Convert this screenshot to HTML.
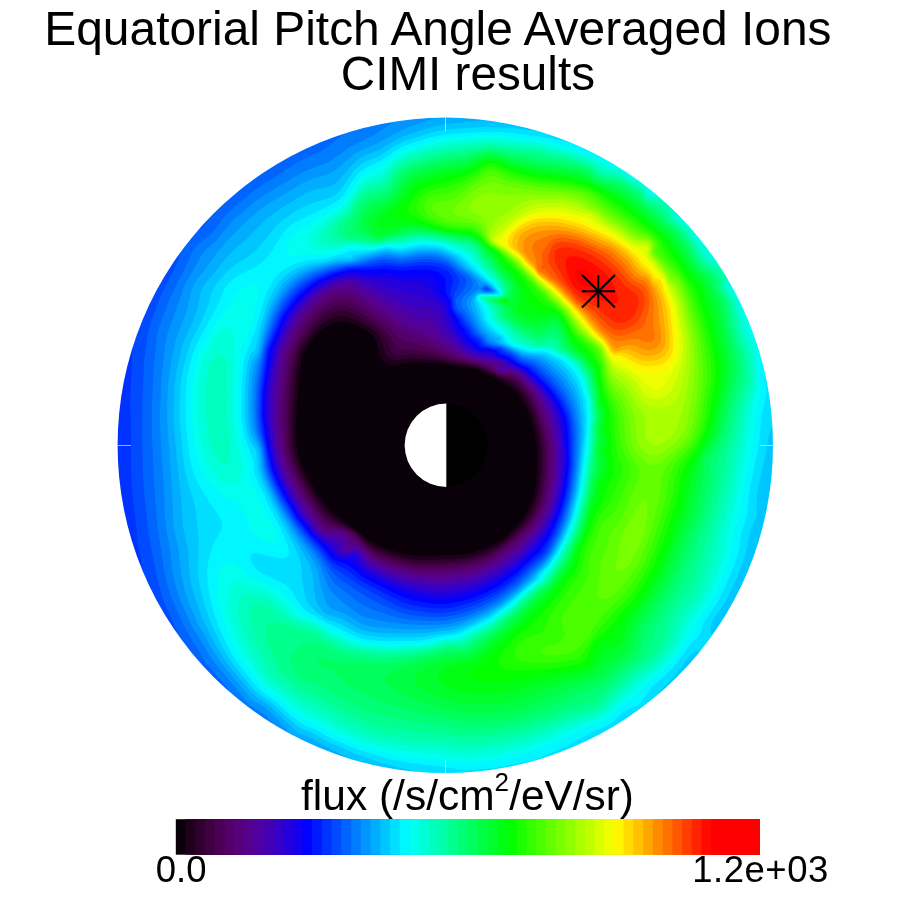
<!DOCTYPE html>
<html lang="en">
<head>
<meta charset="utf-8">
<title>Equatorial Pitch Angle Averaged Ions - CIMI results</title>
<style>
html,body{margin:0;padding:0;background:#fff;}
body{width:900px;height:900px;overflow:hidden;}
svg{display:block;}
text{font-family:"Liberation Sans",Arial,Helvetica,sans-serif;fill:#000;}
</style>
</head>
<body>
<svg width="900" height="900" viewBox="0 0 900 900">
<rect width="900" height="900" fill="#fff"/>
<circle cx="445.3" cy="445.3" r="230" fill="#0a0009"/>
<g fill-rule="evenodd">
<path fill="#1e001c" d="M463.0 775.3l-35 0 -1-1 -13 0 -1-1 -8 0 -1-1 -6 0 -1-1 -6 0 -1-1 -4-0.1 -1-0.9 -4-0.1 -1-1 -4 0 -1-1 -4 0 -1-1 -3 0 -1-1 -3 0 -1-1 -3 0 -1-1 -2 0 -1-1 -3 0 -1-1 -2 0 -1-1 -2 0 -1-1 -2 0 -1-1 -2 0 -1-1 -2 0 -1-1 -2 0 -1-1 -2 0 -3-2 -2 0 -1-1 -2 0 -1-1 -1 0 -1-1 -1 0 -1-1 -2 0 -1-1 -1 0 -3-2 -2 0 -1-1 -1 0 -1-1 -1 0 -1-1 -1 0 -1-1 -1 0 -1-1 -1 0 -3-2 -1 0 -1-1 -1 0 -1-1 -1 0 -1-1 -1 0 -1-1 -1 0 -2-2 -1 0 -1-1 -1 0 -1-1 -1 0 -2-2 -1 0 -1-1 -1 0 -2-2 -1 0 -1-1 -1 0 -2-2 -1 0 -2-2 -1 0 -2-2 -1 0 -2-2 -1 0 -2-2 -1 0 -2-2 -1 0 -3-3 -1 0 -3-3 -1 0 -4-4 -1 0 -4-4 -1 0 -6-6 -1 0 -29.2-29.2 0-1 -6-6 0-1 -5-5 0-1 -3-3 0-1 -3-3 0-1 -3-3 0-1 -2-2 0-1 -3-3 0-1 -2-2 0-1 -2-2 0-1 -2-2 0-1 -1-1 0-1 -2-2 0-1 -1-1 0-1 -2-2 0-1 -1-1 0-1 -2-2 0-1 -1-1 0-1 -1-1 0-1 -1-1 0-1 -2-3 0-1 -2-2 0-1 -1-1 0-1 -1-1 0-2 -2-3 0-1 -1-1 0-1 -1-1 0-1 -1-1 0-1 -1-1 0-2 -2-3 0-1 -1-1 0-2 -1-1 0-1 -1-1 0-2 -1-1 0-2 -2-3 0-2 -1-1 0-2 -1-1 0-2 -1-1 0-2 -1-1 0-2 -1-1 0-2 -1-1 0-3 -1-1 0-2 -1-1 0-3 -1-1 0-3 -1-1 0-3 -1-1 0-3 -1-1 0-4 -1-1 0-4 -1-1 0-5 -1-1 0-5 -1-1 0-6 -1-1 0-7 -1-1 0-10 -1-1 0-48 1-1 0-10 1-1 0-7 1-1 0-6 1-1 0-5 1-1 0-4 1-1 0-4 1-1 0-4 1-1 0-3 1-1 0-3 1-1 0-3 1-1 0-3 1-1 0-3 1-1 0-2 1-1 0-2 1-1 0-2 1-1 0-2 1-1 0-2 1-1 0-2 1-1 0-2 1-1 0-2 2-3 0-2 1-1 0-2 1-1 0-1 1-1 0-1 1-1 0-2 2-3 0-1 1-1 0-2 1-1 0-1 1-1 0-1 1-1 0-1 1-1 0-1 1-1 0-1 1-1 0-1 1-1 0-1 1-1 0-1 1-1 0-1 1-1 0-1 2-2 0-1 1-1 0-1 1-1 0-1 2-2 0-1 1-1 0-1 2-2 0-1 1-1 0-1 2-2 0-1 2-2 0-1 1-1 0-1 2-2 0-1 3-3 0-1 2-2 0-1 3-3 0-1 3-3 0-1 3-3 0-1 4-4 0-1 5-5 0-1 8-8 0-1 18.2-18.2 1 0 8-8 1 0 5-5 1 0 4-4 1 0 3-3 1 0 3-3 1 0 3-3 1 0 2-2 1 0 3-3 1 0 2-2 1 0 1-1 1 0 2-2 1 0 2-2 1 0 1-1 1 0 2-2 1 0 1-1 1 0 2-2 1 0 1-1 1 0 1-1 1 0 2-2 1 0 1-1 1 0 1-1 1 0 1-1 1 0 1-1 1 0 1-1 1 0 1-1 1 0 1-1 1 0 1-1 1 0 1-1 1 0 1-1 2 0 3-2 1 0 1-1 2 0 3-2 1 0 1-1 2 0 1-1 2 0 3-2 2 0 1-1 2 0 1-1 2 0 1-1 2 0 1-1 2 0 1-1 2 0 1-1 2 0 1-1 2 0 1-1 3 0 1-1 3 0 1-1 3 0 1-1 3 0 1-1 3 0 1-1 4 0 1-1 4 0 1-1 4 0 1-1 5 0 1-1 6 0 1-1 7 0 1-1 10 0 1-1 48 0 1 1 10 0 1 1 7 0 1 1 6 0 1 1 5 0 1 1 5 0 1 1 4 0 1 1 4 0 1 0.9 3 0 1 1 3 0 1 1 3 0 1 1 3 0 1 1 2 0 1 1 3 0 1 1 2 0 1 1 2 0 1 1 2 0 1 1 2 0 1 1 2 0 1 1 2 0 3 2 2 0 1 1 2 0 3 2 2 0 1 1 1 0 1 1 1 0 1 1 2 0 1 1 1 0 1 1 1 0 1 1 1 0 1 1 1 0 3 2 2 0 1 1 1 0 1 1 1 0 2 2 1 0 1 1 1 0 3 2 1 0 1 1 1 0 1 1 1 0 2 2 1 0 1 1 1 0 2 2 1 0 1 1 1 0 2 2 1 0 1 1 1 0 2 2 1 0 2 2 1 0 2 2 1 0 3 3 1 0 2 2 1 0 3 3 1 0 3 3 1 0 3 3 1 0 5 5 1 0 6 6 1 0 29.3 29.3 0 1 6 6 0 1 4 4 0 1 4 4 0 1 3 3 0 1 3 3 0 1 2 2 0 1 2 2 0 1 2 2 0 1 2 2 0 1 2 2 0 1 2 2 0 1 1 1 0 1 2 2 0 1 1 1 0 1 2 2 0 1 2 3 0 1 2 2 0 1 1 1 0 1 2 3 0 1 1 1 0 1 1 1 0 1 1 1 0 1 1 1 0 1 1 1 0 1 1 1 0 1 1 1 0 1 1 1 0 2 1 1 0 1 1 1 0 1 1 1 0 2 2 3 0 1 1 1 0 2 1 1 0 2 2 3 0 2 1 1 0 2 1 1 0 2 1 1 0 2 1 1 0 2 1 1 0 2 1 1 0 2 1 1 0 3 1 1 0 2 1 1 0 3 1 1 0 3 1 1 0 3 1 1 0 4 1 1 0 4 1 1 0 4 1 1 0 4 1 1 0 6 1 1 0 6 1 1 0 8 1 1 0 13 1 1 -0.1 35 -0.9 1 -0.1 12 -1 1 0 8 -1 1 0 7 -1 1 0 5 -1 1 0 5 -1 1 0 4 -1 1 0 4 -1 1 0 3 -1 1 0 3 -1 1 0 3 -1 1 0 3 -1 1 0 3 -1 1 0 2 -1 1 0 3 -1 1 0 2 -1 1 0 2 -1 1 0 2 -1 1 0 2 -1 1 0 2 -2 3 0 2 -1 1 0 2 -2 3 0 2 -1 1 0 1 -1 1 0 1 -1 1 0 2 -1 1 0 1 -1 1 0 1 -2 3 0 2 -1 1 0 1 -1 1 0 1 -1 1 0 1 -2 3 0 1 -1 1 0 1 -1 1 0 1 -2 2 0 1 -2 3 0 1 -1 1 0 1 -2 2 0 1 -1 1 0 1 -2 2 0 1 -1 1 0 1 -2 2 0 1 -2 2 0 1 -1 1 0 1 -2 2 0 1 -2.9 3 0 1 -2 2 0 1 -3 3 0 1 -2 2 0 1 -4 4 0 1 -4 4 0 1 -4 4 0 1 -7.1 7 0 1 -23.2 23.3 -1 0 -7 7 -1 0 -4 4 -1 0 -4 4 -1 0 -4 4 -1 0 -2 2 -1 0 -3 3 -1 0 -2 2 -1 0 -3 3 -1 0 -2 2 -1 0 -1 1 -1 0 -2 2 -1 0 -2 2 -1 0 -1 1 -1 0 -2 2 -1 0 -1 1 -1 0 -2 2 -1 0 -3 2 -1 0 -1 1 -1 0 -2 2 -1 0 -3 2 -1 0 -1 1 -1 0 -3 2 -1 0 -1 1 -1 0 -1 1 -2 0 -1 1 -1 0 -1 1 -1 0 -3 2 -2 0 -1 1 -1 0 -3 2 -2 0 -3 2 -2 0 -1 1 -2 0 -3 2 -2 0 -1 1 -2 0 -1 1 -2 0 -1 1 -2 0 -1 1 -2 0 -1 1 -3 0 -1 1 -2 0 -1 1 -3 0 -1 1 -3 0 -1 1 -3 0 -1 1 -3 0 -1 1 -3 0 -1 1 -4 0 -1 1 -4 0 -1 1 -5 0 -1 1 -5 0 -1 1 -7 0 -1 1 -8 0 -1 1 -12 0 -1 1zM438.1 556.0l20.9-1.2 10-1.4 11-3.1 12.1-5.3 8.9-4.7 4.3-3.3 12.7-12.5 8-10.5 5-10 3.5-11 2-12 0.9-15 -0.4-16.3 -2-14.9 -3.4-13.8 -4.6-12 -6.7-12 -3.3-4.2 -4-3.8 -11-6.6 -4.5-3.4 -6.5-3.3 -7-2.5 -5-3.3 -11-3 -11-0.7 -19-3 -25-0.8 -6 0.5 -12 2 -4 0 -3-0.5 -3.1-1.4 -3.1-3 -1.9-4 -2.3-11 -1.9-5 -3.6-5 -5.1-4.3 -10-5.3 -10-3 -5-0.5 -4 0.2 -4 0.8 -4 1.5 -5 2.9 -4.7 3.7 -4.3 4.3 -5 6.1 -3.9 5.6 -2.8 5 -1.7 5 -1.4 6 -1.7 13 -2.5 29.3 -1 17.2 -0.2 14.5 0.7 9 1.5 7.6 2.6 8.4 3.4 7.9 6 11.5 6 10 7 10.2 6 7.5 5.2 4.9 14.6 11 9.2 5.7 8 7.8 3 2.3 6.1 3.2 9.9 4.2 10 3.4 9.8 2.4 15.2 2.3 18.1-0.3z"/>
<path fill="#30002f" d="M463.0 775.2l-35 0 -1-1 -13 0 -1-1 -8 0 -1-1 -6 0 -1-1 -6 0 -1-1 -4 0 -1-1 -4 0 -1-1 -4 0 -1-1 -4 0 -1-1 -3 0 -1-1 -3 0 -1-1 -3 0 -1-1 -2 0 -1-1 -3 0 -1-1 -2 0 -1-1 -2 0 -1-1 -2 0 -1-1 -2 0 -1-1 -2 0 -1-1 -2 0 -1-1 -2 0 -3-2 -2 0 -1-1 -2 0 -1-1 -1 0 -1-1 -1 0 -1-1 -2 0 -1-1 -1 0 -3-2 -2 0 -1-1 -1 0 -1-1 -1 0 -1-1 -1 0 -1-1 -1 0 -1-1 -1 0 -3-2 -1 0 -1-1 -1 0 -1-1 -1 0 -1-1 -1 0 -1-1 -1 0 -2-2 -1 0 -1-1 -1 0 -1-1 -1 0 -2-2 -1 0 -1-1 -1 0 -2-2 -1 0 -1-1 -1 0 -2-2 -1 0 -2-2 -1 0 -2-2 -1 0 -2-2 -1 0 -2-2 -1 0 -2-2 -1 0 -3-3 -1 0 -3-3 -1 0 -4-4 -1 0 -4-4 -1 0 -6-6 -1 0 -29.2-29.2 0-1 -6-6 0-1 -5-5 0-1 -3-3 0-1 -3-3 0-1 -3-3 0-1 -2-2 0-1 -3-3 0-1 -2-2 0-1 -2-2 0-1 -2-2 0-1 -1-1 0-1 -2-2 0-1 -1-1 0-1 -2-2 0-1 -1-1 0-1 -2-2 0-1 -1-1 0-1 -1-1 0-1 -1-1 0-1 -2-3 0-1 -2-2 0-1 -1-1 0-1 -1-1 0-2 -2-3 0-1 -1-1 0-1 -1-1 0-1 -1-1 0-1 -1-1 0-2 -2-3 0-1 -1-1 0-2 -1-1 0-1 -1-1 0-2 -1-1 0-2 -2-3 0-2 -1-1 0-2 -1-1 0-2 -1-1 0-2 -1-1 0-2 -1-1 0-2 -1-1 0-3 -1-1 0-2 -1-1 0-3 -1-1 0-3 -1-1 0-3 -1-1 0-3 -1-1 0-4 -1-1 0-4 -1-1 0-5 -1-1 0-5 -1-1 0-6 -1-1 0-7 -1-1 0-10 -1-1 0-48 1-1 0-10 1-1 0-7 1-1 0-6 1-1 0-5 1-1 0-4 1-1 0-4 1-1 0-4 1-1 0-3 1-1 0-3 1-1 0-3 1-1 0-3 1-1 0-3 1-1 0-2 1-1 0-2 1-1 0-2 1-1 0-2 1-1 0-2 1-1 0-2 1-1 0-2 1-1 0-2 2-3 0-2 1-1 0-2 1-1 0-1 1-1 0-1 1-1 0-2 2-3 0-1 1-1 0-2 1-1 0-1 1-1 0-1 1-1 0-1 1-1 0-1 1-1 0-1 1-1 0-1 1-1 0-1 1-1 0-1 1-1 0-1 1-1 0-1 2-2 0-1 1-1 0-1 1-1 0-1 2-2 0-1 1-1 0-1 2-2 0-1 1-1 0-1 2-2 0-1 2-2 0-1 1-1 0-1 2-2 0-1 3-3 0-1 2-2 0-1 3-3 0-1 3-3 0-1 3-3 0-1 4-4 0-1 5-5 0-1 8-8 0-1 18.2-18.2 1 0 8-8 1 0 5-5 1 0 4-4 1 0 3-3 1 0 3-3 1 0 3-3 1 0 2-2 1 0 3-3 1 0 2-2 1 0 1-1 1 0 2-2 1 0 2-2 1 0 1-1 1 0 2-2 1 0 1-1 1 0 2-2 1 0 1-1 1 0 1-1 1 0 2-2 1 0 1-1 1 0 1-1 1 0 1-1 1 0 1-1 1 0 1-1 1 0 1-1 1 0 1-1 1 0 1-1 1 0 1-1 1 0 1-1 2 0 3-2 1 0 1-1 2 0 3-2 1 0 1-1 2 0 1-1 2 0 3-2 2 0 1-1 2 0 1-1 2 0 1-1 2 0 1-1 2 0 1-1 2 0 1-1 2 0 1-1 2 0 1-1 3 0 1-1 3 0 1-1 3 0 1-1 3 0 1-1 3 0 1-1 4 0 1-1 4 0 1-1 4 0 1-1 5 0 1-1 6 0 1-1 7 0 1-1 10 0 1-1 48 0 1 1 10 0 1 1 7 0 1 1 6 0 1 1 5 0 1 1 5 0 1 1 4 0 1 1 4 0 1 1 3 0 1 1 3 0 1 1 3 0 1 1 3 0 1 1 2 0 1 1 3 0 1 1 2 0 1 1 2 0 1 1 2 0 1 1 2 0 1 1 2 0 1 1 2 0 3 2 2 0 1 1 2 0 3 2 2 0 1 0.9 1 0 1 1 1 0 1 1 2 0 1 1 1 0 1 1 1 0 1 1 1 0 1 1 1 0 3 2 2 0 1 1 1 0 1 1 1 0 2 2 1 0 1 1 1 0 3 2 1 0 1 1 1 0 1 1 1 0 2 2 1 0 1 1 1 0 2 2 1 0 1 1 1 0 2 2 1 0 1 1 1 0 2 2 1 0 2 2 1 0 2 2 1 0 3 3 1 0 2 2 1 0 3 3 1 0 3 3 1 0 3 3 1 0 5 5 1 0 6 6 1 0 29.3 29.3 0 1 6 6 0 1 4 4 0 1 4 4 0 1 3 3 0 1 3 3 0 1 2 2 0 1 2 2 0 1 2 2 0 1 2 2 0 1 2 2 0 1 2 2 0 1 1 1 0 1 2 2 0 1 1 1 0 1 2 2 0 1 2 3 0 1 2 2 0 1 1 1 0 1 2 3 0 1 1 1 0 1 1 1 0 1 1 1 0 1 1 1 0 1 1 1 0 1 1 1 0 1 1 1 0 1 1 1 0 2 1 1 0 1 1 1 0 1 1 1 0 2 2 3 0 1 1 1 0 2 1 1 0 2 2 3 0 2 1 1 0 2 1 1 0 2 1 1 0 2 1 1 0 2 1 1 0 2 1 1 0 2 1 1 0 3 1 1 0 2 1 1 0 3 1 1 0 3 1 1 0 3 1 1 0 4 1 1 0 4 0.9 1 0.1 4 0.9 1 0.1 4 0.9 1 0 6 1 1 0 6 1 1 0 8 1 1 0 13 1 1 0 35 -1 1 0 12 -1 1 0 8 -1 1 0 7 -1 1 0 5 -1 1 0 5 -1 1 0 4 -1 1 0 4 -1 1 0 3 -1 1 0 3 -1 1 0 3 -1 1 0 3 -1 1 0 3 -1 1 0 2 -1 1 0 3 -1 1 0 2 -1 1 0 2 -1 1 0 2 -1 1 0 2 -1 1 0 2 -2 3 0 2 -1 1 0 2 -2 3 0 2 -1 1 0 1 -1 1 0 1 -1 1 0 2 -1 1 0 1 -1 1 0 1 -2 3 0 2 -1 1 0 1 -1 1 0 1 -1 1 0 1 -2 3 0 1 -1 1 0 1 -1 1 0 1 -2 2 0 1 -2 3 0 1 -1 1 0 1 -2 2 0 1 -1 1 0 1 -2 2 0 1 -1 1 0 1 -2 2 0 1 -2 2 0 1 -1 1 0 1 -2 2 0 1 -3 3 0 1 -2 2 0 1 -3 3 0 1 -2 2 0 1 -4 4 0 1 -4 4 0 1 -4 4 0 1 -7 7 0 1 -23.2 23.2 -1 0 -7 7 -1 0 -4 4 -1 0 -4 4 -1 0 -4 4 -1 0 -2 2 -1 0 -3 3 -1 0 -2 2 -1 0 -3 3 -1 0 -2 2 -1 0 -1 1 -1 0 -2 2 -1 0 -2 2 -1 0 -1 1 -1 0 -2 2 -1 0 -1 1 -1 0 -2 2 -1 0 -3 2 -1 0 -1 1 -1 0 -2 2 -1 0 -3 2 -1 0 -1 1 -1 0 -3 2 -1 0 -1 1 -1 0 -1 1 -2 0 -1 1 -1 0 -1 1 -1 0 -3 2 -2 0 -1 1 -1 0 -3 2 -2 0 -3 2 -2 0 -1 1 -2 0.1 -3 1.9 -2 0.1 -1 1 -2 0 -1 1 -2 0 -1 1 -2 0 -1 1 -2 0 -1 1 -3 0 -1 1 -2 0 -1 1 -3 0 -1 1 -3 0 -1 1 -3 0 -1 1 -3 0 -1 1 -3 0 -1 1 -4 0 -1 1 -4 0 -1 0.9 -5 0.1 -1 0.9 -5 0.1 -1 0.9 -7 0.1 -1 0.9 -8 0 -1 1 -12 0 -1 1zM448.9 559.0l14.1-1.1 11-2.2 10.7-3.7 12.3-6.1 8.8-5.9 12.7-12 7.8-9 4.9-8 4.8-11.5 3-13.4 1.4-15.1 0.1-17 -1.1-12 -2.6-14 -3.9-13 -4.8-11 -3.1-5.7 -3.6-5.3 -3.4-4 -4-3.5 -11.3-6.5 -17.7-7.9 -5.6-3.1 -9.4-2.4 -18-2.1 -12-2.8 -21-2.1 -8-0.1 -14 1.8 -5-0.6 -3.5-1.7 -2.5-3 -1.3-3 -2.7-10 -3.1-6 -4.4-5 -5.5-4.2 -12-6.4 -6-2.4 -5-1.4 -4-0.5 -4 0.2 -4 1 -5 2 -6 3.9 -5 4.3 -5 5.5 -6 7.8 -4 5.9 -2 3.9 -2 6.4 -1.5 7 -1.7 14 -2 23 -1 21 0.1 17 1 10 1.9 8 3.2 9 4 8.7 6 11.2 7 11.4 6.1 8.7 5.9 7 7.4 6 20.6 12.5 10 9.8 6 4.3 8.9 4.4 10.5 4 8.6 2.4 11 2.4 7 0.9 7 0.3 23.9-1z"/>
<path fill="#3f0042" d="M463.0 775.2l-35 0 -1-1 -13 0 -1-1 -8 0 -1-1 -6 0 -1-1 -6 0 -1-1 -4 0 -1-1 -4 0 -1-1 -4 0 -1-1 -4 0 -1-1 -3 0 -1-1 -3 0 -1-1 -3 0 -1-1 -2 0 -1-1 -3 0 -1-1 -2 0 -1-1 -2 0 -1-1 -2 0 -1-1 -2 0 -1-1 -2 0 -1-1 -2 0 -1-1 -2 0 -3-2 -2 0 -1-1 -2 0 -1-1 -1 0 -1-1 -1 0 -1-1 -2 0 -1-1 -1 0 -3-2 -2 0 -1-1 -1 0 -1-1 -1 0 -1-1 -1 0 -1-1 -1 0 -1-1 -1 0 -3-2 -1 0 -1-1 -1 0 -1-1 -1 0 -1-1 -1 0 -1-1 -1 0 -2-2 -1 0 -1-1 -1 0 -1-1 -1 0 -2-2 -1 0 -1-1 -1 0 -2-2 -1 0 -1-1 -1 0 -2-2 -1 0 -2-2 -1 0 -2-2 -1 0 -2-2 -1 0 -2-2 -1 0 -2-2 -1 0 -3-3 -1 0 -3-3 -1 0 -4-4 -1 0 -4-4 -1 0 -6-6 -1 0 -29.2-29.2 0-1 -6-6 0-1 -5-5 0-1 -3-3 0-1 -3-3 0-1 -3-3 0-1 -2-2 0-1 -3-3 0-1 -2-2 0-1 -2-2 0-1 -2-2 0-1 -1-1 0-1 -2-2 0-1 -1-1 0-1 -2-2 0-1 -1-1 0-1 -2-2 0-1 -1-1 0-1 -1-1 0-1 -1-1 0-1 -2-3 0-1 -2-2 0-1 -1-1 0-1 -1-1 0-2 -2-3 0-1 -1-1 0-1 -1-1 0-1 -1-1 0-1 -1-1 0-2 -2-3 0-1 -1-1 0-2 -1-1 0-1 -1-1 0-2 -1-1 0-2 -2-3 0-2 -1-1 0-2 -1-1 0-2 -1-1 0-2 -1-1 0-2 -1-1 0-2 -1-1 0-3 -1-1 0-2 -1-1 0-3 -1-1 0-3 -1-1 0-3 -1-1 0-3 -1-1 0-4 -1-1 0-4 -1-1 0-5 -1-1 0-5 -1-1 0-6 -1-1 0-7 -1-1 0-10 -1-1 0-48 1-1 0-10 1-1 0-7 1-1 0-6 1-1 0-5 1-1 0-4 1-1 0-4 1-1 0-4 1-1 0-3 1-1 0-3 1-1 0-3 1-1 0-3 1-1 0-3 1-1 0-2 1-1 0-2 1-1 0-2 1-1 0-2 1-1 0-2 1-1 0-2 1-1 0-2 1-1 0-2 2-3 0-2 1-1 0-2 1-1 0-1 1-1 0-1 1-1 0-2 2-3 0-1 1-1 0-2 1-1 0-1 1-1 0-1 1-1 0-1 1-1 0-1 1-1 0-1 1-1 0-1 1-1 0-1 1-1 0-1 1-1 0-1 1-1 0-1 2-2 0-1 1-1 0-1 1-1 0-1 2-2 0-1 1-1 0-1 2-2 0-1 1-1 0-1 2-2 0-1 2-2 0-1 1-1 0-1 2-2 0-1 3-3 0-1 2-2 0-1 3-3 0-1 3-3 0-1 3-3 0-1 4-4 0-1 5-5 0-1 8-8 0-1 18.2-18.2 1 0 8-8 1 0 5-5 1 0 4-4 1 0 3-3 1 0 3-3 1 0 3-3 1 0 2-2 1 0 3-3 1 0 2-2 1 0 1-1 1 0 2-2 1 0 2-2 1 0 1-1 1 0 2-2 1 0 1-1 1 0 2-2 1 0 1-1 1 0 1-1 1 0 2-2 1 0 1-1 1 0 1-1 1 0 1-1 1 0 1-1 1 0 1-1 1 0 1-1 1 0 1-1 1 0 1-1 1 0 1-1 1 0 1-1 2 0 3-2 1 0 1-1 2 0 3-2 1 0 1-1 2 0 1-1 2 0 3-2 2 0 1-1 2 0 1-1 2 0 1-1 2 0 1-1 2 0 1-1 2 0 1-1 2 0 1-1 2 0 1-1 3 0 1-1 3 0 1-1 3 0 1-1 3 0 1-1 3 0 1-1 4 0 1-1 4 0 1-1 4 0 1-1 5 0 1-1 6 0 1-1 7 0 1-1 10 0 1-1 48 0 1 1 10 0 1 1 7 0 1 1 6 0 1 1 5 0 1 1 5 0 1 1 4 0 1 1 4 0 1 1 3 0 1 1 3 0 1 1 3 0 1 1 3 0 1 1 2 0 1 1 3 0 1 1 2 0 1 1 2 0 1 1 2 0 1 1 2 0 1 1 2 0 1 1 2 0 3 2 2 0 1 1 2 0 3 2 2 0 1 1 1 0 1 1 1 0 1 1 2 0 1 1 1 0 1 1 1 0 1 1 1 0 1 1 1 0 3 2 2 0 1 1 1 0 1 1 1 0 2 2 1 0 1 1 1 0 3 2 1 0 1 1 1 0 1 1 1 0 2 2 1 0 1 1 1 0 2 2 1 0 1 1 1 0 2 1.9 1 0 1 1 1 0 2 2 1 0 2 2 1 0 2 2 1 0 3 3 1 0 2 2 1 0 3 3 1 0 3 3 1 0 3 3 1 0.1 5 4.9 1 0 6 6 1 0 29.3 29.3 0 1 6 6 0 1 4 4 0 1 4 4 0 1 3 3 0 1 3 3 0 1 2 2 0 1 2 2 0 1 2 2 0 1 2 2 0 1 2 2 0 1 2 2 0 1 1 1 0 1 2 2 0 1 1 1 0 1 2 2 0 1 2 3 0 1 2 2 0 1 1 1 0 1 2 3 0 1 1 1 0 1 1 1 0 1 1 1 0 1 1 1 0 1 1 1 0 1 1 1 0 1 1 1 0 1 1 1 0 2 1 1 0 1 1 1 0 1 1 1 0 2 1.9 3 0.1 1 0.9 1 0.1 2 0.9 1 0 2 2 3 0 2 1 1 0.1 2 0.9 1 0.1 2 0.9 1 0.1 2 1 1 0 2 1 1 0 2 0.9 1 0.1 2 0.9 1 0 3 1 1 0 2 1 1 0 3 1 1 0 3 1 1 0 3 1 1 0 4 1 1 0 4 1 1 0 4 1 1 0 4 1 1 0 6 1 1 0 6 1 1 0 8 1 1 0 13 1 1 0 35 -1 1 0 12 -1 1 0 8 -1 1 0 7 -1 1 0 5 -1 1 0 5 -1 1 0 4 -1 1 0 4 -1 1 0 3 -1 1 0 3 -1 1 0 3 -1 1 0 3 -1 1 0 3 -1 1 0 2 -1 1 0 3 -1 1 0 2 -1 1 0 2 -1 1 0 2 -1 1 0 2 -1 1 0 2 -2 3 0 2 -1 1 0 2 -2 3 0 2 -1 1 0 1 -1 1 0 1 -1 1 0 2 -1 1 0 1 -1 1 0 1 -2 3 0 2 -1 1 0 1 -1 1 0 1 -1 1 0 1 -2 3 0 1 -1 1 0 1 -1 1 0 1 -2 2 0 1 -2 3 0 1 -1 1 0 1 -2 2 0 1 -1 1 0 1 -2 2 0 1 -1 1 0 1 -2 2 0 1 -2 2 0 1 -1 1 0 1 -2 2 0 1 -3 3 0 1 -2 2 0 1 -3 3 0 1 -2 2 0 1 -4 4 0 1 -4 4 0 1 -4 4 0 1 -7 7 0 1 -23.2 23.2 -1 0 -7 7 -1 0 -4 4 -1 0 -4 4 -1 0 -4 4 -1 0 -2 2 -1 0 -3 3 -1 0 -2 2 -1 0 -3 3 -1 0 -2 2 -1 0 -1 1 -1 0 -2 2 -1 0 -2 2 -1 0 -1 1 -1 0 -2 2 -1 0 -1 1 -1 0 -2 2 -1 0 -3 2 -1 0 -1 1 -1 0 -2 2 -1 0 -3 2 -1 0 -1 1 -1 0 -3 2 -1 0 -1 1 -1 0 -1 1 -2 0 -1 1 -1 0 -1 1 -1 0 -3 2 -2 0 -1 1 -1 0 -3 2 -2 0 -3 2 -2 0 -1 1 -2 0 -3 2 -2 0 -1 1 -2 0 -1 1 -2 0 -1 1 -2 0 -1 1 -2 0 -1 1 -3 0 -1 1 -2 0 -1 1 -3 0 -1 1 -3 0 -1 1 -3 0 -1 1 -3 0 -1 1 -3 0 -1 1 -4 0 -1 1 -4 0 -1 1 -5 0 -1 1 -5 0 -1 1 -7 0 -1 1 -8 0 -1 1 -12 0 -1 1zM450.3 562.0l12.7-1.1 11-2.2 10.7-3.7 10.3-5.2 11.3-7.8 8.7-7.5 12-12.5 3.7-5 2.9-5 4.4-10.3 3.1-12.7 1.7-15 0.4-17 -0.7-12 -2.5-14.4 -4-14.5 -4-10.2 -5-9.3 -5-7.1 -6-6.1 -5.2-3.4 -13.8-4.6 -16.5-8.4 -6.6-2 -21.9-3.3 -12-3.3 -22-3.8 -7-0.3 -12 1.1 -4-0.6 -2.9-1.8 -1.6-2 -4.1-11 -3.6-6 -4.8-5.1 -6.4-4.9 -16.6-9.4 -8-3.4 -4-0.7 -4 0.1 -4 0.9 -4 1.5 -6 3.5 -6 4.9 -5 5.1 -6 7.5 -8.5 13 -2.6 7 -1.9 7.5 -2 13.7 -1.9 21.8 -0.9 22 0 17 0.7 10 1.5 8 2.6 8.8 4 9.5 7 13.6 6 10.2 8 11.8 6 7.2 7.3 5.9 11.7 5.8 10 5.8 12 11.8 7 5 8 3.9 10 3.8 10 2.7 10.8 2.2 13.2 1 24.3-1z"/>
<path fill="#4c0055" d="M463.0 775.2l-35 0 -1-1 -13 0 -1-1 -8 0 -1-1 -6 0 -1-1 -6 0 -1-1 -4 0 -1-1 -4 0 -1-1 -4 0 -1-1 -4 0 -1-1 -3 0 -1-1 -3 0 -1-1 -3 0 -1-1 -2 0 -1-1 -3 0 -1-1 -2 0 -1-1 -2 0 -1-1 -2 0 -1-1 -2 0 -1-1 -2 0 -1-1 -2 0 -1-1 -2 0 -3-2 -2 0 -1-1 -2 0 -1-1 -1 0 -1-1 -1 0 -1-1 -2 0 -1-1 -1 0 -3-2 -2 0 -1-1 -1 0 -1-1 -1 0 -1-1 -1 0 -1-1 -1 0 -1-1 -1 0 -3-2 -1 0 -1-1 -1 0 -1-1 -1 0 -1-1 -1 0 -1-1 -1 0 -2-2 -1 0 -1-1 -1 0 -1-1 -1 0 -2-2 -1 0 -1-1 -1 0 -2-2 -1 0 -1-1 -1 0 -2-2 -1 0 -2-2 -1 0 -2-2 -1 0 -2-2 -1 0 -2-2 -1 0 -2-2 -1 0 -3-3 -1 0 -3-3 -1 0 -4-4 -1 0 -4-4 -1 0 -6-6 -1 0 -29.2-29.2 0-1 -6-6 0-1 -5-5 0-1 -3-3 0-1 -3-3 0-1 -3-3 0-1 -2-2 0-1 -3-3 0-1 -2-2 0-1 -2-2 0-1 -2-2 0-1 -1-1 0-1 -2-2 0-1 -1-1 0-1 -2-2 0-1 -1-1 0-1 -2-2 0-1 -1-1 0-1 -1-1 0-1 -1-1 0-1 -2-3 0-1 -2-2 0-1 -1-1 0-1 -1-1 0-2 -2-3 0-1 -1-1 0-1 -1-1 0-1 -1-1 0-1 -1-1 0-2 -2-3 0-1 -1-1 0-2 -1-1 0-1 -1-1 0-2 -1-1 0-2 -2-3 0-2 -1-1 0-2 -1-1 0-2 -1-1 0-2 -1-1 0-2 -1-1 0-2 -1-1 0-3 -1-1 0-2 -1-1 0-3 -1-1 0-3 -1-1 0-3 -1-1 0-3 -1-1 0-4 -1-1 0-4 -1-1 0-5 -1-1 0-5 -1-1 0-6 -0.9-1 0-7 -1-1 0-10 -1-1 0-48 0.9-1 0-10 1-1 0-7 1-1 0-6 1-1 0-5 1-1 0-4 1-1 0-4 1-1 0-4 1-1 0-3 1-1 0-3 1-1 0-3 1-1 0-3 1-1 0-3 1-1 0-2 1-1 0-2 1-1 0-2 1-1 0-2 1-1 0-2 1-1 0-2 1-1 0-2 1-1 0-2 2-3 0-2 1-1 0-2 1-1 0-1 1-1 0-1 1-1 0-2 2-3 0-1 1-1 0-2 1-1 0-1 1-1 0-1 1-1 0-1 1-1 0-1 1-1 0-1 1-1 0-1 1-1 0-1 1-1 0-1 1-1 0-1 1-1 0-1 2-2 0-1 1-1 0-1 1-1 0-1 2-2 0-1 1-1 0-1 2-2 0-1 1-1 0-1 2-2 0-1 2-2 0-1 1-1 0-1 2-2 0-1 3-3 0-1 2-2 0-1 3-3 0-1 3-3 0-1 3-3 0-1 4-4 0-1 5-5 0-1 8-8 0-1 18.2-18.2 1 0 8-8 1 0 5-5 1 0 4-4 1 0 3-3 1 0 3-3 1 0 3-3 1 0 2-2 1 0 3-3 1 0 2-2 1 0 1-1 1 0 2-2 1 0 2-2 1 0 1-1 1 0 2-2 1 0 1-1 1 0 2-2 1 0 1-1 1 0 1-1 1 0 2-2 1 0 1-1 1 0 1-1 1 0 1-1 1 0 1-1 1 0 1-1 1 0 1-1 1 0 1-1 1 0 1-1 1 0 1-1 1 0 1-1 2 0 3-2 1 0 1-1 2 0 3-2 1 0 1-1 2 0 1-1 2 0 3-2 2 0 1-1 2 0 1-1 2 0 1-1 2 0 1-1 2 0 1-1 2 0 1-1 2 0 1-1 2 0 1-1 3 0 1-1 3 0 1-1 3 0 1-1 3 0 1-1 3 0 1-1 4 0 1-1 4 0 1-1 4 0 1-1 5 0 1-1 6 0 1-1 7 0 1-1 10 0 1-1 48 0 1 1 10 0 1 1 7 0 1 1 6 0 1 1 5 0 1 1 5 0 1 1 4 0 1 1 4 0 1 1 3 0 1 1 3 0 1 1 3 0 1 1 3 0 1 1 2 0 1 1 3 0 1 1 2 0 1 1 2 0 1 1 2 0 1 1 2 0 1 1 2 0 1 1 2 0 3 2 2 0 1 1 2 0 3 2 2 0 1 1 1 0 1 1 1 0 1 1 2 0 1 1 1 0 1 1 1 0 1 1 1 0 1 1 1 0 3 2 2 0 1 1 1 0 1 1 1 0 2 2 1 0 1 1 1 0 3 2 1 0 1 1 1 0 1 1 1 0 2 2 1 0 1 1 1 0 2 2 1 0 1 1 1 0 2 2 1 0 1 1 1 0 2 2 1 0 2 2 1 0 2 2 1 0 3 3 1 0 2 2 1 0 3 3 1 0 3 3 1 0 3 3 1 0 5 5 1 0 6 5.9 1 0 29.2 29.3 0 1 6 6 0 1 4 4 0 1 4 4 0 1 3 3 0 1 3 3 0 1 2 2 0 1 2 2 0 1 2 2 0.1 1 2 2 0 1 2 2 0 1 2 2 0 1 1 1 0 1 2 2 0 1 1 1 0 1 1.9 2 0 1 2 3 0 1 2 2 0 1 1 1 0 1 2 3 0 1 1 1 0 1 1 1 0 1 1 1 0 1 1 1 0 1 1 1 0 1 1 1 0 1 1 1 0 1 1 1 0 2 1 1 0 1 1 1 0 1 1 1 0 2 2 3 0 1 1 1 0 2 1 1 0 2 2 3 0 2 1 1 0 2 1 1 0 2 1 1 0 2 1 1 0 2 1 1 0 2 1 1 0 2 1 1 0 3 1 1 0 2 1 1 0 3 1 1 0 3 1 1 0 3 1 1 0 4 1 1 0 4 1 1 0 4 1 1 0 4 1 1 0 6 1 1 0 6 1 1 0 8 1 1 0 13 1 1 0 35 -1 1 0 12 -1 1 0 8 -1 1 0 7 -1 1 0 5 -1 1 0 5 -1 1 0 4 -1 1 0 4 -1 1 0 3 -1 1 0 3 -1 1 0 3 -1 1 0 3 -1 1 0 3 -1 1 0 2 -1 1 0 3 -1 1 0 2 -1 1 0 2 -1 1 0 2 -1 1 0 2 -1 1 0 2 -2 3 0 2 -1 1 0 2 -2 3 0 2 -1 1 0 1 -1 1 0 1 -1 1 0 2 -1 1 0 1 -1 1 0 1 -2 3 0 2 -1 1 0 1 -1 1 0 1 -1 1 0 1 -2 3 0 1 -1 1 0 1 -1 1 0 1 -2 2 0 1 -2 3 0 1 -1 1 0 1 -2 2 0 1 -1 1 0 1 -2 2 0 1 -1 1 0 1 -2 2 0 1 -2 2 0 1 -1 1 0 1 -2 2 0 1 -3 3 0 1 -2 2 0 1 -3 3 0 1 -2 2 0 1 -4 4 0 1 -4 4 0 1 -4 4 0 1 -7 7 0 1 -23.2 23.2 -1 0 -7 7 -1 0 -4 4 -1 0 -4 4 -1 0 -4 4 -1 0 -2 2 -1 0 -3 3 -1 0 -2 2 -1 0 -3 3 -1 0 -2 2 -1 0 -1 1 -1 0 -2 2 -1 0 -2 2 -1 0 -1 1 -1 0 -2 2 -1 0 -1 1 -1 0 -2 2 -1 0 -3 2 -1 0 -1 1 -1 0 -2 2 -1 0 -3 2 -1 0 -1 1 -1 0 -3 2 -1 0 -1 1 -1 0 -1 1 -2 0 -1 1 -1 0 -1 1 -1 0 -3 2 -2 0 -1 1 -1 0 -3 2 -2 0 -3 2 -2 0 -1 1 -2 0 -3 2 -2 0 -1 1 -2 0 -1 1 -2 0 -1 1 -2 0 -1 1 -2 0 -1 1 -3 0 -1 1 -2 0 -1 1 -3 0 -1 1 -3 0 -1 1 -3 0 -1 1 -3 0 -1 1 -3 0 -1 1 -4 0 -1 1 -4 0 -1 1 -5 0 -1 1 -5 0 -1 1 -7 0 -1 1 -8 0 -1 1 -12 0 -1 1zM445.6 565.0l13.4-0.9 11-1.8 13-4 9-4.2 6-3.9 16-12 13.2-13.2 4-5 3.2-5 4.8-10 2-6 1.8-8 1.9-14 0.7-16 -0.4-12 -2-14 -3.1-13 -4.7-14 -5-10 -6-9 -6.6-7 -5.8-4 -15-3.7 -8-4.8 -12-5 -24.3-4.5 -9.7-3.2 -25-6.5 -6-0.8 -10-0.1 -3-0.7 -3.4-2.7 -5.4-9 -5.7-7 -5.5-5 -7-4.9 -18-11.2 -6-2.8 -3-0.8 -4-0.2 -4 0.6 -4 1.4 -6 3.2 -6 4.5 -6 5.7 -6 7.1 -7.2 10.4 -4.1 7 -3 8 -2 7 -1.9 11 -2.2 21 -0.8 17 -0.1 23 0.9 13 1.2 8 2.9 10 3.2 8 7 14 6.9 12 8 12 7.2 9 3.5 3 3.5 2.3 12 4.5 9.2 5.2 3.8 3.1 11 11.2 5 3.9 8 4.2 10 3.9 10 2.9 9 1.9 7 1.1 7 0.4 21.6-0.6z"/>
<path fill="#530068" d="M463.0 775.2l-35 0 -1-1 -13 0 -1-1 -8 0 -1-1 -6 0 -1-1 -6 0 -1-1 -4 0 -1-1 -4 0 -1-1 -4 0 -1-1 -4 0 -1-1 -3 0 -1-1 -3 0 -1-1 -3 0 -1-1 -2 0 -1-1 -3 0 -1-1 -2 0 -1-1 -2 0 -1-1 -2 0 -1-1 -2 0 -1-1 -2 0 -1-1 -2 0 -1-1 -2 0 -3-2 -2 0 -1-1 -2 0 -1-1 -1 0 -1-1 -1 0 -1-1 -2 0 -1-1 -1 0 -3-2 -2 0 -1-1 -1 0 -1-1 -1 0 -1-1 -1 0 -1-1 -1 0 -1-1 -1 0 -3-2 -1 0 -1-1 -1 0 -1-1 -1 0 -1-1 -1 0 -1-1 -1 0 -2-2 -1 0 -1-1 -1 0 -1-1 -1 0 -2-2 -1 0 -1-1 -1 0 -2-2 -1 0 -1-1 -1 0 -2-2 -1 0 -2-2 -1 0 -2-2 -1 0 -2-2 -1 0 -2-2 -1 0 -2-2 -1 0 -3-3 -1 0 -3-3 -1 0 -4-4 -1 0 -4-4 -1 0 -6-6 -1 0 -29.2-29.2 0-1 -6-6 0-1 -5-5 0-1 -3-3 0-1 -3-3 0-1 -3-3 0-1 -2-2 0-1 -3-3 0-1 -2-2 0-1 -2-2 0-1 -2-2 0-1 -1-1 0-1 -2-2 0-1 -1-1 0-1 -2-2 0-1 -0.9-1 -0.1-1 -1.9-2 0-1 -1-1 0-1 -1-1 0-1 -1-1 0-1 -2-3 0-1 -2-2 0-1 -1-1 0-1 -1-1 0-2 -2-3 0-1 -1-1 0-1 -1-1 0-1 -1-1 0-1 -1-1 0-2 -2-3 0-1 -1-1 0-2 -1-1 0-1 -1-1 0-2 -1-1 0-2 -2-3 0-2 -1-1 0-2 -1-1 0-2 -1-1 0-2 -1-1 0-2 -1-1 0-2 -1-1 0-3 -1-1 0-2 -1-1 0-3 -1-1 0-3 -1-1 0-3 -1-1 0-3 -1-1 0-4 -1-1 0-4 -1-1 0-5 -1-1 0-5 -1-1 0-6 -1-1 0-7 -1-1 0-10 -1-1 0-48 1-1 0-10 1-1 0-7 1-1 0-6 1-1 0-5 1-1 0-4 1-1 0-4 1-1 0-4 1-1 0-3 1-1 0-3 1-1 0-3 1-1 0-3 1-1 0-3 1-1 0-2 1-1 0-2 1-1 0-2 1-1 0-2 1-1 0-2 1-1 0-2 1-1 0-2 1-1 0-2 2-3 0-2 1-1 0-2 1-1 0-1 1-1 0-1 1-1 0-2 2-3 0-1 1-1 0-2 1-1 0-1 1-1 0-1 1-1 0-1 1-1 0-1 1-1 0-1 1-1 0-1 1-1 0-1 1-1 0-1 1-1 0-1 1-1 0-1 2-2 0-1 1-1 0-1 1-1 0-1 2-2 0-1 1-1 0-1 1.9-2 0-1 1-1 0-1 2-2 0-1 2-2 0-1 1-1 0-1 2-2 0-1 3-3 0-1 2-2 0-1 3-3 0-1 3-3 0-1 3-3 0-1 4-4 0-1 5-5 0-1 8-8 0-1 18.2-18.2 1 0 8-8 1 0 5-5 1 0 4-4 1 0 3-3 1 0 3-3 1 0 3-3 1 0 2-2 1 0 3-3 1 0 2-2 1 0 1-1 1 0 2-2 1 0 2-2 1 0 1-1 1 0 2-2 1 0 1-1 1 0 2-2 1 0 1-1 1 0 1-1 1 0 2-2 1 0 1-1 1 0 1-1 1 0 1-1 1 0 1-1 1 0 1-1 1 0 1-1 1 0 1-1 1 0 1-1 1 0 1-1 1 0 1-1 2 0 3-2 1 0 1-1 2 0 3-2 1 0 1-1 2 0 1-1 2 0 3-2 2 0 1-1 2 0 1-1 2 0 1-1 2 0 1-1 2 0 1-1 2 0 1-1 2 0 1-1 2 0 1-1 3 0 1-1 3 0 1-1 3 0 1-1 3 0 1-1 3 0 1-1 4 0 1-1 4 0 1-1 4 0 1-1 5 0 1-1 6 0 1-1 7 0 1-1 10 0 1-1 48 0 1 1 10 0 1 1 7 0 1 1 6 0 1 1 5 0 1 1 5 0 1 1 4 0 1 1 4 0 1 1 3 0 1 1 3 0 1 1 3 0 1 1 3 0 1 1 2 0 1 1 3 0 1 1 2 0 1 1 2 0 1 1 2 0 1 1 2 0 1 1 2 0 1 1 2 0 3 2 2 0 1 1 2 0 3 2 2 0 1 1 1 0 1 1 1 0 1 1 2 0 1 1 1 0 1 1 1 0 1 1 1 0 1 1 1 0 3 2 2 0 1 1 1 0 1 1 1 0 2 2 1 0 1 1 1 0 3 2 1 0 1 1 1 0 1 1 1 0 2 2 1 0 1 1 1 0 2 2 1 0 1 1 1 0 2 2 1 0 1 1 1 0 2 2 1 0 2 2 1 0 2 2 1 0 3 3 1 0 2 2 1 0 3 3 1 0 3 3 1 0 3 3 1 0 5 5 1 0 6 6 1 0 29.2 29.2 0 1 6 6 0 1 4 4 0 1 4 4 0 1 3 3 0 1 3 3 0 1 2 2 0 1 2 2 0 1 2 2 0 1 2 2 0 1 2 2 0 1 2 2 0 1 1 1 0 1 2 2 0 1 1 1 0 1 2 2 0 1 2 3 0 1 2 2 0 1 1 1 0 1 2 3 0 1 1 1 0 1 1 1 0 1 1 1 0 1 1 1 0 1 1 1 0 1 1 1 0 1 1 1 0 1 1 1 0 2 1 1 0 1 1 1 0 1 1 1 0 2 2 3 0 1 1 1 0 2 1 1 0 2 2 3 0 2 1 1 0 2 1 1 0 2 1 1 0 2 1 1 0 2 1 1 0 2 1 1 0 2 1 1 0 3 1 1 0 2 1 1 0 3 1 1 0 3 1 1 0 3 1 1 0 4 1 1 0 4 1 1 0 4 1 1 0 4 1 1 0 6 1 1 0 6 1 1 0 8 1 1 0 13 1 1 0 35 -1 1 0 12 -1 1 0 8 -1 1 0 7 -1 1 0 5 -1 1 0 5 -1 1 0 4 -1 1 0 4 -1 1 0 3 -1 1 0 3 -1 1 0 3 -1 1 0 3 -1 1 0 3 -1 1 0 2 -1 1 0 3 -1 1 0 2 -1 1 0 2 -1 1 0 2 -1 1 0 2 -1 1 0 2 -2 3 0 2 -1 1 0 2 -2 3 0 2 -1 1 0 1 -1 1 0 1 -1 1 0 2 -1 1 0 1 -1 1 0 1 -2 3 0 2 -1 1 0 1 -1 1 0 1 -1 1 0 1 -2 3 0 1 -1 1 0 1 -1 1 0 1 -2 2 0 1 -2 3 0 1 -1 1 0 1 -2 2 0 1 -1 1 0 1 -2 2 0 1 -1 1 0 1 -2 2 0 1 -2 2 0 1 -1 1 0 1 -2 2 0 1 -3 3 0 1 -2 2 0 1 -3 3 0 1 -2 2 0 1 -4 4 0 1 -4 4 0 1 -4 4 0 1 -7 7 0 1 -23.2 23.2 -1 0 -7 7 -1 0 -4 4 -1 0 -4 4 -1 0 -4 4 -1 0 -2 2 -1 0 -3 3 -1 0 -2 2 -1 0 -3 3 -1 0 -2 2 -1 0 -1 1 -1 0 -2 2 -1 0 -2 2 -1 0 -1 1 -1 0 -2 2 -1 0 -1 1 -1 0 -2 2 -1 0 -3 2 -1 0 -1 1 -1 0 -2 2 -1 0 -3 2 -1 0 -1 1 -1 0 -3 2 -1 0 -1 1 -1 0 -1 1 -2 0 -1 1 -1 0 -1 1 -1 0 -3 2 -2 0 -1 1 -1 0 -3 2 -2 0 -3 2 -2 0 -1 1 -2 0 -3 2 -2 0 -1 1 -2 0 -1 1 -2 0 -1 1 -2 0 -1 1 -2 0 -1 1 -3 0 -1 1 -2 0 -1 1 -3 0 -1 1 -3 0 -1 1 -3 0 -1 1 -3 0 -1 1 -3 0 -1 1 -4 0 -1 1 -4 0 -1 1 -5 0 -1 1 -5 0 -1 1 -7 0 -1 1 -8 0 -1 1 -12 0 -1 1zM451.5 568.0l12.5-1.3 10-2.3 11-3.8 9-4.6 22-16.2 15-15.5 3.9-5.3 2.9-5 4.8-11 3.3-13 1.7-14 0.6-18 -0.7-13 -2.4-14 -3.2-12 -4.6-13 -5.3-10 -5.5-8 -6.5-7 -6-4.7 -3-1.1 -7-0.3 -5-1 -3-1.3 -6-4.5 -10-4 -25.2-6.1 -9.8-3.8 -11-3.6 -14-5.7 -15-4.1 -3-1.4 -4-3 -10.7-10.4 -5.3-4.4 -29-19.5 -5-2 -5-0.7 -5 0.5 -6 2 -7 4 -6 4.8 -6 6.1 -6 7.3 -6 9 -5.1 8.9 -4.3 11 -2.1 7 -2.4 15 -1.8 19 -0.6 14 0.2 22 1 14 1.3 9 2.4 9 3.9 10 8.5 16.8 6 10.5 9 13.4 7 8.7 3 2.6 3.3 2 12.7 3.2 7.3 3.8 5.7 4.7 14 14.1 4 2.9 8 4.1 10 3.8 9 2.5 11 2.3 7 1 8 0.4 24.5-0.8z"/>
<path fill="#57007b" d="M463.0 775.2l-35 0 -1-1 -13 0 -1-1 -8 0 -1-1 -6 0 -1-1 -6 0 -1-1 -4 0 -1-1 -4 0 -1-1 -4 0 -1-1 -4 0 -1-1 -3 0 -1-1 -3 0 -1-1 -3 0 -1-1 -2 0 -1-1 -3 0 -1-1 -2 0 -1-1 -2 0 -1-1 -2 0 -1-1 -2 0 -1-1 -2 0 -1-1 -2 0 -1-1 -2 0 -3-2 -2 0 -1-1 -2 0 -1-1 -1 0 -1-1 -1 0 -1-1 -2 0 -1-1 -1 0 -3-2 -2 0 -1-1 -1 0 -1-1 -1 0 -1-1 -1 0 -1-1 -1 0 -1-1 -1 0 -3-2 -1 0 -1-1 -1 0 -1-1 -1 0 -1-1 -1 0 -1-1 -1 0 -2-2 -1 0 -1-1 -1 0 -1-1 -1 0 -2-2 -1 0 -1-1 -1 0 -2-2 -1 0 -1-1 -1 0 -2-2 -1 0 -2-2 -1 0 -2-2 -1 0 -2-2 -1 0 -2-2 -1 0 -2-2 -1 0 -3-3 -1 0 -3-3 -1 0 -4-4 -1 0 -4-4 -1 0 -6-6 -1 0 -29.1-29.2 0-1 -6-6 0-1 -5-5 0-1 -3-3 0-1 -3-3 0-1 -3-3 0-1 -2-2 0-1 -3-3 0-1 -2-2 0-1 -2-2 0-1 -2-2 0-1 -1-1 0-1 -2-2 0-1 -1-1 0-1 -2-2 0-1 -1-1 0-1 -2-2 0-1 -1-1 0-1 -1-1 0-1 -1-1 0-1 -2-3 0-1 -2-2 0-1 -1-1 0-1 -1-1 0-2 -2-3 0-1 -1-1 0-1 -1-1 0-1 -1-1 0-1 -1-1 0-2 -2-3 0-1 -1-1 0-2 -1-1 0-1 -1-1 0-2 -1-1 0-2 -2-3 0-2 -1-1 0-2 -1-1 0-2 -1-1 0-2 -1-1 0-2 -1-1 0-2 -1-1 0-3 -1-1 0-2 -1-1 0-3 -1-1 0-3 -1-1 0-3 -1-1 0-3 -1-1 0-4 -1-1 0-4 -1-1 0-5 -1-1 0-5 -1-1 0-6 -1-1 0-7 -1-1 0-10 -1-1 0-48 1-1 0-10 1-1 0-7 1-1 0-6 1-1 0-5 1-1 0-4 1-1 0-4 1-1 0-4 1-1 0-3 1-1 0-3 1-1 0-3 1-1 0-3 1-1 0-3 1-1 0-2 1-1 0-2 1-1 0-2 1-1 0-2 1-1 0-2 1-1 0-2 1-1 0-2 1-1 0-2 2-3 0-2 1-1 0-2 1-1 0-1 1-1 0-1 1-1 0-2 2-3 0-1 1-1 0-2 1-1 0-1 1-1 0-1 1-1 0-1 1-1 0-1 1-1 0-1 1-1 0-1 1-1 0-1 1-1 0-1 1-1 0-1 1-1 0-1 2-2 0-1 1-1 0-1 1-1 0-1 2-2 0-1 1-1 0-1 2-2 0-1 1-1 0-1 2-2 0-1 2-2 0-1 1-1 0-1 2-2 0-1 3-3 0-1 2-2 0-1 3-3 0-1 3-3 0-1 3-3 0-1 4-4 0-1 5-5 0-1 8-8 0-1 18.1-18.1 1 0 8-8 1 0 5-5 1 0 4-4 1 0 3-3 1 0 3-3 1 0 3-3 1 0 2-2 1 0 3-3 1 0 2-2 1 0 1-1 1 0 2-2 1 0 2-2 1 0 1-1 1 0 2-2 1 0 1-1 1 0 2-2 1 0 1-1 1 0 1-1 1 0 2-2 1 0 1-1 1 0 1-1 1 0 1-1 1 0 1-1 1 0 1-1 1 0 1-1 1 0 1-1 1 0 1-1 1 0 1-1 1 0 1-1 2 0 3-2 1 0 1-1 2 0 3-2 1-0.1 1-1 2 0 1-1 2 0 3-2 2 0 1-1 2 0 1-1 2 0 1-1 2 0 1-1 2 0 1-1 2 0 1-1 2 0 1-1 2 0 1-1 3 0 1-1 3 0 1-1 3 0 1-1 3 0 1-1 3 0 1-1 4 0 1-1 4 0 1-1 4 0 1-1 5 0 1-1 6 0 1-1 7 0 1-1 10 0 1-1 48 0 1 1 10 0 1 1 7 0 1 1 6 0 1 1 5 0 1 1 5 0 1 1 4 0 1 1 4 0 1 1 3 0 1 1 3 0 1 1 3 0 1 1 3 0 1 1 2 0 1 1 3 0 1 1 2 0 1 1 2 0 1 1 2 0 1 1 2 0 1 1 2 0 1 1 2 0 3 2 2 0 1 1 2 0 3 2 2 0 1 1 1 0 1 1 1 0 1 1 2 0 1 1 1 0 1 1 1 0 1 1 1 0 1 1 1 0 3 2 2 0 1 1 1 0 1 1 1 0 2 2 1 0 1 1 1 0 3 2 1 0 1 1 1 0 1 1 1 0 2 2 1 0 1 1 1 0 2 2 1 0 1 1 1 0 2 2 1 0 1 1 1 0 2 2 1 0 2 2 1 0 2 2 1 0 3 3 1 0 2 2 1 0 3 3 1 0 3 3 1 0 3 3 1 0 5 5 1 0 6 6 1 0 29.2 29.2 0 1 6 6 0 1 4 4 0 1 4 4 0 1 3 3 0 1 3 3 0 1 2 2 0 1 2 2 0 1 2 2 0 1 2 2 0 1 2 2 0 1 2 2 0 1 1 1 0 1 2 2 0 1 1 1 0 1 2 2 0 1 2 3 0 1 2 2 0 1 1 1 0 1 2 3 0 1 1 1 0 1 1 1 0 1 1 1 0 1 1 1 0 1 1 1 0 1 1 1 0 1 1 1 0 1 1 1 0 2 1 1 0 1 1 1 0 1 1 1 0 2 2 3 0 1 1 1 0 2 1 1 0 2 2 3 0 2 1 1 0 2 1 1 0 2 1 1 0 2 1 1 0 2 1 1 0 2 1 1 0 2 1 1 0 3 1 1 0 2 1 1 0 3 1 1 0 3 1 1 0 3 1 1 0 4 1 1 0 4 1 1 0 4 1 1 0 4 1 1 0 6 1 1 0 6 1 1 0 8 1 1 0 13 1 1 0 35 -1 1 0 12 -1 1 0 8 -1 1 0 7 -1 1 0 5 -1 1 0 5 -1 1 0 4 -1 1 0 4 -1 1 0 3 -1 1 0 3 -1 1 0 3 -1 1 0 3 -1 1 0 3 -1 1 0 2 -1 1 0 3 -1 1 0 2 -1 1 0 2 -1 1 0 2 -1 1 0 2 -1 1 0 2 -2 3 0 2 -1 1 0 2 -2 3 0 2 -1 1 0 1 -1 1 0 1 -1 1 0 2 -1 1 0 1 -1 1 0 1 -2 3 0 2 -1 1 0 1 -1 1 0 1 -1 1 0 1 -2 3 0 1 -1 1 0 1 -1 1 0 1 -2 2 0 1 -2 3 0 1 -1 1 0 1 -2 2 0 1 -1 1 0 1 -2 2 0 1 -1 1 0 1 -2 2 0 1 -2 2 0 1 -1 1 0 1 -2 2 0 1 -3 3 0 1 -2 2 0 1 -3 3 0 1 -2 2 0 1 -4 4 0 1 -4 4 0 1 -4 4 0 1 -7 7 0 1 -23.2 23.2 -1 0 -7 7 -1 0 -4 4 -1 0 -4 4 -1 0 -4 4 -1 0 -2 2 -1 0 -3 3 -1 0 -2 2 -1 0 -3 3 -1 0 -2 2 -1 0 -1 1 -1 0 -2 2 -1 0 -2 2 -1 0 -1 1 -1 0 -2 2 -1 0 -1 1 -1 0 -2 2 -1 0 -3 2 -1 0 -1 1 -1 0 -2 2 -1 0 -3 2 -1 0 -1 1 -1 0 -3 2 -1 0 -1 1 -1 0 -1 1 -2 0 -1 1 -1 0 -1 1 -1 0 -3 2 -2 0 -1 1 -1 0 -3 2 -2 0 -3 2 -2 0 -1 1 -2 0 -3 2 -2 0 -1 1 -2 0 -1 1 -2 0 -1 1 -2 0 -1 1 -2 0 -1 1 -3 0 -1 1 -2 0 -1 1 -3 0 -1 1 -3 0 -1 1 -3 0 -1 1 -3 0 -1 1 -3 0 -1 1 -4 0 -1 1 -4 0 -1 1 -5 0 -1 1 -5 0 -1 1 -7 0 -1 1 -8 0 -1 1 -12 0 -1 1zM435.2 572.0l17.8-0.7 13-1.7 12-3.2 12-4.9 7-4.2 9-7.3 11-7.3 14-14.7 5.5-7 5.5-10 4-11 2.7-12 1.7-16 0.4-16 -1.1-14 -3-16 -4.7-15.1 -5-10.9 -7-10.8 -7.3-8.2 -7.7-6.5 -4-1.3 -8 0.3 -4-0.7 -3-1.7 -3-3.3 -3-1.9 -11-3.6 -13-3 -6.6-2.3 -23.4-10.5 -14-7.1 -17-6.1 -6-3.8 -13-10.8 -16-10.3 -13-9.7 -4.9-2.7 -4.1-1.3 -4-0.4 -5 0.5 -5 1.3 -7 3.4 -6.5 4.5 -7.5 7 -6 7 -6 8.6 -6.6 11.4 -3.1 7 -4.2 12 -1.8 9 -2.2 17 -1.1 15 -0.3 11 0.4 20 1.3 16 1.8 11 2.8 9.1 5.1 11.9 12.9 24 14 20.3 3 3.5 3 2.6 2 1.2 3 0.9 11 1.1 5 2.3 15 13.2 9 9.4 6 3.7 7 3.2 13 4.6 15 3.4 11 1.4 12.2 0.2z"/>
<path fill="#56008e" d="M463.0 775.2l-35 0 -1-1 -13 0 -1-1 -8 0 -1-1 -6 0 -1-1 -6 0 -1-1 -4 0 -1-1 -4 0 -1-1 -4 0 -1-1 -4 0 -1-1 -3 0 -1-1 -3 0 -1-1 -3 0 -1-1 -2 0 -1-1 -3 0 -1-1 -2 0 -1-1 -2 0 -1-1 -2 0 -1-1 -2 0 -1-1 -2 0 -1-1 -2 0 -1-1 -2 0 -3-2 -2 0 -1-1 -2 0 -1-1 -1 0 -1-1 -1 0 -1-1 -2 0 -1-1 -1 0 -3-2 -2 0 -1-1 -1 0 -1-1 -1 0 -1-1 -1 0 -1-1 -1 0 -1-1 -1 0 -3-2 -1 0 -1-1 -1 0 -1-1 -1 0 -1-1 -1 0 -1-1 -1 0 -2-2 -1 0 -1-1 -1 0 -1-1 -1 0 -2-2 -1 0 -1-1 -1 0 -2-2.1 -1 0 -1-1 -1 0 -2-2 -1 0 -2-2 -1 0 -2-2 -1 0 -2-2 -1 0 -2-2 -1 0 -2-2 -1 0 -3-3 -1 0 -3-3 -1 0 -4-4 -1 0 -4-4 -1 0 -6-6 -1 0 -29.1-29.1 0-1 -6-6 0-1 -5-5 0-1 -3-3 0-1 -3-3 0-1 -3-3 0-1 -2-2 0-1 -3-3 0-1 -2-2 0-1 -2-2 0-1 -2-2 0-1 -1-1 0-1 -2-2 0-1 -1-1 0-1 -2-2 0-1 -1-1 0-1 -2-2 0-1 -1-1 0-1 -1-1 0-1 -1-1 0-1 -2-3 0-1 -2-2 0-1 -1-1 0-1 -1-1 0-2 -2-3 0-1 -1-1 0-1 -1-1 0-1 -1-1 0-1 -1-1 0-2 -2-3 0-1 -1-1 0-2 -1-1 0-1 -1-1 0-2 -1-1 0-2 -2-3 0-2 -1-1 0-2 -1-1 0-2 -1-1 0-2 -1-1 0-2 -1-1 0-2 -1-1 0-3 -1-1 0-2 -1-1 0-3 -1-1 0-3 -1-1 0-3 -1-1 0-3 -1-1 0-4 -1-1 0-4 -1-1 0-5 -1-1 0-5 -1-1 0-6 -1-1 0-7 -1-1 0-10 -1-1 0-48 1-1 0-10 1-1 0-7 1-1 0-6 1-1 0-5 1-1 0-4 1-1 0-4 1-1 0-4 1-1 0-3 1-1 0-3 1-1 0-3 1-1 0-3 1-1 0-3 1-1 0-2 1-1 0-2 1-1 0-2 1-1 0-2 1-1 0-2 1-1 0-2 1-1 0-2 1-1 0-2 2-3 0-2 1-1 0-2 1-1 0-1 1-1 0-1 1-1 0-2 2-3 0-1 1-1 0-2 1-1 0-1 1-1 0-1 1-1 0-1 1-1 0-1 1-1 0-1 1-1 0-1 1-1 0-1 1-1 0-1 1-1 0-1 1-1 0-1 2-2 0-1 1-1 0-1 1-1 0-1 2-2 0-1 1-1 0-1 2-2 0-1 1-1 0-1 2-2 0-1 2-2 0-1 1-1 0-1 2-2 0-1 3-3 0-1 2-2 0-1 3-3 0-1 3-3 0-1 3-3 0-1 4-4 0-1 5-5 0-1 8-8 0-1 18.1-18.1 1 0 8-8 1 0 5-5 1 0 4-4 1 0 3-3 1 0 3-3 1 0 3-3 1 0 2-2 1 0 3-3 1 0 2-2 1 0 1-1 1 0 2-2 1 0 2-2 1 0 1-1 1 0 2-2 1 0 1-1 1 0 2-2 1 0 1-1 1 0 1-1 1 0 2-2 1 0 1-1 1 0 1-1 1 0 1-1 1 0 1-1 1 0 1-1 1 0 1-1 1 0 1-1 1 0 1-1 1 0 1-1 1 0 1-1 2 0 3-2 1 0 1-1 2 0 3-2 1 0 1-1 2 0 1-1 2 0 3-2 2 0 1-1 2 0 1-1 2 0 1-1 2 0 1-1 2 0 1-1 2 0 1-1 2 0 1-1 2 0 1-1 3 0 1-1 3 0 1-1 3 0 1-1 3 0 1-1 3 0 1-1 4 0 1-1 4 0 1-1 4 0 1-1 5-0.1 1-1 6 0 1-1 7 0 1-1 10 0 1-1 48 0 1 1 10 0 1 1 7 0 1 1 6 0 1 1 5 0 1 1 5 0 1 1 4 0 1 1 4 0 1 1 3 0 1 1 3 0 1 1 3 0 1 1 3 0 1 1 2 0 1 1 3 0 1 1 2 0 1 1 2 0 1 1 2 0 1 1 2 0 1 1 2 0 1 1 2 0 3 2 2 0 1 1 2 0 3 2 2 0 1 1 1 0 1 1 1 0 1 1 2 0 1 1 1 0 1 1 1 0 1 1 1 0 1 1 1 0 3 2 2 0 1 1 1 0 1 1 1 0 2 2 1 0 1 1 1 0 3 2 1 0 1 1 1 0 1 1 1 0 2 2 1 0 1 1 1 0 2 2 1 0 1 1 1 0 2 2 1 0 1 1 1 0 2 2 1 0 2 2 1 0 2 2 1 0 3 3 1 0 2 2 1 0 3 3 1 0 3 3 1 0 3 3 1 0 5 5 1 0 6 6 1 0 29.2 29.2 0 1 6 6 0 1 4 4 0 1 4 4 0 1 3 3 0 1 3 3 0 1 2 2 0 1 2 2 0 1 2 2 0 1 2 2 0 1 2 2 0 1 2 2 0 1 1 1 0 1 2 2 0 1 1 1 0 1 2 2 0 1 2 3 0 1 2 2 0 1 1 1 0 1 2 3 0 1 1 1 0 1 1 1 0 1 1 1 0 1 1 1 0 1 1 1 0 1 1 1 0 1 1 1 0 1 1 1 0 2 1 1 0 1 1 1 0 1 1 1 0 2 2 3 0 1 1 1 0 2 1 1 0 2 2 3 0 2 1 1 0 2 1 1 0 2 1 1 0 2 1 1 0 2 1 1 0 2 1 1 0 2 1 1 0 3 1 1 0 2 1 1 0 3 1 1 0 3 1 1 0 3 1 1 0 4 1 1 0 4 1 1 0 4 1 1 0 4 1 1 0 6 1 1 0 6 1 1 0 8 1 1 0 13 1 1 0 35 -1 1 0 12 -1 1 0 8 -1 1 0 7 -1 1 0 5 -1 1 0 5 -1 1 0 4 -1 1 0 4 -1 1 0 3 -1 1 0 3 -1 1 0 3 -1 1 0 3 -1 1 0 3 -1 1 0 2 -1 1 0 3 -1 1 0 2 -1 1 0 2 -1 1 0 2 -1 1 0 2 -1 1 0 2 -2 3 0 2 -1 1 0 2 -2 3 0 2 -1 1 0 1 -1 1 0 1 -1 1 0 2 -1 1 0 1 -1 1 0 1 -2 3 0 2 -1 1 0 1 -1 1 0 1 -1 1 0 1 -2 3 0 1 -1 1 0 1 -1 1 0 1 -2 2 0 1 -2 3 0 1 -1 1 0 1 -2 2 0 1 -1 1 0 1 -2 2 0 1 -1 1 0 1 -2 2 0 1 -2 2 0 1 -1 1 0 1 -2 2 0 1 -3 3 0 1 -2 2 0 1 -3 3 0 1 -2 2 0 1 -4 4 0 1 -4 4 0 1 -4 4 0 1 -7 7 0 1 -23.2 23.2 -1 0 -7 7 -1 0 -4 4 -1 0 -4 4 -1 0 -4 4 -1 0 -2 2 -1 0 -3 3 -1 0 -2 2 -1 0 -3 3 -1 0 -2 2 -1 0 -1 1 -1 0 -2 2 -1 0 -2 2 -1 0 -1 1 -1 0 -2 2 -1 0 -1 1 -1 0 -2 2 -1 0 -3 2 -1 0 -1 1 -1 0 -2 2 -1 0 -3 2 -1 0 -1 1 -1 0 -3 2 -1 0 -1 1 -1 0 -1 1 -2 0 -1 1 -1 0 -1 1 -1 0 -3 2 -2 0 -1 1 -1 0 -3 2 -2 0 -3 2 -2 0 -1 1 -2 0 -3 2 -2 0 -1 1 -2 0 -1 1 -2 0 -1 1 -2 0 -1 1 -2 0 -1 1 -3 0 -1 1 -2 0 -1 1 -3 0 -1 1 -3 0 -1 1 -3 0 -1 1 -3 0 -1 1 -3 0 -1 1 -4 0 -1 1 -4 0 -1 1 -5 0 -1 1 -5 0 -1 1 -7 0 -1 1 -8 0 -1 1 -12 0 -1 1zM448.9 575.0l12.1-1.3 12-2.5 13-4.7 9-4.5 12.2-9 7.8-4.9 4-3.3 16-17.8 5.5-8 5.7-12 3.8-13 2.3-15 1-18 -0.6-15 -2.1-14 -2.3-10 -4.8-14 -5.1-10 -7-10 -8.4-9.1 -7.4-5.9 -4.6-1.5 -8 0.8 -3-0.3 -2-0.9 -1.2-1.1 -1.9-4 -1.9-1.4 -25.1-6.6 -7.3-3 -21.2-12 -13.4-8.2 -5-2.2 -11-3.5 -5-2.4 -14.1-10.7 -16.3-10 -14.6-10.9 -6-3.4 -5-1.5 -5-0.4 -6 0.9 -6 1.9 -7 3.6 -6.7 4.8 -7.4 7 -5.9 7 -6 8.6 -6 10.7 -7 15.7 -1.3 4 -2.1 11 -2.6 20 -1.1 15 0 11 0.7 19 1.9 19 2.3 11 3.9 11 10.3 20.7 7.7 13.3 13.3 19.1 3 3.6 3 2.6 4 1.6 11 0.3 5 1.7 2.3 2.1 2.5 5 1.8 2 1.5 1 4.9 1.6 3 1.9 7 8 4 3.5 7 4 12 4.9 13 3.7 16 3.1 12 0.7 16.9-0.4z"/>
<path fill="#5000a1" d="M463.0 775.2l-35 0 -1-1 -13 0 -1-1 -8 0 -1-1 -6 0 -1-1 -6 0 -1-1 -4 0 -1-1 -4 0 -1-1 -4 0 -1-1 -4 0 -1-1 -3 0 -1-1 -3 0 -1-1 -3 0 -1-1 -2 0 -1-1 -3 0 -1-1 -2 0 -1-1 -2 0 -1-1 -2 0 -1-1 -2 0 -1-1 -2 0 -1-1 -2 0 -1-1 -2 0 -3-2 -2 0 -1-1 -2 0 -1-1 -1 0 -1-1 -1 0 -1-1 -2-0.1 -1-1 -1 0 -3-2 -2 0 -1-1 -1 0 -1-1 -1 0 -1-1 -1 0 -1-1 -1 0 -1-1 -1 0 -3-2 -1 0 -1-1 -1 0 -1-1 -1 0 -1-1 -1 0 -1-1 -1 0 -2-2 -1 0 -1-1 -1 0 -1-1 -1 0 -2-2 -1 0 -1-1 -1 0 -2-2 -1 0 -1-1 -1 0 -2-2 -1 0 -2-2 -1 0 -2-2 -1 0 -2-2 -1 0 -2-2 -1 0 -2-2 -1 0 -3-3 -1 0 -3-3 -1 0 -4-4 -1 0 -4-4 -1 0 -6-6 -1 0 -29.1-29.1 0-1 -6-6 0-1 -5-5 0-1 -3-3 0-1 -3-3 0-1 -3-3 0-1 -2-2 0-1 -3-3 0-1 -2-2 0-1 -2-2 0-1 -2-2 0-1 -1-1 0-1 -2-2 0-1 -1-1 0-1 -2-2 0-1 -1-1 0-1 -2-2 0-1 -1-1 0-1 -1-1 0-1 -1-1 0-1 -2-3 0-1 -2-2 0-1 -1-1 0-1 -1-1 0-2 -2-3 0-1 -1-1 0-1 -1-1 0-1 -1-1 0-1 -1-1 0-2 -2-3 0-1 -1-1 0-2 -1-1 0-1 -1-1 0-2 -1-1 0-2 -2-3 0-2 -1-1 0-2 -1-1 0-2 -1-1 0-2 -1-1 0-2 -1-1 0-2 -1-1 0-3 -1-1 0-2 -1-1 0-3 -1-1 0-3 -1-1 0-3 -1-1 0-3 -1-1 0-4 -1-1 0-4 -1-1 0-5 -1-1 0-5 -1-1 0-6 -1-1 0-7 -1-1 0-10 -1-1 0-48 1-1 0-10 1-1 0-7 1-1 0-6 1-1 0-5 1-1 0-4 1-1 0-4 1-1 0-4 1-1 0-3 1-1 0-3 1-1 0-3 1-1 0-3 1-1 0-3 1-1 0-2 1-1 0-2 1-1 0-2 1-1 0-2 1-1 0-2 1-1 0-2 1-1 0-2 1-1 0-2 2-3 0-2 1-1 0-2 1-1 0-1 1-1 0-1 1-1 0-2 2-3 0-1 1-1 0-2 1-1 0-1 1-1 0-1 1-1 0-1 1-1 0-1 1-1 0-1 1-1 0-1 1-1 0-1 1-1 0-1 1-1 0-1 1-1 0-1 2-2 0-1 1-1 0-1 1-1 0-1 2-2 0-1 1-1 0-1 2-2 0-1 1-1 0-1 2-2 0-1 2-2 0-1 1-1 0-1 2-2 0-1 3-3 0-1 2-2 0-1 3-3 0-1 3-3 0-1 3-3 0-1 4-4 0-1 5-5 0-1 8-8 0-1 18.1-18.1 1 0 8-8 1 0 5-5 1 0 4-4 1 0 3-3 1 0 3-3 1 0 3-3 1 0 2-2 1 0 3-3 1 0 2-2 1 0 1-1 1 0 2-2 1 0 2-2 1 0 1-1 1 0 2-2 1 0 1-1 1 0 2-2 1 0 1-1 1 0 1-1 1 0 2-2 1 0 1-1 1 0 1-1 1 0 1-1 1 0 1-1 1 0 1-1 1 0 1-1 1 0 1-1 1 0 1-1 1 0 1-1 1 0 1-1 2 0 3-2 1 0 1-1 2 0 3-2 1 0 1-1 2 0 1-1 2 0 3-2 2 0 1-1 2 0 1-1 2 0 1-1 2 0 1-1 2 0 1-1 2 0 1-1 2 0 1-1 2 0 1-1 3 0 1-1 3 0 1-1 3 0 1-1 3 0 1-1 3 0 1-1 4 0 1-1 4 0 1-1 4 0 1-1 5 0 1-1 6 0 1-1 7 0 1-1 10 0 1-1 48-0.1 1 1 10 0 1 1 7 0 1 1 6 0 1 1 5 0 1 1 5 0 1 1 4 0 1 1 4 0 1 1 3 0 1 1 3 0 1 1 3 0 1 1 3 0 1 1 2 0 1 1 3 0 1 1 2 0 1 1 2 0 1 1 2 0 1 1 2 0 1 1 2 0 1 1 2 0 3 2 2 0 1 1 2 0 3 2 2 0 1 1 1 0 1 1 1 0 1 1 2 0 1 1 1 0 1 1 1 0 1 1 1 0 1 1 1 0 3 2 2 0 1 1 1 0 1 1 1 0 2 2 1 0 1 1 1 0 3 2 1 0 1 1 1 0 1 1 1 0 2 2 1 0 1 1 1 0 2 2 1 0 1 1 1 0 2 2 1 0 1 1 1 0 2 2 1 0 2 2 1 0 2 2 1 0 3 3 1 0 2 2 1 0 3 3 1 0 3 3 1 0 3 3 1 0 5 5 1 0 6 6 1 0 29.2 29.2 0 1 6 6 0 1 4 4 0 1 4 4 0 1 3 3 0 1 3 3 0 1 2 2 0 1 2 2 0 1 2 2 0 1 2 2 0 1 2 2 0 1 2 2 0 1 1 1 0 1 2 2 0 1 1 1 0 1 2 2 0 1 2 3 0 1 2 2 0 1 1 1 0 1 2 3 0 1 1 1 0 1 1 1 0 1 1 1 0 1 1 1 0 1 1 1 0 1 1 1 0 1 1 1 0 1 1 1 0 2 1 1 0 1 1 1 0 1 1 1 0 2 2 3 0 1 1 1 0 2 1 1 0 2 2 3 0 2 1 1 0 2 1 1 0 2 1 1 0 2 1 1 0 2 1 1 0 2 1 1 0 2 1 1 0 3 1 1 0 2 1 1 0 3 1 1 0 3 1 1 0 3 1 1 0 4 1 1 0 4 1 1 0 4 1 1 0 4 1 1 0 6 1 1 0 6 1 1 0 8 1 1 0 13 1 1 0 35 -1 1 0 12 -1 1 0 8 -1 1 0 7 -1 1 0 5 -1 1 0 5 -1 1 0 4 -1 1 0 4 -1 1 0 3 -1 1 0 3 -1 1 0 3 -1 1 0 3 -1 1 0 3 -1 1 0 2 -1 1 0 3 -1 1 0 2 -1 1 0 2 -1 1 0 2 -1 1 0 2 -1 1 0 2 -2 3 0 2 -1 1 0 2 -2 3 0 2 -1 1 0 1 -1 1 0 1 -1 1 0 2 -1 1 0 1 -1 1 0 1 -2 3 0 2 -1 1 0 1 -1 1 0 1 -1 1 0 1 -2 3 0 1 -1 1 0 1 -1 1 0 1 -2 2 0 1 -2 3 0 1 -1 1 0 1 -2 2 0 1 -1 1 0 1 -2 2 0 1 -1 1 0 1 -2 2 0 1 -2 2 0 1 -1 1 0 1 -2 2 0 1 -3 3 0 1 -2 2 0 1 -3 3 0 1 -2 2 0 1 -4 4 0 1 -4 4 0 1 -4 4 0 1 -7 7 0 1 -23.2 23.2 -1 0 -7 7 -1 0 -4 4 -1 0 -4 4 -1 0 -4 4 -1 0 -2 2 -1 0 -3 3 -1 0 -2 2 -1 0 -3 3 -1 0 -2 2 -1 0 -1 1 -1 0 -2 2 -1 0 -2 2 -1 0 -1 1 -1 0 -2 2 -1 0 -1 1 -1 0 -2 2 -1 0 -3 2 -1 0 -1 1 -1 0 -2 2 -1 0 -3 2 -1 0 -1 1 -1 0 -3 2 -1 0 -1 1 -1 0 -1 1 -2 0 -1 1 -1 0 -1 1 -1 0 -3 2 -2 0 -1 1 -1 0 -3 2 -2 0 -3 2 -2 0 -1 1 -2 0 -3 2 -2 0 -1 1 -2 0 -1 1 -2 0 -1 1 -2 0 -1 1 -2 0 -1 1 -3 0 -1 1 -2 0 -1 1 -3 0 -1 1 -3 0 -1 1 -3 0 -1 1 -3 0 -1 1 -3 0 -1 1 -4 0 -1 1 -4 0 -1 1 -5 0 -1 1 -5 0 -1 1 -7 0 -1 1 -8 0 -1 1 -12 0 -1 1zM455.4 578.0l11.6-2 11-3.1 12-4.8 8.8-5.1 17.2-11.9 5-4.4 16-18.3 6.2-9.4 5.3-12 3.8-13 2.5-16 0.9-17 -0.6-16 -2.2-15 -2.5-10 -4.3-12 -5.2-10 -7.2-10 -10.5-11 -7.2-5.4 -3-1.2 -3-0.5 -8 1 -2-0.3 -1.8-1.6 0-1 0.5-1 2-2 -0.2-1 -1.5-0.9 -18-3.2 -10.4-2.9 -5.6-2.3 -6.1-3.7 -15.6-11 -15.3-11.8 -4-1.9 -10-2.5 -6-2.5 -14-9.7 -18-10.5 -15-10.7 -9-4.7 -3-0.8 -3 0.1 -7 1.6 -7.1 2.4 -7.6 4 -7.2 5 -7.1 6.6 -6 6.7 -6 8.3 -5 8.7 -9 18.8 -1.7 4.9 -2.5 14 -2.7 21 -1 13 0 12 0.9 18 2.3 20 2.7 12 4.1 11 9 18 6.9 12.3 5.6 8.7 11.4 15.8 4 4.1 4 2.1 4 0.5 8 0 2.4 0.5 1.6 0.9 1.5 2.1 2.5 7 0.1 3 0.9 1.4 2-0.2 3-1.5 2-0.4 4 0.9 3.3 2.8 5.7 7.4 6 4.7 13 6.1 13 4.3 15 3.5 12 1.6 14 0.3 14.4-0.9z"/>
<path fill="#4500b4" d="M463.0 775.2l-35 0 -1-1 -13 0 -1-1 -8 0 -1-1 -6 0 -1-1 -6 0 -1-1 -4 0 -1-1 -4 0 -1-1 -4-0.1 -1-0.9 -4-0.1 -1-1 -3 0 -1-1 -3 0 -1-1 -3 0 -1-1 -2 0 -1-1 -3 0 -1-1 -2 0 -1-1 -2 0 -1-1 -2 0 -1-1 -2 0 -1-1 -2 0 -1-1 -2 0 -1-1 -2 0 -3-2 -2 0 -1-1 -2 0 -1-1 -1 0 -1-1 -1 0 -1-1 -2 0 -1-1 -1 0 -3-2 -2 0 -1-1 -1 0 -1-1 -1 0 -1-1 -1 0 -1-1 -1 0 -1-1 -1 0 -3-2 -1 0 -1-1 -1 0 -1-1 -1 0 -1-1 -1 0 -1-1 -1 0 -2-2 -1 0 -1-1 -1 0 -1-1 -1 0 -2-2 -1 0 -1-1 -1 0 -2-2 -1 0 -1-1 -1 0 -2-2 -1 0 -2-2 -1 0 -2-2 -1 0 -2-2 -1 0 -2-2 -1 0 -2-2 -1 0 -3-3 -1 0 -3-3 -1 0 -4-4 -1 0 -4-4 -1 0 -6-6 -1 0 -29.1-29.1 0-1 -6-6 0-1 -5-5 0-1 -3-3 0-1 -3-3 0-1 -3-3 0-1 -2-2 0-1 -3-3 0-1 -2-2 0-1 -2-2 0-1 -2-2 0-1 -1-1 0-1 -2-2 0-1 -1-1 0-1 -2-2 0-1 -1-1 0-1 -2-2 0-1 -1-1 0-1 -1-1 0-1 -1-1 0-1 -2-3 0-1 -2-2 0-1 -1-1 0-1 -1-1 0-2 -2-3 0-1 -1-1 0-1 -1-1 0-1 -1-1 0-1 -1-1 0-2 -2-3 0-1 -1-1 0-2 -1-1 0-1 -1-1 0-2 -1-1 0-2 -2-3 0-2 -1-1 0-2 -1-1 0-2 -1-1 0-2 -1-1 0-2 -1-1 0-2 -1-1 0-3 -1-1 0-2 -1-1 0-3 -1-1 0-3 -1-1 0-3 -1-1 0-3 -1-1 0-4 -1-1 0-4 -1-1 0-5 -1-1 0-5 -1-1 0-6 -1-1 0-7 -1-1 0-10 -1-1 0-48 1-1 0-10 1-1 0-7 1-1 0-6 1-1 0-5 1-1 0-4 1-1 0-4 1-1 0-4 1-1 0-3 1-1 0-3 1-1 0-3 1-1 0-3 1-1 0-3 1-1 0-2 1-1 0-2 1-1 0-2 1-1 0-2 1-1 0-2 1-1 0-2 1-1 0-2 1-1 0-2 2-3 0-2 1-1 0-2 1-1 0-1 1-1 0-1 1-1 0-2 2-3 0-1 1-1 0-2 1-1 0-1 1-1 0-1 1-1 0-1 1-1 0-1 1-1 0-1 1-1 0-1 1-1 0-1 1-1 0-1 1-1 0-1 1-1 0-1 2-2 0-1 1-1 0-1 1-1 0-1 2-2 0-1 1-1 0-1 2-2 0-1 1-1 0-1 2-2 0-1 2-2 0-1 1-1 0-1 2-2 0-1 3-3 0-1 2-2 0-1 3-3 0-1 3-3 0-1 3-3 0-1 4-4 0-1 5-5 0-1 8-8 0-1 18.1-18.1 1 0 8-8 1 0 5-5 1 0 4-4 1 0 3-3 1 0 3-3 1 0 3-3 1 0 2-2 1 0 3-3 1 0 2-2 1 0 1-1 1 0 2-2 1 0 2-2 1 0 1-1 1 0 2-2 1 0 1-1 1 0 2-2 1 0 1-1 1 0 1-1 1 0 2-2 1 0 1-1 1 0 1-1 1 0 1-1 1 0 1-1 1 0 1-1 1 0 1-1 1 0 1-1 1 0 1-1 1 0 1-1 1 0 1-1 2 0 3-2 1 0 1-1 2 0 3-2 1 0 1-1 2 0 1-1 2 0 3-2 2 0 1-1 2 0 1-1 2 0 1-1 2 0 1-1 2 0 1-1 2 0 1-1 2 0 1-1 2 0 1-1 3 0 1-1 3 0 1-1 3 0 1-1 3 0 1-1 3 0 1-1 4 0 1-1 4 0 1-1 4 0 1-1 5 0 1-1 6 0 1-1 7 0 1-1 10 0 1-1 48 0 1 1 10 0 1 1 7 0 1 1 6 0 1 1 5 0 1 1 5 0 1 0.9 4 0 1 1 4 0 1 1 3 0 1 1 3 0 1 1 3 0 1 1 3 0 1 1 2 0 1 1 3 0 1 1 2 0 1 1 2 0 1 1 2 0 1 1 2 0 1 1 2 0 1 1 2 0 3 2 2 0 1 1 2 0 3 2 2 0 1 1 1 0 1 1 1 0 1 1 2 0 1 1 1 0 1 1 1 0 1 1 1 0 1 1 1 0 3 2 2 0 1 1 1 0 1 1 1 0 2 2 1 0 1 1 1 0 3 2 1 0 1 1 1 0 1 1 1 0 2 2 1 0 1 1 1 0 2 2 1 0 1 1 1 0 2 2 1 0 1 1 1 0 2 2 1 0 2 2 1 0 2 2 1 0 3 3 1 0 2 2 1 0 3 3 1 0 3 3 1 0 3 3 1 0 5 5 1 0 6 6 1 0 29.2 29.2 0 1 6 6 0 1 4 4 0 1 4 4 0 1 3 3 0 1 3 3 0 1 2 2 0 1 2 2 0 1 2 2 0 1 2 2 0 1 2 2 0 1 2 2 0 1 1 1 0 1 2 2 0 1 1 1 0 1 2 2 0 1 2 3 0 1 2 2 0 1 1 1 0 1 2 3 0 1 1 1 0 1 1 1 0 1 1 1 0 1 1 1 0 1 1 1 0 1 1 1 0 1 1 1 0 1 1 1 0 2 1 1 0 1 1 1 0 1 1 1 0 2 2 3 0 1 1 1 0 2 1 1 0 2 2 3 0 2 1 1 0 2 1 1 0 2 1 1 0 2 1 1 0 2 1 1 0 2 1 1 0 2 1 1 0 3 1 1 0 2 1 1 0 3 1 1 0 3 1 1 0 3 1 1 0 4 1 1 0 4 1 1 0 4 1 1 0 4 1 1 0 6 1 1 0 6 1 1 0 8 1 1 0 13 1 1 0 35 -1 1 0 12 -1 1 -0.1 8 -1 1 0 7 -1 1 0 5 -1 1 0 5 -0.9 1 0 4 -1 1 0 4 -1 1 0 3 -1 1 0 3 -1 1 -0.1 3 -1 1 0 3 -1 1 0 3 -1 1 0 2 -1 1 0 3 -1 1 0 2 -1 1 0 2 -1 1 0 2 -1 1 0 2 -1 1 0 2 -2 3 0 2 -1 1 0 2 -2 3 0 2 -1 1 0 1 -1 1 0 1 -1 1 0 2 -1 1 0 1 -1 1 0 1 -2 3 0 2 -1 1 0 1 -1 1 0 1 -1 1 0 1 -2 3 0 1 -1 1 0 1 -1 1 0 1 -1.9 2 -0.1 1 -2 3 0 1 -1 1 0 1 -2 2 0 1 -1 1 0 1 -2 2 0 1 -1 1 0 1 -2 2 0 1 -2 2 0 1 -1 1 0 1 -2 2 0 1 -2.9 3 0 1 -2 2 0 1 -3 3 0 1 -2 2 0 1 -4 4 0 1 -4 4 0 1 -4 4 0 1 -7 7 0 1 -23.2 23.2 -1 0 -7 7 -1 0 -4 4 -1 0 -4 4 -1 0 -4 4 -1 0 -2 2 -1 0 -3 3 -1 0 -2 2 -1 0 -3 3 -1 0 -2 2 -1 0 -1 1 -1 0 -2 2 -1 0 -2 2 -1 0 -1 1 -1 0 -2 2 -1 0 -1 1 -1 0 -2 2 -1 0 -3 2 -1 0 -1 1 -1 0 -2 2 -1 0 -3 2 -1 0 -1 1 -1 0 -3 2 -1 0 -1 1 -1 0 -1 1 -2 0 -1 1 -1 0 -1 1 -1 0 -3 2 -2 0 -1 1 -1 0 -3 2 -2 0 -3 2 -2 0 -1 1 -2 0 -3 2 -2 0 -1 1 -2 0 -1 1 -2 0 -1 1 -2 0 -1 1 -2 0 -1 1 -3 0 -1 1 -2 0 -1 1 -3 0 -1 1 -3 0 -1 1 -3 0 -1 1 -3 0 -1 1 -3 0 -1 1 -4 0 -1 1 -4 0 -1 1 -5 0 -1 1 -5 0 -1 1 -7 0 -1 1 -8 0 -1 1 -12 0 -1 1zM452.8 582.0l13.2-2.2 12-3.4 12-4.9 9.8-5.5 17.2-12.2 5-4.3 16-18.5 6-8.8 5.7-12.2 4.1-13 2.6-14 1.5-16 0.2-14 -1.4-15 -2.7-15 -4-12 -4.8-10 -6-9 -7.8-9 -10.4-9.7 -7-4 -8.9-2.3 -1.7-3 -2.4-2 -11-2.6 -11-1.7 -8-2.5 -5-2.5 -6.6-4.7 -14.9-13 -5.7-6 -5.8-7.9 -3-2.6 -4-1.2 -10-0.6 -6-2 -13-8.1 -18-9.8 -15-9.5 -9-4.5 -4-1.1 -5 0 -5 1 -7 2.4 -8.2 3.9 -8.8 5.8 -7.1 6.2 -7.4 8 -5.5 7.3 -5 8.3 -6 12.1 -5.6 13.3 -3 15 -3.2 24 -0.8 10 0 12 1.1 18 2.2 19 2.7 13 3.4 10 5.1 11 11.1 20.4 6 9.6 11.6 16 3.4 4 4 3.1 4 1.4 8 1.3 2.4 1.2 3.6 5 1.8 6 1.2 1.3 3 0.4 6-2.4 2-0.1 2 0.6 3 2.3 6.5 8.9 5 4 13.5 6.6 14 4.9 15 3.7 13 2 12 0.6 12.8-0.8z"/>
<path fill="#3700c7" d="M463.0 775.2l-35-0.1 -1-1 -13 0 -1-1 -8 0 -1-1 -6 0 -1-1 -6 0 -1-1 -4 0 -1-1 -4 0 -1-1 -4 0 -1-1 -4 0 -1-1 -3 0 -1-1 -3 0 -1-1 -3 0 -1-1 -2 0 -1-1 -3 0 -1-1 -2 0 -1-1 -2 0 -1-1 -2 0 -1-1 -2 0 -1-1 -2 0 -1-1 -2 0 -1-1 -2 0 -3-2 -2 0 -1-1 -2 0 -1-1 -1 0 -1-1 -1 0 -1-1 -2 0 -1-1 -1 0 -3-2 -2 0 -1-1 -1 0 -1-1 -1 0 -1-1 -1 0 -1-1 -1 0 -1-1 -1 0 -3-2 -1 0 -1-1 -1 0 -1-1 -1 0 -1-1 -1 0 -1-1 -1 0 -2-2 -1 0 -1-1 -1 0 -1-1 -1 0 -2-2 -1 0 -1-1 -1 0 -2-2 -1 0 -1-1 -1 0 -2-2 -1 0 -2-2 -1 0 -2-2 -1 0 -2-2 -1 0 -2-2 -1 0 -2-2 -1 0 -3-3 -1 0 -3-3 -1 0 -4-4 -1 0 -4-4 -1 0 -6-6 -1 0 -29.1-29.1 0-1 -6-6 0-1 -5-5 0-1 -3-3 0-1 -3-3 0-1 -3-3 0-1 -2-2 0-1 -3-3 0-1 -2-2 0-1 -2-2 0-1 -2-2 0-1 -1-1 0-1 -2-2 0-1 -1-1 0-1 -2-2 0-1 -1-1 0-1 -2-2 0-1 -1-1 0-1 -1-1 0-1 -1-1 0-1 -2-3 0-1 -2-2 0-1 -1-1 0-1 -1-1 0-2 -2-3 0-1 -1-1 0-1 -1-1 0-1 -1-1 0-1 -1-1 0-2 -2-3 0-1 -1-1 0-2 -1-1 0-1 -1-1 0-2 -1-1 0-2 -2-3 0-2 -1-1 0-2 -1-1 0-2 -1-1 0-2 -1-1 0-2 -1-1 0-2 -1-1 0-3 -1-1 0-2 -1-1 0-3 -1-1 0-3 -1-1 0-3 -1-1 0-3 -1-1 0-4 -1-1 0-4 -1-1 0-5 -1-1 0-5 -1-1 0-6 -1-1 0-7 -1-1 0-10 -1-1 0-48 1-1 0-10 1-1 0-7 1-1 0-6 1-1 0-5 1-1 0-4 1-1 0-4 1-1 0-4 1-1 0-3 1-1 0-3 1-1 0-3 1-1 0-3 1-1 0-3 1-1 0-2 1-1 0-2 1-1 0-2 1-1 0-2 1-1 0-2 1-1 0-2 1-1 0-2 1-1 0-2 2-3 0-2 1-1 0-2 1-1 0-1 1-1 0-1 1-1 0-2 2-3 0-1 1-1 0-2 1-1 0-1 1-1 0-1 1-1 0-1 1-1 0-1 1-1 0-1 1-1 0-1 1-1 0-1 1-1 0-1 1-1 0-1 1-1 0-1 2-2 0-1 1-1 0-1 1-1 0-1 2-2 0-1 1-1 0-1 2-2 0-1 1-1 0-1 2-2 0-1 2-2 0-1 1-1 0-1 2-2 0-1 3-3 0-1 2-2 0-1 3-3 0-1 3-3 0-1 3-3 0-1 4-4 0-1 5-5 0-1 8-8 0-1 18.1-18.1 1 0 8-8 1 0 5-5 1 0 4-4 1 0 3-3 1 0 3-3 1 0 3-3 1 0 2-2 1 0 3-3 1 0 2-2 1 0 1-1 1 0 2-2 1 0 2-2 1 0 1-1 1 0 2-2 1 0 1-1 1 0 2-2 1 0 1-1 1 0 1-1 1 0 2-2 1 0 1-1 1 0 1-1 1 0 1-1 1 0 1-1 1 0 1-1 1 0 1-1 1 0 1-1 1 0 1-1 1 0 1-1 1 0 1-1 2 0 3-2 1 0 1-1 2 0 3-2 1 0 1-1 2 0 1-1 2 0 3-2 2 0 1-1 2 0 1-1 2 0 1-1 2 0 1-1 2 0 1-1 2 0 1-1 2 0 1-1 2 0 1-1 3 0 1-1 3 0 1-1 3 0 1-1 3 0 1-1 3 0 1-1 4 0 1-1 4 0 1-1 4 0 1-1 5 0 1-1 6 0 1-1 7 0 1-1 10 0 1-1 48 0 1 1 10 0 1 1 7 0 1 1 6 0 1 1 5 0 1 1 5 0 1 1 4 0 1 1 4 0 1 1 3 0 1 1 3 0 1 1 3 0 1 1 3 0 1 1 2 0 1 1 3 0 1 1 2 0 1 1 2 0 1 1 2 0 1 1 2 0 1 1 2 0 1 1 2 0 3 1.9 2 0 1 1 2 0 3 2 2 0 1 1 1 0 1 1 1 0 1 1 2 0 1 1 1 0 1 1 1 0 1 1 1 0 1 1 1 0 3 2 2 0 1 1 1 0 1 1 1 0 2 2 1 0 1 1 1 0 3 2 1 0 1 1 1 0 1 1 1 0 2 2 1 0 1 1 1 0 2 2 1 0 1 1 1 0 2 2 1 0 1 1 1 0 2 2 1 0 2 2 1 0 2 2 1 0 3 3 1 0 2 2 1 0 3 3 1 0 3 3 1 0 3 3 1 0 5 5 1 0 6 6 1 0 29.2 29.2 0 1 6 6 0 1 4 4 0 1 4 4 0 1 3 3 0 1 3 3 0 1 2 2 0 1 2 2 0 1 2 2 0 1 2 2 0 1 2 2 0 1 2 2 0 1 1 1 0 1 2 2 0 1 1 1 0 1 2 2 0 1 2 3 0 1 2 2 0 1 1 1 0 1 2 3 0 1 1 1 0 1 1 1 0 1 1 1 0 1 1 1 0 1 1 1 0 1 1 1 0 1 1 1 0 1 1 1 0 2 1 1 0 1 1 1 0 1 1 1 0 2 2 3 0 1 1 1 0 2 1 1 0 2 2 3 0 2 1 1 0 2 1 1 0 2 1 1 0 2 1 1 0 2 1 1 0 2 1 1 0 2 1 1 0 3 1 1 0 2 1 1 0 3 1 1 0 3 1 1 0 3 1 1 0 4 1 1 0 4 1 1 0 4 1 1 0 4 1 1 0 6 1 1 0 6 0.9 1 0 8 1 1 0 13 1 1 0 35 -1 1 0 12 -1 1 0 8 -1 1 0 7 -1 1 0 5 -1 1 0 5 -1 1 0 4 -1 1 0 4 -1 1 0 3 -1 1 0 3 -1 1 0 3 -1 1 0 3 -1 1 0 3 -1 1 0 2 -1 1 0 3 -1 1 0 2 -1 1 0 2 -1 1 0 2 -1 1 0 2 -1 1 0 2 -2 3 0 2 -1 1 0 2 -2 3 0 2 -1 1 0 1 -1 1 0 1 -1 1 0 2 -1 1 0 1 -1 1 0 1 -2 3 0 2 -1 1 0 1 -1 1 0 1 -1 1 0 1 -2 3 0 1 -1 1 0 1 -1 1 0 1 -2 2 0 1 -2 3 0 1 -1 1 0 1 -2 2 0 1 -1 1 0 1 -2 2 0 1 -1 1 0 1 -2 2 0 1 -2 2 0 1 -1 1 0 1 -2 2 0 1 -3 3 0 1 -2 2 0 1 -3 3 0 1 -2 2 0 1 -4 4 0 1 -4 4 0 1 -4 4 0 1 -7 7 0 1 -23.1 23.1 -1 0 -7 7 -1 0 -4 4 -1 0 -4 4 -1 0.1 -4 4 -1 0 -2 2 -1 0 -3 2.9 -1 0 -2 2 -1 0 -3 3 -1 0 -2 2 -1 0 -1 1 -1 0 -2 2 -1 0 -2 2 -1 0 -1 1 -1 0.1 -2 2 -1 0 -1 1 -1 0 -2 2 -1 0 -3 2 -1 0 -1 1 -1 0 -2 2 -1 0 -3 2 -1 0 -1 1 -1 0 -3 2 -1 0 -1 1 -1 0 -1 1 -2 0 -1 1 -1 0 -1 1 -1 0 -3 2 -2 0 -1 1 -1 0 -3 2 -2 0 -3 2 -2 0 -1 1 -2 0 -3 2 -2 0 -1 1 -2 0 -1 1 -2 0 -1 1 -2 0 -1 1 -2 0 -1 1 -3 0 -1 1 -2 0 -1 1 -3 0 -1 1 -3 0 -1 1 -3 0 -1 1 -3 0 -1 1 -3 0 -1 1 -4 0 -1 1 -4 0 -1 1 -5 0 -1 1 -5 0 -1 1 -7 0 -1 1 -8 0 -1 1 -12 0 -1 1zM452.1 586.0l12.9-2.2 12-3.4 12-4.8 11-6 17-12.3 6.2-5.3 15.8-18.3 5.4-7.7 6-12 4.6-13.2 3-13.8 2.1-17 0.4-15 -1-14 -2.6-17 -3.4-11 -4.6-10 -6.6-10 -6.9-8 -11.2-11 -5.8-4 -10.4-4.7 -5.8-4.3 -12.2-3.8 -8-0.6 -5-1.2 -5.9-2.4 -4.8-3 -8.2-7 -11.8-13 -3.8-6 -4.5-10.4 -2-2.6 -2.6-2 -4.4-1.5 -11 0.3 -6-1.2 -40.9-20.6 -14.1-5.9 -4-0.6 -8-0.1 -4 0.7 -6 2 -9 4.1 -9 5.7 -8 6.7 -8 8.3 -6.1 8.1 -4.9 8.1 -6 12.4 -5.2 12.5 -3.4 15 -4 28 -0.5 7 0 14 0.6 10 2.9 25 2.9 14 2.7 8.5 5 11.5 11 20.3 7.2 11.7 10.8 14.7 4.4 5.3 3.6 3.1 3 1.7 7 2.4 3 1.9 3 3.2 2.9 5.7 2.1 1.9 2 0.6 2 0 6-2.4 2-0.2 2 0.4 3 2.5 6 9.1 5 4.2 15 7.4 14 5.2 16 4.1 13 2.3 11 0.7 12.1-0.8z"/>
<path fill="#2600da" d="M463.0 775.1l-35 0 -1-1 -13 0 -1-1 -8 0 -1-1 -6 0 -1-1 -6 0 -1-1 -4 0 -1-1 -4 0 -1-1 -4 0 -1-1 -4 0 -1-1 -3 0 -1-1 -3 0 -1-1 -3 0 -1-1 -2 0 -1-1 -3 0 -1-1 -2 0 -1-1 -2 0 -1-1 -2 0 -1-1 -2 0 -1-1 -2 0 -1-1 -2 0 -1-1 -2 0 -3-2 -2 0 -1-1 -2 0 -1-1 -1 0 -1-1 -1 0 -1-1 -2 0 -1-1 -1 0 -3-2 -2 0 -1-1 -1 0 -1-1 -1 0 -1-1 -1 0 -1-1 -1 0 -1-1 -1 0 -3-2 -1 0 -1-1 -1 0 -1-1 -1 0 -1-1 -1 0 -1-1 -1 0 -2-2 -1 0 -1-1 -1 0 -1-1 -1 0 -2-2 -1 0 -1-1 -1 0 -2-2 -1 0 -1-1 -1 0 -2-2 -1 0 -2-2 -1 0 -2-2 -1 0 -2-2 -1 0 -2-2 -1 0 -2-2 -1 0 -3-3 -1 0 -3-3 -1 0 -4-4 -1 0 -4-4 -1 0 -6-6 -1 0 -29.1-29.1 0-1 -6-6 0-1 -5-5 0-1 -3-3 0-1 -3-3 0-1 -3-3 0-1 -2-2 0-1 -3-3 0-1 -2-2 0-1 -2-2 0-1 -2-2 0-1 -1-1 0-1 -2-2 0-1 -1-1 0-1 -2-2 0-1 -1-1 0-1 -2-2 0-1 -1-1 0-1 -1-1 0-1 -1-1 0-1 -2-3 0-1 -2-2 0-1 -1-1 0-1 -1-1 0-2 -2-3 0-1 -1-1 0-1 -1-1 0-1 -1-1 0-1 -1-1 0-2 -2-3 0-1 -1-1 0-2 -1-1 0-1 -1-1 0-2 -1-1 0-2 -2-3 0-2 -1-1 0-2 -1-1 0-2 -1-1 0-2 -1-1 0-2 -1-1 0-2 -1-1 0-3 -1-1 0-2 -1-1 0-3 -1-1 0-3 -1-1 0-3 -1-1 0-3 -1-1 0-4 -1-1 0-4 -1-1 0-5 -1-1 0-5 -1-1 0-6 -1-1 0-7 -1-1 0-10 -1-1 0-48 1-1 0-10 1-1 0-7 1-1 0-6 1-1 0-5 1-1 0-4 1-1 0-4 1-1 0-4 1-1 0-3 1-1 0-3 1-1 0-3 1-1 0-3 1-1 0-3 1-1 0-2 1-1 0-2 1-1 0-2 1-1 0-2 1-1 0-2 1-1 0-2 1-1 0-2 1-1 0-2 2-3 0-2 1-1 0-2 1-1 0-1 1-1 0-1 1-1 0-2 2-3 0-1 1-1 0-2 1-1 0-1 1-1 0-1 1-1 0-1 1-1 0-1 1-1 0-1 1-1 0-1 1-1 0-1 1-1 0-1 1-1 0-1 1-1 0-1 2-2 0-1 1-1 0-1 1-1 0-1 2-2 0-1 1-1 0-1 2-2 0-1 1-1 0-1 2-2 0-1 2-2 0-1 1-1 0-1 2-2 0-1 3-3 0-1 2-2 0-1 3-3 0-1 3-3 0-1 3-3 0-1 4-4 0-1 5-5 0-1 8-8 0-1 18.1-18.1 1 0 8-8 1 0 5-5 1 0 4-4 1 0 3-3 1 0 3-3 1 0 3-3 1 0 2-2 1 0 3-3 1 0 2-2 1 0 1-1 1 0 2-2 1 0 2-2 1 0 1-1 1 0 2-2 1 0 1-1 1 0 2-2 1 0 1-1 1 0 1-1 1 0 2-2 1 0 1-1 1 0 1-1 1 0 1-1 1 0 1-1 1 0 1-1 1 0 1-1 1 0 1-1 1 0 1-1 1 0 1-1 1 0 1-1 2 0 3-2 1 0 1-1 2 0 3-2 1 0 1-1 2 0 1-1 2 0 3-2 2 0 1-1 2 0 1-1 2 0 1-1 2 0 1-1 2 0 1-1 2 0 1-1 2 0 1-1 2 0 1-1 3 0 1-1 3 0 1-1 3 0 1-1 3 0 1-1 3 0 1-1 4 0 1-1 4 0 1-1 4 0 1-1 5 0 1-1 6 0 1-1 7 0 1-1 10 0 1-1 48 0 1 1 10 0 1 1 7 0 1 1 6 0 1 1 5 0 1 1 5 0 1 1 4 0 1 1 4 0 1 1 3 0 1 1 3 0 1 1 3 0 1 1 3 0 1 1 2 0 1 1 3 0 1 1 2 0 1 1 2 0 1 1 2 0 1 1 2 0 1 1 2 0 1 1 2 0 3 2 2 0 1 1 2 0 3 2 2 0 1 1 1 0 1 1 1 0 1 1 2 0 1 1 1 0 1 1 1 0 1 1 1 0 1 1 1 0 3 2 2 0 1 1 1 0 1 1 1 0 2 2 1 0 1 0.9 1 0.1 3 1.9 1 0.1 1 0.9 1 0.1 1 0.9 1 0.1 2 1.9 1 0 1 1 1 0 2 2 1 0 1 1 1 0 2 2 1 0 1 1 1 0 2 2 1 0 2 2 1 0 2 2 1 0 3 3 1 0 2 2 1 0 3 3 1 0 3 3 1 0 3 3 1 0 5 5 1 0 6 6 1 0 29.2 29.2 0 1 6 6 0 1 4 4 0 1 4 4 0 1 3 3 0 1 3 3 0 1 2 2 0 1 2 2 0 1 2 2 0 1 2 2 0 1 2 2 0 1 2 2 0 1 1 1 0 1 2 2 0 1 1 1 0 1 2 2 0 1 2 3 0 1 2 2 0 1 1 1 0 1 2 3 0 1 1 1 0 1 1 1 0 1 1 1 0 1 1 1 0 1 1 1 0 1 1 1 0 1 1 1 0 1 1 1 0 2 1 1 0 1 1 1 0 1 1 1 0 2 2 3 0 1 1 1 0 2 1 1 0 2 2 3 0 2 1 1 0 2 1 1 0 2 1 1 0 2 1 1 0 2 1 1 0 2 1 1 0 2 1 1 0 3 1 1 0 2 1 1 -0.1 3 1 1 0 3 1 1 0 3 1 1 0 4 1 1 0 4 1 1 0 4 1 1 0 4 1 1 0 6 1 1 0 6 1 1 0 8 1 1 0 13 1 1 0 35 -1 1 0 12 -1 1 0 8 -1 1 0 7 -1 1 0 5 -1 1 0 5 -1 1 0 4 -1 1 0 4 -1 1 0 3 -1 1 0 3 -1 1 0 3 -1 1 0 3 -1 1 0 3 -1 1 0 2 -1 1 0 3 -1 1 0 2 -1 1 0 2 -1 1 0 2 -1 1 0 2 -1 1 0 2 -2 3 0 2 -1 1 0 2 -2 3 0 2 -1 1 0 1 -1 1 0 1 -1 1 0 2 -1 1 0 1 -1 1 0 1 -2 3 0 2 -1 1 0 1 -1 1 0 1 -1 1 0 1 -2 3 0 1 -1 1 0 1 -1 1 0 1 -2 2 0 1 -2 3 0 1 -1 1 0 1 -2 2 0 1 -1 1 0 1 -2 2 0 1 -1 1 0 1 -2 2 0 1 -2 2 0 1 -1 1 0 1 -2 2 0 1 -3 3 0 1 -2 2 0 1 -3 3 0 1 -2 2 0 1 -4 4 0 1 -4 4 0 1 -4 4 0 1 -7 7 0 1 -23.1 23.1 -1 0 -7 7 -1 0 -4 4 -1 0 -4 4 -1 0 -4 4 -1 0 -2 2 -1 0 -3 3 -1 0 -2 2 -1 0 -3 3 -1 0 -2 2 -1 0 -1 1 -1 0 -2 2 -1 0 -2 2 -1 0 -1 1 -1 0 -2 2 -1 0 -1 1 -1 0 -2 2 -1 0 -3 2 -1 0 -1 1 -1 0 -2 2 -1 0 -3 2 -1 0 -1 1 -1 0 -3 2 -1 0 -1 1 -1 0 -1 1 -2 0 -1 1 -1 0 -1 1 -1 0 -3 2 -2 0 -1 1 -1 0 -3 2 -2 0 -3 2 -2 0 -1 1 -2 0 -3 2 -2 0 -1 1 -2 0 -1 1 -2 0 -1 1 -2 0 -1 1 -2 0 -1 1 -3 0 -1 1 -2 0 -1 1 -3 0 -1 1 -3 0 -1 1 -3 0 -1 1 -3 0 -1 1 -3 0 -1 1 -4 0 -1 1 -4 0 -1 1 -5 0 -1 1 -5 0 -1 1 -7 0 -1 1 -8 0 -1 1 -12 0 -1 1zM452.8 590.0l13.2-2.6 13-3.9 12-5.1 11-6.3 15-11.2 8-7 5.5-5.9 9.5-11.5 5.3-7.5 6.5-13 5-14 3.2-14 2.2-17 0.6-14 -0.7-13 -2.4-19 -3-11 -5.2-11 -6.7-10 -7-8 -13.8-13 -4-2.6 -8.8-4.4 -6.2-4.2 -8-2.6 -6-3 -3-0.7 -7-0.1 -6-1.9 -5.6-3.5 -6.4-5.2 -6.2-6.8 -7.8-11 -2.4-5 -2.6-8.4 -2-4 -3-3.6 -5-3.9 -8-3.6 -13-3.3 -27.9-9.2 -26.1-7.4 -5-0.6 -9 0.2 -5 0.9 -6 2 -9 4.2 -9 5.6 -8.6 7.1 -8.4 8.7 -6 7.9 -5.1 8.4 -7.9 17.2 -2.9 7.8 -3.5 14 -4.8 31 -0.3 22 2.4 23 1.7 11 3.2 15 2.2 6.9 4.8 11.1 7.4 14 8.8 15.1 4.6 6.9 14.3 18 4.1 3.4 9.8 5.6 2.8 3 3.4 5 2 1.8 3 1.3 3 0.2 7-2.6 2.5 0.3 2.4 2 6.1 9.7 5 4.4 5 2.8 12 5.8 15 5.7 16 4.5 13 2.4 11 0.6 11.8-0.9z"/>
<path fill="#1300ed" d="M463.0 775.1l-35 0 -1-1 -13 0 -1-1 -8 0 -1-1 -6 0 -1-1 -6 0 -1-1 -4 0 -1-1 -4 0 -1-1 -4 0 -1-1 -4 0 -1-1 -3 0 -1-1 -3 0 -1-1 -3 0 -1-1 -2 0 -1-1 -3 0 -1-1 -2 0 -1-1 -2 0 -1-1 -2 0 -1-1 -2 0 -1-1 -2 0 -1-1 -2 0 -1-1 -2 0 -3-2 -2 0 -1-1 -2 0 -1-1 -1 0 -1-1 -1 0 -1-1 -2 0 -1-1 -1 0 -3-2 -2 0 -1-1 -1 0 -1-1 -1 0 -1-1 -1 0 -1-1 -1 0 -1-1 -1 0 -3-2 -1 0 -1-1 -1 0 -1-1 -1 0 -1-1 -1 0 -1-1 -1 0 -2-2 -1 0 -1-1 -1 0 -1-1 -1 0 -2-2 -1 0 -1-1 -1 0 -2-2 -1 0 -1-1 -1 0 -2-2 -1 0 -2-2 -1 0 -2-2 -1 0 -2-2 -1 0 -2-2 -1 0 -2-2 -1 0 -3-3 -1 0 -3-3 -1 0 -4-4 -1 0 -4-4 -1 0 -6-6 -1 0 -29.1-29.1 0-1 -6-6 0-1 -5-5 0-1 -3-3 0-1 -3-3 0-1 -3-3 0-1 -2-2 0-1 -3-3 0-1 -2-2 0-1 -2-2 0-1 -2-2 0-1 -1-1 0-1 -2-2 0-1 -1-1 0-1 -2-2 0-1 -1-1 0-1 -2-2 0-1 -1-1 0-1 -1-1 0-1 -1-1 0-1 -2-3 0-1 -2-2 0-1 -1-1 0-1 -1-1 0-2 -2-3 0-1 -1-1 0-1 -1-1 0-1 -1-1 0-1 -1-1 0-2 -2-3 0-1 -1-1 0-2 -1-1 0-1 -1-1 0-2 -1-1 0-2 -1.9-3 0-2 -1-1 0-2 -1-1 0-2 -1-1 0-2 -1-1 0-2 -1-1 0-2 -1-1 0-3 -1-1 0-2 -1-1 0-3 -1-1 0-3 -1-1 0-3 -1-1 0-3 -1-1 0-4 -1-1 0-4 -1-1 0-5 -1-1 0-5 -1-1 0-6 -1-1 0-7 -1-1 0-10 -1-1 0-48 1-1 0-10 1-1 0-7 1-1 0-6 1-1 0-5 1-1 0-4 1-1 0-4 1-1 0-4 1-1 0-3 1-1 0-3 1-1 0-3 1-1 0-3 0.9-1 0-3 1-1 0-2 1-1 0-2 1-1 0-2 1-1 0-2 1-1 0-2 1-1 0-2 1-1 0-2 1-1 0-2 2-3 0-2 1-1 0-2 1-1 0-1 1-1 0-1 1-1 0-2 2-3 0-1 1-1 0-2 1-1 0-1 1-1 0-1 1-1 0-1 1-1 0-1 1-1 0-1 1-1 0-1 1-1 0-1 1-1 0-1 1-1 0-1 1-1 0-1 2-2 0-1 1-1 0-1 1-1 0-1 2-2 0-1 1-1 0-1 2-2 0-1 1-1 0-1 2-2 0-1 2-2 0-1 1-1 0-1 2-2 0-1 3-3 0-1 2-2 0-1 3-3 0-1 3-3 0-1 3-3 0-1 4-4 0-1 5-5 0-1 8-8 0-1 18.1-18.1 1 0 8-8 1 0 5-5 1 0 4-4 1 0 3-3 1 0 3-3 1 0 3-3 1 0 2-2 1 0 3-3 1 0 2-2 1 0 1-1 1 0 2-2 1 0 2-2 1 0 1-1 1 0 2-2 1 0 1-1 1 0 2-2 1 0 1-1 1 0 1-1 1 0 2-2 1 0 1-1 1 0 1-1 1 0 1-1 1 0 1-1 1 0 1-1 1 0 1-1 1 0 1-1 1 0 1-1 1 0 1-1 1 0 1-1 2 0 3-2 1 0 1-1 2 0 3-2 1 0 1-1 2 0 1-1 2 0 3-2 2 0 1-1 2 0 1-1 2 0 1-1 2 0 1-1 2 0 1-1 2 0 1-1 2 0 1-1 2 0 1-1 3 0 1-1 3 0 1-1 3 0 1-1 3 0 1-1 3 0 1-1 4 0 1-1 4 0 1-1 4 0 1-1 5 0 1-1 6 0 1-1 7 0 1-1 10 0 1-1 48 0 1 1 10 0 1 1 7 0 1 1 6 0 1 1 5 0 1 1 5 0 1 1 4 0 1 1 4 0 1 1 3 0 1 1 3 0 1 1 3 0 1 1 3 0 1 1 2 0 1 1 3 0 1 1 2 0 1 1 2 0 1 1 2 0 1 1 2 0 1 1 2 0 1 1 2 0 3 2 2 0 1 1 2 0 3 2 2 0 1 1 1 0 1 1 1 0 1 1 2 0 1 1 1 0 1 1 1 0 1 1 1 0 1 1 1 0 3 2 2 0 1 1 1 0 1 1 1 0 2 2 1 0 1 1 1 0 3 2 1 0 1 1 1 0 1 1 1 0 2 2 1 0 1 1 1 0 2 2 1 0 1 1 1 0 2 2 1 0 1 1 1 0 2 2 1 0 2 2 1 0 2 2 1 0 3 3 1 0 2 2 1 0 3 3 1 0 3 3 1 0 3 3 1 0 5 5 1 0 6 5.9 1 0 29.1 29.2 0 1 6 6 0 1 4 4 0 1 4 4 0 1 3 3 0 1 3 3 0 1 2 2 0 1 2.1 2 0 1 2 2 0 1 2 2 0 1 2 2 0 1 2 2 0 1 1 1 0 1 2 2 0 1 1 1 0 1 2 2 0 1 1.9 3 0 1 2 2 0 1 1 1 0 1 2 3 0 1 1 1 0 1 1 1 0 1 1 1 0 1 1 1 0 1 1 1 0 1 1 1 0 1 1 1 0 1 1 1 0 2 1 1 0 1 1 1 0 1 1 1 0 2 2 3 0 1 1 1 0 2 1 1 0 2 2 3 0 2 1 1 0 2 1 1 0 2 1 1 0 2 1 1 0 2 1 1 0 2 1 1 0 2 1 1 0 3 1 1 0 2 1 1 0 3 1 1 0 3 1 1 0 3 1 1 0 4 1 1 0 4 1 1 0 4 1 1 0 4 1 1 0 6 1 1 0 6 1 1 0 8 1 1 0 13 1 1 0 35 -1 1 0 12 -1 1 0 8 -1 1 0 7 -1 1 0 5 -1 1 0 5 -1 1 0 4 -1 1 0 4 -1 1 0 3 -1 1 0 3 -1 1 0 3 -1 1 0 3 -1 1 0 3 -1 1 0 2 -1 1 0 3 -1 1 0 2 -1 1 0 2 -1 1 0 2 -1 1 0 2 -1 1 0 2 -2 3 0 2 -1 1 0 2 -2 3 0 2 -1 1 0 1 -1 1 0 1 -1 1 0 2 -1 1 0 1 -1 1 0 1 -2 3 0 2 -1 1 0 1 -1 1 0 1 -1 1 0 1 -2 3 0 1 -1 1 0 1 -1 1 0 1 -2 2 0 1 -2 3 0 1 -1 1 0 1 -2 2 0 1 -1 1 0 1 -2 2 0 1 -1 1 0 1 -2 2 0 1 -2 2 0 1 -1 1 0 1 -2 2 0 1 -3 3 0 1 -2 2 0 1 -3 3 0 1 -2 2 0 1 -4 4 0 1 -4 4 0 1 -4 4 0 1 -7 7 0 1 -23.1 23.1 -1 0 -7 7 -1 0 -4 4 -1 0 -4 4 -1 0 -4 4 -1 0 -2 2 -1 0 -3 3 -1 0 -2 2 -1 0 -3 3 -1 0 -2 2 -1 0 -1 1 -1 0 -2 2 -1 0 -2 2 -1 0 -1 1 -1 0 -2 2 -1 0 -1 1 -1 0 -2 2 -1 0 -3 2 -1 0 -1 1 -1 0 -2 2 -1 0 -3 2 -1 0 -1 1 -1 0 -3 2 -1 0 -1 1 -1 0 -1 1 -2 0 -1 1 -1 0 -1 1 -1 0 -3 2 -2 0 -1 1 -1 0 -3 2 -2 0 -3 2 -2 0 -1 1 -2 0 -3 2 -2 0 -1 1 -2 0 -1 1 -2 0 -1 1 -2 0 -1 1 -2 0 -1 1 -3 0 -1 1 -2 0 -1 1 -3 0 -1 1 -3 0 -1 1 -3 0 -1 1 -3 0 -1 1 -3 0 -1 1 -4 0 -1 1 -4 0 -1 1 -5 0 -1 1 -5 0 -1 1 -7 0 -1 1 -8 0 -1 1 -12 0 -1 1zM446.8 595.0l14.2-2.3 14-3.8 13-5.2 12-6.5 12-8.6 13-11.1 8.3-8.5 12.3-16 7.2-14 5.2-14 3.6-15 2.5-17 0.8-9 -0.2-15 -2.2-22 -2.5-11.2 -5.2-11.8 -7.4-11 -7.1-8 -14.3-13.4 -3.9-2.6 -8.1-4 -7.3-5 -8.7-2.8 -7-4.5 -3-0.7 -7 0.2 -4-1.2 -3.1-2 -9.6-8 -4.2-5 -7.9-12 -6.2-18.3 -1-1.9 -16-15.9 -4-3.1 -4-1.7 -4-0.9 -17-1.4 -15-2.5 -30-4 -5 0 -5 0.6 -11 3 -9.2 4.1 -9.8 5.9 -8.7 7.1 -8.8 9 -6.2 8 -5.3 8.9 -5 10.7 -5.3 13.4 -3.8 14 -5.3 33 -0.4 5 0.3 22 4.5 29.7 4.3 19.3 7.4 17 7.6 14 10.7 17.7 15 18.8 4 3.7 9.4 6.8 7.5 9 3.1 1.5 4 0.7 9.1-1.2 1.3 1 7.5 10 5.1 4.4 18 9.2 14 5.8 14 4.5 12 2.9 11 1.4 10.8-0.2z"/>
<path fill="#0001ff" d="M463.0 775.1l-35 0 -1-1 -13 0 -1-1 -8 0 -1-1 -6 0 -1-1 -6 0 -1-1 -4 0 -1-1 -4 0 -1-1 -4 0 -1-1 -4 0 -1-1 -3 0 -1-1 -3 0 -1-1 -3 0 -1-1 -2 0 -1-1 -3 0 -1-1 -2 0 -1-1 -2 0 -1-1 -2 0 -1-1 -2 0 -1-1 -2 0 -1-1 -2 0 -1-1 -2 0 -3-2 -2 0 -1-1 -2 0 -1-1 -1 0 -1-1 -1 0 -1-1 -2 0 -1-1 -1 0 -3-2 -2 0 -1-1 -1 0 -1-1 -1 0 -1-1 -1 0 -1-1 -1 0 -1-1 -1 0 -3-2 -1 0 -1-1 -1 0 -1-1 -1 0 -1-1 -1 0 -1-1 -1 0 -2-2 -1 0 -1-1 -1 0 -1-1 -1 0 -2-2 -1 0 -1-1 -1 0 -2-2 -1 0 -1-1 -1 0 -2-2 -1 0 -2-2 -1 0 -2-2 -1 0 -2-2 -1 0 -2-2 -1 0 -2-2 -1 0 -3-3 -1 0 -3-3 -1 0 -4-4 -1 0 -4-4 -1 0 -6-6 -1 0 -29.1-29.1 0-1 -6-6 0-1 -5-5 0-1 -3-3 0-1 -3-3 0-1 -3-3 0-1 -1.9-2 0-1 -3-3 0-1 -2-2 0-1 -2-2 0-1 -2-2 0-1 -1-1 0-1 -2-2 0-1 -1-1 0-1 -2-2 0-1 -1-1 0-1 -2-2 0-1 -1-1 0-1 -1-1 0-1 -1-1 0-1 -2-3 0-1 -2-2 0-1 -1-1 0-1 -1-1 0-2 -2-3 0-1 -1-1 0-1 -1-1 0-1 -1-1 0-1 -1-1 0-2 -2-3 0-1 -1-1 0-2 -1-1 0-1 -1-1 0-2 -1-1 0-2 -2-3 0-2 -1-1 0-2 -1-1 0-2 -1-1 0-2 -1-1 0-2 -1-1 0-2 -1-1 0-3 -1-1 0-2 -1-1 0-3 -1-1 0-3 -1-1 0-3 -1-1 0-3 -1-1 0-4 -1-1 0-4 -1-1 0-5 -1-1 0-5 -1-1 0-6 -1-1 0-7 -1-1 0-10 -1-1 0-48 1-1 0-10 1-1 0-7 1-1 0-6 1-1 0-5 1-1 0-4 1-1 0-4 1-1 0-4 1-1 0-3 1-1 0-3 1-1 0-3 1-1 0-3 1-1 0-3 1-1 0-2 1-1 0-2 1-1 0-2 1-1 0-2 1-1 0-2 1-1 0-2 1-1 0-2 1-1 0-2 2-3 0-2 1-1 0-2 1-1 0-1 1-1 0-1 1-1 0-2 2-3 0-1 1-1 0-2 1-1 0-1 1-1 0-1 1-1 0-1 1-1 0-1 1-1 0-1 1-1 0-1 1-1 0-1 1-1 0-1 1-1 0-1 1-1 0-1 2-2 0-1 1-1 0-1 1-1 0-1 2-2 0-1 1-1 0-1 2-2 0-1 1-1 0-1 2-2 0-1 2-2 0-1 1-1 0-1 2-2 0-1 3-3 0-1 2-2 0-1 2.9-3 0-1 3-3 0-1 3-3 0-1 4-4 0-1 5-5 0-1 8.1-8 0-1 18-18.1 1 0 8-8 1 0 5-5 1 0 4-4 1 0 3-3 1 0 3-3 1 0 3-3 1 0 2-2 1 0 3-3 1 0 2-2 1 0 1-1 1 0 2-2 1 0 2-2 1 0 1-1 1 0 2-2 1 0 1-1 1 0 2-2 1 0 1-1 1 0 1-1 1 0 2-2 1 0 1-1 1 0 1-1 1 0 1-1 1 0 1-1 1 0 1-1 1 0 1-1 1 0 1-1 1 0 1-1 1 0 1-1 1 0 1-1 2 0 3-2 1 0 1-1 2 0 3-2 1 0 1-1 2 0 1-1 2 0 3-2 2 0 1-1 2 0 1-1 2 0 1-1 2 0 1-1 2 0 1-1 2 0 1-1 2 0 1-1 2 0 1-1 3 0 1-1 3 0 1-1 3 0 1-1 3 0 1-1 3 0 1-1 4 0 1-1 4 0 1-1 4 0 1-1 5 0 1-1 6 0 1-1 7 0 1-1 10 0 1-1 48 0 1 1 10 0 1 1 7 0 1 1 6 0 1 1 5 0 1 1 5 0 1 1 4 0 1 1 4 0 1 1 3 0 1 1 3 0 1 1 3 0 1 1 3 0 1 1 2 0 1 1 3 0 1 1 2 0 1 1 2 0 1 1 2 0 1 1 2 0 1 1 2 0 1 1 2 0 3 2 2 0 1 1 2 0 3 2 2 0 1 1 1 0 1 1 1 0 1 1 2 0 1 1 1 0 1 1 1 0 1 1 1 0 1 1 1 0 3 2 2 0 1 1 1 0 1 1 1 0 2 2 1 0 1 1 1 0 3 2 1 0 1 1 1 0 1 1 1 0 2 2 1 0 1 1 1 0 2 2 1 0 1 1 1 0 2 2 1 0 1 1 1 0 2 2 1 0 2 2 1 0 2 2 1 0 3 3 1 0 2 2 1 0 3 3 1 0 3 3 1 0 3 3 1 0 5 5 1 0 6 5.9 1 0 29.1 29.2 0 1 6 6 0 1 4 4 0 1 4 4 0 1 3 3 0 1 3 3 0 1 2 2 0 1 2 2 0 1 2 2 0 1 2 2 0.1 1 2 2 0 1 2 2 0 1 1 1 0 1 2 2 0 1 0.9 1 0 1 2 2 0 1 2 3 0 1 2 2 0 1 1 1 0 1 2 3 0 1 1 1 0 1 1 1 0 1 1 1 0 1 1 1 0 1 1 1 0 1 1 1 0 1 1 1 0 1 1 1 0 2 1 1 0 1 1 1 0 1 1 1 0 2 2 3 0 1 1 1 0 2 1 1 0 2 2 3 0 2 1 1 0 2 1 1 0 2 1 1 0 2 1 1 0 2 1 1 0 2 1 1 0 2 1 1 0 3 1 1 0 2 1 1 0 3 1 1 0 3 1 1 0 3 1 1 0 4 1 1 0 4 1 1 0 4 1 1 0 4 1 1 0 6 1 1 0 6 1 1 0 8 1 1 0 13 1 1 0 35 -1 1 0 12 -1 1 0 8 -1 1 0 7 -1 1 0 5 -1 1 0 5 -1 1 0 4 -1 1 0 4 -1 1 0 3 -1 1 0 3 -1 1 0 3 -1 1 0 3 -1 1 0 3 -1 1 0 2 -1 1 0 3 -1 1 0 2 -1 1 0 2 -1 1 0 2 -1 1 0 2 -1 1 0 2 -2 3 0 2 -1 1 0 2 -2 3 0 2 -1 1 0 1 -1 1 0 1 -1 1 0 2 -1 1 0 1 -1 1 0 1 -2 3 0 2 -1 1 0 1 -1 1 0 1 -1 1 0 1 -2 3 0 1 -1 1 0 1 -1 1 0 1 -2 2 0 1 -2 3 0 1 -1 1 0 1 -2 2 0 1 -1 1 0 1 -2 2 0 1 -1 1 0 1 -2 2 0 1 -2 2 0 1 -1 1 0 1 -2 2 0 1 -3 3 0 1 -2 2 0 1 -3 3 0 1 -2 2 0 1 -4 4 0 1 -4 4 0 1 -4 4 0 1 -7 7 0 1 -23.1 23.1 -1 0 -7 7 -1 0 -4 4 -1 0 -4 4 -1 0 -4 4 -1 0 -2 2 -1 0 -3 3 -1 0 -2 2 -1 0 -3 3 -1 0 -2 2 -1 0 -1 1 -1 0 -2 2 -1 0 -2 2 -1 0 -1 1 -1 0 -2 2 -1 0 -1 1 -1 0 -2 2 -1 0 -3 2 -1 0 -1 1 -1 0 -2 2 -1 0 -3 2 -1 0 -1 1 -1 0 -3 2 -1 0 -1 1 -1 0 -1 1 -2 0 -1 1 -1 0 -1 1 -1 0 -3 2 -2 0 -1 1 -1 0 -3 2 -2 0 -3 2 -2 0 -1 1 -2 0 -3 2 -2 0 -1 1 -2 0 -1 1 -2 0 -1 1 -2 0 -1 1 -2 0 -1 1 -3 0 -1 1 -2 0 -1 1 -3 0 -1 1 -3 0 -1 1 -3 0 -1 1 -3 0 -1 1 -3 0 -1 1 -4 0 -1 1 -4 0 -1 1 -5 0 -1 1 -5 0 -1 1 -7 0 -1 1 -8 0 -1 1 -12 0 -1 1zM450.5 599.0l13.5-2.7 14-4.4 13-5.6 11-6.5 14-10.6 17.4-16.2 3.6-4 10-13.6 7.2-14.4 5.5-15 3.6-15 2.9-19 0.7-8 -0.2-16 -2-22 -1-6 -1.4-5 -5.4-12 -7.7-11 -6.2-7 -15.1-14 -3.9-2.7 -8.9-4.3 -7.1-5.1 -9-2.7 -4-3.4 -3.1-1.8 -3.9-1 -6 0.1 -3.4-1.1 -12.6-10.6 -11.2-16.4 -4.9-12 -1.8-9 -6.5-7 -5-12 -1.6-2.4 -2-1.7 -5-2.2 -6-0.9 -20 0.1 -17-1.7 -18-0.3 -16-1.4 -10 2.2 -9 2.9 -11.5 5.4 -7.9 5 -8.6 7 -10 10.7 -6 8.3 -5 9 -7.6 18 -4.1 12 -3.5 19 -3.3 22 -0.2 23 3.2 23 4.9 25 1.6 5.5 7 16.2 7.1 13.3 10.9 18 14.3 18 4.7 4.8 8.6 7.2 6.4 8.4 2 1.9 3 1.3 9.4 1.4 2.6 0.9 5 4 7 6.9 5 3.4 22 11.1 15 6.2 12 3.8 13 2.6 11 0.8 10.5-0.7z"/>
<path fill="#001aff" d="M463.0 775.1l-35 0 -1-1 -13 0 -1-1 -8 0 -1-1 -6 0 -1-1 -6 0 -1-1 -4 0 -1-1 -4 0 -1-1 -4 0 -1-1 -4 0 -1-1 -3 0 -1-1 -3 0 -1-1 -3 0 -1-1 -2 0 -1-1 -3 0 -1-1 -2 0 -1-1 -2 0 -1-1 -2 0 -1-1 -2 0 -1-1 -2 0 -1-1 -2 0 -1-1 -2 0 -3-2 -2 0 -1-1 -2 0 -1-1 -1 0 -1-1 -1 0 -1-1 -2 0 -1-1 -1 0 -3-2 -2 0 -1-1 -1 0 -1-1 -1 0 -1-1 -1 0 -1-1 -1 0 -1-1 -1 0 -3-2 -1 0 -1-1 -1 0 -1-1 -1 0 -1-1 -1 0 -1-1 -1 0 -2-2 -1 0 -1-1 -1 0 -1-1 -1 0 -2-2 -1 0 -1-1 -1 0 -2-2 -1 0 -1-1 -1 0 -2-2 -1 0 -2-2 -1 0 -2-2 -1 0 -2-2 -1 0 -2-2 -1 0 -2-2 -1 0 -3-3 -1 0 -3-3 -1 0 -4-4 -1 0 -4-4 -1 0 -6-6.1 -1 0 -29-29 0-1 -6-6 0-1 -5-5 0-1 -3-3 0-1 -3-3 0-1 -3-3 0-1 -2-2 0-1 -3-3 0-1 -2-2 0-1 -2-2 0-1 -2-2 0-1 -1-1 0-1 -2-2 0-1 -1-1 0-1 -2-2 0-1 -1-1 0-1 -2-2 0-1 -1-1 0-1 -1-1 0-1 -1-1 0-1 -2-3 0-1 -2-2 0-1 -1-1 0-1 -1-1 0-2 -2-3 0-1 -1-1 0-1 -1-1 0-1 -1-1 0-1 -1-1 0-2 -2-3 0-1 -1-1 0-2 -1-1 0-1 -1-1 0-2 -1-1 0-2 -2-3 0-2 -1-1 0-2 -1-1 0-2 -1-1 0-2 -1-1 0-2 -1-1 0-2 -1-1 0-3 -1-1 0-2 -1-1 0-3 -1-1 0-3 -1-1 0-3 -1-1 0-3 -1-1 0-4 -1-1 0-4 -1-1 0-5 -1-1 0-5 -1-1 0-6 -1-1 0-7 -1-1 0-10 -1-1 0-48 1-1 0-10 1-1 0-7 1-1 0-6 1-1 0-5 1-1 0-4 1-1 0-4 1-1 0-4 1-1 0-3 1-1 0-3 1-1 0-3 1-1 0-3 1-1 0-3 1-1 0-2 1-1 0-2 1-1 0-2 1-1 0-2 1-1 0-2 1-1 0-2 1-1 0-2 1-1 0-2 2-3 0-2 1-1 0-2 1-1 0-1 1-1 0-1 1-1 0-2 2-3 0-1 1-1 0-2 1-1 0-1 1-1 0-1 1-1 0-1 1-1 0-1 1-1 0-1 1-1 0-1 1-1 0-1 1-1 0-1 1-1 0-1 1-1 0-1 2-2 0-1 1-1 0-1 1-1 0-1 2-2 0-1 1-1 0-1 2-2 0-1 1-1 0-1 2-2 0-1 2-2 0-1 1-1 0-1 2-2 0-1 3-3 0-1 2-2 0-1 3-3 0-1 3-3 0-1 3-3 0-1 4-4 0-1 5-5 0-1 8-8 0-1 18-18 1 0 8-8 1 0 5-5 1 0 4-4 1 0 3-3 1 0 3-3 1 0 3-3 1 0 2-2 1 0 3-3 1 0 2-2 1 0 1-1 1 0 2-2 1 0 2-2 1 0 1-1 1 0 2-2 1 0 1-1 1 0 2-2 1 0 1-1 1 0 1-1 1 0 2-2 1 0 1-1 1 0 1-1 1 0 1-1 1 0 1-1 1 0 1-1 1 0 1-1 1 0 1-1 1 0 1-1 1 0 1-1 1 0 1-1 2 0 3-2 1 0 1-1 2 0 3-2 1 0 1-1 2 0 1-1 2 0 3-2 2 0 1-1 2 0 1-1 2 0 1-1 2-0.1 1-1 2 0 1-1 2 0 1-1 2 0 1-1 2 0 1-1 3 0 1-1 3 0 1-1 3 0 1-1 3 0 1-1 3 0 1-1 4 0 1-1 4 0 1-1 4 0 1-1 5 0 1-1 6 0 1-1 7 0 1-1 10 0 1-1 48 0 1 1 10 0 1 1 7 0 1 1 6 0 1 1 5 0 1 1 5 0 1 1 4 0 1 1 4 0 1 1 3 0 1 1 3 0 1 1 3 0 1 1 3 0 1 1 2 0 1 1 3 0 1 1 2 0 1 1 2 0 1 1 2 0 1 1 2 0 1 1 2 0 1 1 2 0 3 2 2 0 1 1 2 0 3 2 2 0 1 1 1 0 1 1 1 0 1 1 2 0 1 1 1 0 1 1 1 0 1 1 1 0 1 1 1 0 3 2 2 0 1 1 1 0 1 1 1 0 2 2 1 0 1 1 1 0 3 2 1 0 1 1 1 0 1 1 1 0 2 2 1 0 1 1 1 0 2 2 1 0 1 1 1 0 2 2 1 0 1 1 1 0 2 2 1 0 2 2 1 0 2 2 1 0 3 3 1 0 2 2 1 0 3 3 1 0 3 3 1 0 3 3 1 0 5 5 1 0 6 6 1 0 29.1 29.1 0 1 6 6 0 1 4 4 0 1 4 4 0 1 3 3 0 1 3 3 0 1 2 2 0 1 2 2 0 1 2 2 0 1 2 2 0 1 2 2 0 1 2 2 0 1 1 1 0 1 2 2 0 1 1 1 0 1 2 2 0 1 2 3 0 1 2 2 0 1 1 1 0 1 2 3 0 1 1 1 0 1 1 1 0 1 1 1 0 1 1 1 0 1 1 1 0 1 1 1 0 1 1 1 0 1 1 1 0 2 1 1 0 1 1 1 0 1 1 1 0 2 2 3 0 1 1 1 0 2 1 1 0 2 2 3 0 2 1 1 0 2 1 1 0 2 1 1 0 2 1 1 0 2 1 1 0 2 1 1 0 2 1 1 0 3 1 1 0 2 1 1 0 3 1 1 0 3 1 1 0 3 1 1 0 4 1 1 0 4 1 1 0 4 1 1 0 4 1 1 0 6 1 1 0 6 1 1 0 8 1 1 0 13 1 1 0 35 -1 1 0 12 -1 1 0 8 -1 1 0 7 -1 1 0 5 -1 1 0 5 -1 1 0 4 -1 1 0 4 -1 1 0 3 -1 1 0 3 -1 1 0 3 -1 1 0 3 -1 1 0 3 -1 1 0 2 -1 1 0 3 -1 1 0 2 -1 1 0 2 -1 1 0 2 -1 1 0 2 -1 1 0 2 -2 3 0 2 -1 1 0 2 -2 3 0 2 -1 1 0 1 -1 1 0 1 -1 1 0 2 -1 1 0 1 -1 1 0 1 -2 3 0 2 -1 1 0 1 -1 1 0 1 -1 1 0 1 -2 3 0 1 -1 1 0 1 -1 1 0 1 -2 2 0 1 -2 3 0 1 -1 1 0 1 -2 2 0 1 -1 1 0 1 -2 2 0 1 -1 1 0 1 -2 2 0 1 -2 2 0 1 -1 1 0 1 -2 2 0 1 -3 3 0 1 -2 2 0 1 -3 3 0 1 -2 2 0 1 -4 4 0 1 -4 4 0 1 -4 4 0 1 -7 7 0 1 -23.1 23.1 -1 0 -7 7 -1 0 -4 4 -1 0 -4 4 -1 0 -4 4 -1 0 -2 2 -1 0 -3 3 -1 0 -2 2 -1 0 -3 3 -1 0 -2 2 -1 0 -1 1 -1 0 -2 2 -1 0 -2 2 -1 0 -1 1 -1 0 -2 2 -1 0 -1 1 -1 0 -2 2 -1 0 -3 2 -1 0 -1 1 -1 0 -2 2 -1 0 -3 2 -1 0 -1 1 -1 0 -3 2 -1 0 -1 1 -1 0 -1 1 -2 0 -1 1 -1 0 -1 1 -1 0 -3 2 -2 0 -1 1 -1 0 -3 2 -2 0 -3 2 -2 0 -1 1 -2 0 -3 2 -2 0 -1 1 -2 0 -1 1 -2 0 -1 1 -2 0 -1 1 -2 0 -1 1 -3 0 -1 1 -2 0 -1 1 -3 0 -1 1 -3 0 -1 1 -3 0 -1 1 -3 0 -1 1 -3 0 -1 1 -4 0 -1 1 -4 0 -1 1 -5 0 -1 1 -5 0 -1 1 -7 0 -1 1 -8 0 -1 1 -12 0 -1 1zM445.8 604.0l13.2-2.2 16-4.6 13-5.5 12-6.7 15-11.1 22.7-20.9 2.7-3 7.2-11 3.4-6.1 4-8.8 5.4-14.1 4.2-16 2.8-17 1.3-12 -0.4-23 -1.3-16 -2.2-11 -5.9-13 -6.9-10 -8-8.9 -14.3-13.1 -4.6-3 -8.8-4 -7.3-5.5 -3-1.3 -5.4-1.2 -3.6-3.3 -2-1.2 -4.4-1.5 -7.6-0.9 -2.7-1.1 -2.3-2 -2-3 -5-3.2 -3.1-2.8 -3.4-6 -4.5-6 -2.6-5 -5.3-8 -0.9-3 -1-8 -4-6 -0.7-2 0-10 -0.5-3 -1.7-3 -3.3-2.8 -6-2.4 -8-1.3 -7 0 -17 1 -20-1.6 -17 1.1 -15-0.5 -19 5.4 -11.2 5.1 -8.3 5 -8.8 7 -9.5 10 -6.2 8.5 -5 8.6 -12.7 30.9 -6.6 43 -0.1 23 3.1 22 5.3 27 1.4 5 7.6 17.4 6.7 12.6 10.9 18 13.4 17 13.2 13 6.5 9 2.3 2.5 3 1.6 7.3 1.9 3.7 1.5 5 3.3 8 7.1 5 3.4 24 12.4 15 6.7 10 3.2 11 2.2 11 1.3 9.8-0.1z"/>
<path fill="#0033ff" d="M463.0 775.1l-35 0 -1-1 -13 0 -1-1 -8 0 -1-1 -6 0 -1-1 -6 0 -1-1 -4 0 -1-1 -4 0 -1-1 -4 0 -1-1 -4 0 -1-1 -3 0 -1-1 -3 0 -1-1 -3 0 -1-1 -2 0 -1-1 -3 0 -1-1 -2 0 -1-1 -2 0 -1-1 -2 0 -1-1 -2 0 -1-1 -2 0 -1-1 -2 0 -1-1 -2 0 -3-2 -2 0 -1-1 -2 0 -1-1 -1 0 -1-1 -1 0 -1-1 -2 0 -1-1 -1 0 -3-2 -2 0 -1-1 -1 0 -1-1 -1 0 -1-1 -1 0 -1-1 -1 0 -1-1 -1 0 -3-2 -1 0 -1-1 -1 0 -1-1 -1 0 -1-1 -1 0 -1-1 -1 0 -2-2 -1 0 -1-1 -1 0 -1-1 -1 0 -2-2 -1 0 -1-1.1 -1 0 -2-2 -1 0 -1-1 -1 0 -2-2 -1 0 -2-2 -1 0 -2-2 -1 0 -2-2 -1 0 -2-2 -1 0 -2-2 -1 0 -3-3 -1 0 -3-3 -1 0 -4-4 -1 0 -4-4 -1 0 -6-6 -1 0 -29-29 0-1 -6-6 0-1 -5-5 0-1 -3-3 0-1 -3-3 0-1 -3-3 0-1 -2-2 0-1 -3-3 0-1 -2-2 0-1 -2-2 0-1 -2-2 0-1 -1-1 0-1 -2-2 0-1 -1-1 0-1 -2-2 0-1 -1-1 0-1 -2-2 0-1 -1-1 0-1 -1-1 0-1 -1-1 0-1 -2-3 0-1 -2-2 0-1 -1-1 0-1 -1-1 0-2 -2-3 0-1 -1-1 0-1 -1-1 0-1 -1-1 0-1 -1-1 0-2 -2-3 0-1 -1-1 0-2 -1-1 0-1 -1-1 0-2 -1-1 0-2 -2-3 0-2 -1-1 0-2 -1-1 0-2 -1-1 0-2 -1-1 0-2 -1-1 0-2 -1-1 0-3 -1-1 0-2 -1-1 0-3 -1-1 0-3 -1-1 0-3 -1-1 0-3 -1-1 0-4 -1-1 0-4 -1-1 0-5 -1-1 0-5 -1-1 0-6 -1-1 0-7 -1-1 0-10 -1-1 0-48 1-1 0-10 1-1 0-7 1-1 0-6 1-1 0-5 1-1 0-4 1-1 0-4 1-1 0-4 1-1 0-3 1-1 0-3 1-1 0-3 1-1 0-3 1-1 0-3 1-1 0-2 1-1 0-2 1-1 0-2 1-1 0-2 1-1 0-2 1-1 0-2 1-1 0-2 1-1 0-2 2-3 0-2 1-1 0-2 1-1 0-1 1-1 0-1 1-1 0-2 2-3 0-1 1-1 0-2 1-1 0-1 1-1 0-1 1-1 0-1 1-1 0-1 1-1 0-1 1-1 0-1 1-1 0-1 1-1 0-1 1-1 0-1 1-1 0-1 2-2 0-1 1-1 0-1 1-1 0-1 2-2 0-1 1-1 0-1 2-2 0-1 1-1 0-1 2-2 0-1 2-2 0-1 1-1 0-1 2-2 0-1 3-3 0-1 2-2 0-1 3-3 0-1 3-3 0-1 3-3 0-1 4-4 0-1 5-5 0-1 8-8 0-1 18-18 1 0 8-8 1 0 5-5 1 0 4-4 1 0 3-3 1 0 3-3 1 0 3-3 1 0 2-2 1 0 3-3 1 0 2-2 1 0 1-1 1 0 2-2 1 0 2-2 1 0 1-1 1 0 2-2 1 0 1-1 1 0 2-2 1 0 1-1 1 0 1-1 1 0 2-2 1 0 1-1 1 0 1-1 1 0 1-1 1 0 1-1 1 0 1-1 1 0 1-1 1 0 1-1 1 0 1-1 1 0 1-1 1 0 1-1 2 0 3-2 1 0 1-1 2 0 3-2 1 0 1-1 2 0 1-1 2 0 3-2 2 0 1-1 2 0 1-1 2 0 1-1 2 0 1-1 2 0 1-1 2 0 1-1 2 0 1-1 2 0 1-1 3 0 1-1 3 0 1-1 3 0 1-1 3 0 1-1 3 0 1-1 4 0 1-1 4 0 1-1 4 0 1-1 5 0 1-1 6-0.1 1-1 7 0 1-1 10 0 1-1 48 0 1 1 10 0 1 1 7 0 1 1 6 0 1 1 5 0 1 1 5 0 1 1 4 0 1 1 4 0 1 1 3 0 1 1 3 0 1 1 3 0 1 1 3 0 1 1 2 0 1 1 3 0 1 1 2 0 1 1 2 0 1 1 2 0 1 1 2 0 1 1 2 0 1 1 2 0 3 2 2 0 1 1 2 0 3 2 2 0 1 1 1 0 1 1 1 0 1 1 2 0 1 1 1 0 1 1 1 0 1 1 1 0 1 1 1 0 3 2 2 0 1 1 1 0 1 1 1 0 2 2 1 0 1 1 1 0 3 2 1 0 1 1 1 0 1 1 1 0 2 2 1 0 1 1 1 0 2 2 1 0 1 1 1 0 2 2 1 0 1 1 1 0 2 2 1 0 2 2 1 0 2 2 1 0 3 3 1 0 2 2 1 0 3 3 1 0 3 3 1 0 3 3 1 0 5 5 1 0 6 6 1 0 29.1 29.1 0 1 6 6 0 1 4 4 0 1 4 4 0 1 3 3 0 1 3 3 0 1 2 2 0 1 2 2 0 1 2 2 0 1 2 2 0 1 2 2 0 1 2 2 0 1 1 1 0 1 2 2 0 1 1 1 0 1 2 2 0 1 2 3 0 1 2 2 0 1 1 1 0 1 2 3 0 1 1 1 0 1 1 1 0 1 1 1 0 1 1 1 0 1 1 1 0 1 1 1 0 1 1 1 0 1 1 1 0 2 1 1 0 1 1 1 0 1 1 1 0 2 2 3 0 1 1 1 0 2 1 1 0 2 2 3 0 2 1 1 0 2 1 1 0 2 1 1 0 2 1 1 0 2 1 1 0 2 1 1 0 2 1 1 0 3 1 1 0 2 1 1 0 3 1 1 0 3 1 1 0 3 1 1 0 4 1 1 0 4 1 1 0 4 1 1 0 4 1 1 0 6 1 1 0 6 1 1 0 8 1 1 0 13 1 1 0 35 -1 1 0 12 -1 1 0 8 -1 1 0 7 -1 1 0 5 -1 1 0 5 -1 1 0 4 -1 1 0 4 -1 1 0 3 -1 1 0 3 -1 1 0 3 -1 1 0 3 -1 1 0 3 -1 1 0 2 -1 1 0 3 -1 1 0 2 -1 1 0 2 -1 1 0 2 -1 1 0 2 -1 1 0 2 -2 3 0 2 -1 1 0 2 -2 3 0 2 -1 1 0 1 -1 1 0 1 -1 1 0 2 -1 1 0 1 -1 1 0 1 -2 3 0 2 -1 1 0 1 -1 1 0 1 -1 1 0 1 -2 3 0 1 -1 1 0 1 -1 1 0 1 -2 2 0 1 -2 3 0 1 -1 1 0 1 -2 2 0 1 -1 1 0 1 -2 2 0 1 -1 1 0 1 -2 2 0 1 -2 2 0 1 -1 1 0 1 -2 2 0 1 -3 3 0 1 -2 2 0 1 -3 3 0 1 -2 2 0 1 -4 4 0 1 -4 4 0 1 -4 4 0 1 -7 7 0 1 -23.1 23.1 -1 0 -7 7 -1 0 -4 4 -1 0 -4 4 -1 0 -4 4 -1 0 -2 2 -1 0 -3 3 -1 0 -2 2 -1 0 -3 3 -1 0 -2 2 -1 0 -1 1 -1 0 -2 2 -1 0 -2 2 -1 0 -1 1 -1 0 -2 2 -1 0 -1 1 -1 0 -2 2 -1 0 -3 2 -1 0 -1 1 -1 0 -2 2 -1 0 -3 2 -1 0 -1 1 -1 0 -3 2 -1 0 -1 1 -1 0 -1 1 -2 0 -1 1 -1 0 -1 1 -1 0 -3 2 -2 0 -1 1 -1 0 -3 2 -2 0 -3 2 -2 0 -1 1 -2 0 -3 2 -2 0 -1 1 -2 0 -1 1 -2 0 -1 1 -2 0 -1 1 -2 0 -1 1 -3 0 -1 1 -2 0 -1 1 -3 0 -1 1 -3 0 -1 1 -3 0 -1 1 -3 0 -1 1 -3 0 -1 1 -4 0 -1 1 -4 0 -1 1 -5 0 -1 1 -5 0 -1 1 -7 0 -1 1 -8 0 -1 1 -12 0 -1 1zM449.6 608.0l11.4-2.4 14-4.4 11-4.6 11-5.9 9-6 9-7 17.6-16.7 8.5-7 2.5-3 9.4-17.3 6.6-15.7 4.6-15 3.5-16 2.7-21 -0.1-25 -1.2-16 -1.2-7 -1.5-5 -5.5-12 -6.9-10.1 -8-9 -14-12.9 -4.6-3 -9.4-3.9 -8-6.1 -7.6-3 -3.7-3 -15.4-4 -2.2-2 -2.4-4 -5.7-3.4 -2-1.8 -3.2-5.8 -4.3-5 -3.4-6 -5.1-5.5 -1.5-2.5 -0.8-3 -0.7-7 -1.8-7 2.4-10 -0.2-5 -1.7-4 -1.9-2 -2.8-1.9 -7.8-3.1 -9.2-1.6 -9 0 -17 1.5 -20-1.6 -19 2.4 -15 0.3 -20 5.6 -12 5.4 -8 4.9 -8.8 7.1 -8.5 9 -6.4 9 -5.1 9 -12.6 31 -6.2 42 -0.4 24 0.8 9 1.4 9 6.5 33 1.4 5 4.9 12 6.5 13 13.7 23 13.4 17 13.3 14 6.1 8.9 3 3.2 3 2 12 5.8 11 8.7 6 3.9 26 13.8 13 6.1 10 3 16 2.6 11 0.7 9.6-0.7z"/>
<path fill="#004bff" d="M463.0 775.1l-35 0 -1-1 -13 0 -1-1 -8 0 -1-1 -6 0 -1-1 -6 0 -1-1 -4 0 -1-1 -4 0 -1-1 -4 0 -1-1 -4 0 -1-1 -3 0 -1-1 -3 0 -1-1 -3 0 -1-1 -2 0 -1-1 -3 0 -1-1 -2 0 -1-1 -2 0 -1-1 -2 0 -1-1 -2 0 -1-1 -2 0 -1-1 -2 0 -1-1 -2 0 -3-2 -2 0 -1-1 -2 0 -1-1 -1 0 -1-1 -1 0 -1-1 -2-0.1 -1-1 -1 0 -3-2 -2 0 -1-1 -1 0 -1-1 -1 0 -1-1 -1 0 -1-1 -1 0 -1-1 -1 0 -3-2 -1 0 -1-1 -1 0 -1-1 -1 0 -1-1 -1 0 -1-1 -1 0 -2-2 -1 0 -1-1 -1 0 -1-1 -1 0 -2-2 -1 0 -1-1 -1 0 -2-2 -1 0 -1-1 -1 0 -2-2 -1 0 -2-2 -1 0 -2-2 -1 0 -2-2 -1 0 -2-2 -1 0 -2-2 -1 0 -3-3 -1 0 -3-3 -1 0 -4-4 -1 0 -4-4 -1 0 -6-6 -1 0 -29-29 0-1 -6-6 0-1 -5-5 0-1 -3-3 0-1 -3-3 0-1 -3-3 0-1 -2-2 0-1 -3-3 0-1 -2-2 0-1 -2-2 0-1 -2-2 0-1 -1-1 0-1 -2-2 0-1 -1-1 0-1 -2-2 0-1 -1-1 0-1 -2-2 0-1 -1-1 0-1 -1-1 0-1 -1-1 0-1 -2-3 0-1 -2-2 0-1 -1-1 0-1 -1-1 0-2 -1-1 0-1 -1-1 0-1 -1-1 0-1 -1-1 0-1 -1-1 0-1 -0.7-1 -2.3-18 -3.5-19 -1.5-18 -2.9-22 -1.3-14 -0.7-17 -0.2-46 -0.7-23 1.9-47 2.2-18 0.7-1 0-2 1-1 0-2 2-3 0-2 1-1 0-2 1-1 0-1 1-1 0-1 1-1 0-2 2-3 0-1 1-1 0-2 1-1 0-1 1-1 0-1 1-1 0-1 1-1 0-1 1-1 0-1 1-1 0-1 1-1 0-1 1-1 0-1 1-1 0-1 1-1 0-1 2-2 0-1 1-1 0-1 1-1 0-1 2-2 0-1 1-1 0-1 2-2 0-1 1-1 0-1 2-2 0-1 2-2 0-1 1-1 0-1 2-2 0-1 3-3 0-1 2-2 0-1 3-3 0-1 3-3 0-1 3-3 0-1 4-4 0-1 5-5 0-1 8-8 0-1 18-18 1 0 8-8 1 0 5-5 1 0 4-4 1 0 3-3 1 0 3-3 1 0 3-3 1 0 2-2 1 0 3-3 1 0 2-2 1 0 1-1 1 0 2-2 1 0 2-2 1 0 1-1 1 0 2-2 1 0 1-1 1 0 2-2 1 0 1-1 1 0 1-1 1 0 2-2 1 0 1-1 1 0 1-1 1 0 1-1 1 0 1-1 1 0 1-1 1 0 1-1 1 0 1-1 1 0 1-1 1 0 1-1 1 0 1-1 2 0 3-2 1 0 1-1 2 0 3-2 1 0 1-1 2 0 1-1 2 0 3-2 2 0 1-1 2 0 1-1 2 0 1-1 2 0 1-1 2 0 1-1 2 0 1-1 2 0 1-1 2 0 1-1 3 0 1-1 3 0 1-1 3 0 1-1 3 0 1-1 3 0 1-1 4 0 1-1 4 0 1-1 4 0 1-1 5 0 1-1 6 0 1-1 7 0 1-1 10 0 1-1 48-0.1 1 1 10 0 1 1 7 0 1 1 6 0 1 1 5 0 1 1 5 0 1 1 4 0 1 1 4 0 1 1 3 0 1 1 3 0 1 1 3 0 1 1 3 0 1 1 2 0 1 1 3 0 1 1 2 0 1 1 2 0 1 1 2 0 1 1 2 0 1 1 2 0 1 1 2 0 3 2 2 0 1 1 2 0 3 2 2 0 1 1 1 0 1 1 1 0 1 1 2 0 1 1 1 0 1 1 1 0 1 1 1 0 1 1 1 0 3 2 2 0 1 1 1 0 1 1 1 0 2 2 1 0 1 1 1 0 3 2 1 0 1 1 1 0 1 1 1 0 2 2 1 0 1 1 1 0 2 2 1 0 1 1 1 0 2 2 1 0 1 1 1 0 2 2 1 0 2 2 1 0 2 2 1 0 3 3 1 0 2 2 1 0 3 3 1 0 3 3 1 0 3 3 1 0 5 5 1 0 6 6 1 0 29.1 29.1 0 1 6 6 0 1 4 4 0 1 4 4 0 1 3 3 0 1 3 3 0 1 2 2 0 1 2 2 0 1 2 2 0 1 2 2 0 1 2 2 0 1 2 2 0 1 1 1 0 1 2 2 0 1 1 1 0 1 2 2 0 1 2 3 0 1 2 2 0 1 1 1 0 1 2 3 0 1 1 1 0 1 1 1 0 1 1 1 0 1 1 1 0 1 1 1 0 1 1 1 0 1 1 1 0 1 1 1 0 2 1 1 0 1 1 1 0 1 1 1 0 2 2 3 0 1 1 1 0 2 1 1 0 2 2 3 0 2 1 1 0 2 1 1 0 2 1 1 0 2 1 1 0 2 1 1 0 2 1 1 0 2 1 1 0 3 1 1 0 2 1 1 0 3 1 1 0 3 1 1 0 3 1 1 0 4 1 1 0 4 1 1 0 4 1 1 0 4 1 1 0 6 1 1 0 6 1 1 0 8 1 1 0 13 1 1 0 35 -1 1 0 12 -1 1 0 8 -1 1 0 7 -1 1 0 5 -1 1 0 5 -1 1 0 4 -1 1 0 4 -1 1 0 3 -1 1 0 3 -1 1 0 3 -1 1 0 3 -1 1 0 3 -1 1 0 2 -1 1 0 3 -1 1 0 2 -1 1 0 2 -1 1 0 2 -1 1 0 2 -1 1 0 2 -2 3 0 2 -1 1 0 2 -2 3 0 2 -1 1 0 1 -1 1 0 1 -1 1 0 2 -1 1 0 1 -1 1 0 1 -2 3 0 2 -1 1 0 1 -1 1 0 1 -1 1 0 1 -2 3 0 1 -1 1 0 1 -1 1 0 1 -2 2 0 1 -2 3 0 1 -1 1 0 1 -2 2 0 1 -1 1 0 1 -2 2 0 1 -1 1 0 1 -2 2 0 1 -2 2 0 1 -1 1 0 1 -2 2 0 1 -3 3 0 1 -2 2 0 1 -3 3 0 1 -2 2 0 1 -4 4 0 1 -4 4 0 1 -4 4 0 1 -7 7 0 1 -23.1 23.1 -1 0 -7 7 -1 0 -4 4 -1 0 -4 4 -1 0 -4 4 -1 0 -2 2 -1 0 -3 3 -1 0 -2 2 -1 0 -3 3 -1 0 -2 2 -1 0 -1 1 -1 0 -2 2 -1 0 -2 2 -1 0 -1 1 -1 0 -2 2 -1 0 -1 1 -1 0 -2 2 -1 0 -3 2 -1 0 -1 1 -1 0 -2 2 -1 0 -3 2 -1 0 -1 1 -1 0 -3 2 -1 0 -1 1 -1 0 -1 1 -2 0 -1 1 -1 0 -1 1 -1 0 -3 2 -2 0 -1 1 -1 0 -3 2 -2 0 -3 2 -2 0 -1 1 -2 0 -3 2 -2 0 -1 1 -2 0 -1 1 -2 0 -1 1 -2 0 -1 1 -2 0 -1 1 -3 0 -1 1 -2 0 -1 1 -3 0 -1 1 -3 0 -1 1 -3 0 -1 1 -3 0 -1 1 -3 0 -1 1 -4 0 -1 1 -4 0 -1 1 -5 0 -1 1 -5 0 -1 1 -7 0 -1 1 -8 0 -1 1 -12 0 -1 1zM441.5 613.0l12.5-1.5 14-3.9 14-5.3 13-6.7 9-5.9 11-8.3 18-17.3 9-7.7 3.8-4.4 9.3-18 6.8-17 4.5-16 3-14 2.7-21 0.2-27 -1-14 -2.9-13 -5.3-12 -5.9-9 -7.5-9 -13.6-13 -6.1-4.1 -11-4.4 -8-5.9 -7-3.3 -4-2.7 -12-2.5 -2.8-1.1 -2.1-2 -3.1-4.5 -6.2-4.5 -3.8-6.1 -4.1-4.9 -3.5-6 -6.1-6 -1.3-2.3 -1.2-5.7 0-7 0.9-3 4.2-8 0.4-5 -1-3 -2-3 -4.1-4 -4.2-3 -8-3.3 -10-1.8 -9 0 -19 2 -19-1.5 -21 3.5 -14 0.9 -19.9 5.2 -13.1 5.5 -7.7 4.5 -8.8 7 -8.4 9 -6.3 9 -5.5 10 -12.3 32 -5.8 37 -1 23 0.7 13 0.9 7 4.1 18 3.3 19 1.3 5 5.2 13 6.5 13 13.8 23.2 12.1 15.8 13 14 8.2 12 5.7 5.7 27 18.6 26 14.3 12 5.8 7 2.5 8 1.7 17 2.1 10.5 0.3z"/>
<path fill="#0064ff" d="M463.0 775.1l-35 0 -1-1 -13 0 -1-1 -8 0 -1-1 -6 0 -1-1 -6 0 -1-1 -4 0 -1-1 -4 0 -1-1 -4 0 -1-1 -4 0 -1-1 -3-0.1 -1-0.9 -3-0.1 -1-1 -3 0 -1-1 -2 0 -1-1 -3 0 -1-1 -2 0 -1-1 -2 0 -1-1 -2 0 -1-1 -2 0 -1-1 -2 0 -1-1 -2 0 -1-1 -2 0 -3-2 -2 0 -1-1 -2 0 -1-1 -1 0 -1-1 -1 0 -1-1 -2 0 -1-1 -1 0 -3-2 -2 0 -1-1 -1 0 -1-1 -1 0 -1-1 -1 0 -1-1 -1 0 -1-1 -1 0 -3-2 -1 0 -1-1 -1 0 -1-1 -1 0 -1-1 -1 0 -1-1 -1 0 -2-2 -1 0 -1-1 -1 0 -1-1 -1 0 -2-2 -1 0 -1-1 -1 0 -2-2 -1 0 -1-1 -1 0 -2-2 -1 0 -2-2 -1 0 -2-2 -1 0 -2-2 -1 0 -2-2 -1 0 -2-2 -1 0 -3-3 -1 0 -3-3 -1 0 -4-4 -1 0 -4-4 -1 0 -6-6 -1 0 -29-29 0-1 -6-6 0-1 -5-5 0-1 -1.9-2 -4.8-9 -15.8-36 -3.8-11 -3.3-13 -8-40 -4.6-39 -1.7-22 -0.9-37 0.1-40 2-42 3.6-26 2.6-10 9.8-26 15.8-32 2.9-7 3.6-11 1.5-3 1.9-2 0.1-1 3.9-4.1 9.3-6.9 3.7-3.3 4.4-5.7 4.6-9 9-9 1 0 8-8 1 0 5-5 1 0 4-4 1 0 3-3 1 0 3-3 1 0 3-3 1 0 2-2 1 0 3-3 1 0 2-2 1 0 1-1 1 0 2-2 1 0 2-2 1 0 1-1 1 0 2-2 1 0 1-1 1 0 2-2 1 0 1-1 1 0 1-1 1 0 2-2 1 0 1-1 1 0 1-1 1 0 1-1 1 0 1-1 1 0 1-1 1 0 1-1 1 0 1-1 1 0 1-1 1 0 1-1 1 0 1-1 2 0 3-2 1 0 1-1 2 0 3-2 1 0 1-1 2 0 1-1 2 0 3-2 2 0 1-1 2 0 1-1 2 0 1-1 2 0 1-1 2 0 1-1 2 0 1-1 2 0 1-1 2 0 1-1 3 0 1-1 3 0 1-1 3 0 1-1 3 0 1-1 3 0 1-1 4 0 1-1 4 0 1-1 4 0 1-1 5 0 1-1 6 0 1-1 7 0 1-1 10 0 1-1 48 0 1 1 10 0 1 1 7 0 1 1 6 0 1 1 5 0 1 0.9 5 0 1 1 4 0 1 1 4 0 1 1 3 0 1 1 3 0 1 1 3 0 1 1 3 0 1 1 2 0 1 1 3 0 1 1 2 0 1 1 2 0 1 1 2 0 1 1 2 0 1 1 2 0 1 1 2 0 3 2 2 0 1 1 2 0 3 2 2 0 1 1 1 0 1 1 1 0 1 1 2 0 1 1 1 0 1 1 1 0 1 1 1 0 1 1 1 0 3 2 2 0 1 1 1 0 1 1 1 0 2 2 1 0 1 1 1 0 3 2 1 0 1 1 1 0 1 1 1 0 2 2 1 0 1 1 1 0 2 2 1 0 1 1 1 0 2 2 1 0 1 1 1 0 2 2 1 0 2 2 1 0 2 2 1 0 3 3 1 0 2 2 1 0 3 3 1 0 3 3 1 0 3 3 1 0 5 5 1 0 6 6 1 0 29.1 29.1 0 1 6 6 0 1 4 4 0 1 4 4 0 1 3 3 0 1 3 3 0 1 2 2 0 1 2 2 0 1 2 2 0 1 2 2 0 1 2 2 0 1 2 2 0 1 1 1 0 1 2 2 0 1 1 1 0 1 2 2 0 1 2 3 0 1 2 2 0 1 1 1 0 1 2 3 0 1 1 1 0 1 1 1 0 1 1 1 0 1 1 1 0 1 1 1 0 1 1 1 0 1 1 1 0 1 1 1 0 2 1 1 0 1 1 1 0 1 1 1 0 2 2 3 0 1 1 1 0 2 1 1 0 2 2 3 0 2 1 1 0 2 1 1 0 2 1 1 0 2 1 1 0 2 1 1 0 2 1 1 0 2 1 1 0 3 1 1 0 2 1 1 0 3 1 1 0 3 1 1 0 3 1 1 0 4 1 1 0 4 1 1 0 4 1 1 0 4 1 1 0 6 1 1 0 6 1 1 0 8 1 1 0 13 1 1 0 35 -1 1 0 12 -1 1 0 8 -1 1 0 7 -1 1 0 5 -1 1 0 5 -1 1 0 4 -1 1 0 4 -1 1 0 3 -1 1 0 3 -1 1 0 3 -1 1 0 3 -1 1 -0.1 3 -1 1 0 2 -1 1 0 3 -1 1 0 2 -1 1 0 2 -1 1 0 2 -1 1 0 2 -1 1 0 2 -1.9 3 -0.1 2 -1 1 0 2 -1.9 3 -0.1 2 -0.9 1 -0.1 1 -0.9 1 0 1 -1 1 -0.1 2 -0.9 1 0 1 -1 1 0 1 -2 3 0 2 -1 1 0 1 -1 1 0 1 -1 1 0 1 -2 3 0 1 -1 1 0 1 -1 1 0 1 -2 2 0 1 -2 3 0 1 -1 1 0 1 -2 2 0 1 -1 1 -0.1 1 -2 2 0 1 -1 1 0 1 -2 2 0 1 -2 2 0 1 -1 1 0 1 -1.9 2 0 1 -3 3 0 1 -2 2 0 1 -3 3 0 1 -2 2 0 1 -4 4 0 1 -4 4 0 1 -4 4 0 1 -7 7 0 1 -23.1 23.1 -1 0 -7 7 -1 0 -4 4 -1 0 -4 4 -1 0 -4 4 -1 0 -2 2 -1 0 -3 3 -1 0 -2 2 -1 0 -3 3 -1 0 -2 2 -1 0 -1 1 -1 0 -2 2 -1 0 -2 2 -1 0 -1 1 -1 0 -2 2 -1 0 -1 1 -1 0 -2 2 -1 0 -3 2 -1 0 -1 1 -1 0 -2 2 -1 0 -3 2 -1 0 -1 1 -1 0 -3 2 -1 0 -1 1 -1 0 -1 1 -2 0 -1 1 -1 0 -1 1 -1 0 -3 2 -2 0 -1 1 -1 0 -3 2 -2 0 -3 2 -2 0 -1 1 -2 0 -3 2 -2 0 -1 1 -2 0 -1 1 -2 0 -1 1 -2 0 -1 1 -2 0 -1 1 -3 0 -1 1 -2 0 -1 1 -3 0 -1 1 -3 0 -1 1 -3 0 -1 1 -3 0 -1 1 -3 0 -1 1 -4 0 -1 1 -4 0 -1 1 -5 0 -1 1 -5 0 -1 1 -7 0 -1 1 -8 0 -1 1 -12 0 -1 1zM443.7 617.0l12.3-2 16-5 12-4.9 14-7.7 19-14.3 16-15.9 10-8.9 5-6.3 9.1-18 6.6-17 4.9-18 2.4-12 2.7-21 0-16 0.6-13 -0.9-13 -3.2-14 -5.7-13 -6.1-9 -7.4-9 -11.6-11 -7.4-4.8 -12-4.2 -8.4-6 -5.6-2.5 -5-2.9 -12-2.5 -2-0.8 -1.6-1.3 -3.6-5 -6-5 -3.8-6.3 -3.5-4.7 -3.5-6 -7-7.2 -1.1-1.8 -0.9-3.1 -0.2-3.9 0.8-2 7.3-9 1.8-3 0.8-4 -0.5-3 -2.5-3 -15.5-12.2 -4-1.9 -5-1.6 -9-1.4 -9 0.1 -19 2.4 -14-1.6 -5-0.1 -5 0.7 -19 4.1 -13 1.4 -20 4.8 -13 5.2 -7.2 4.1 -8.8 6.8 -8 8.5 -6.7 9.7 -6 11 -11.3 31.3 -6.5 36.7 -1.2 24 1.7 21 4.8 19 2.9 18 1.9 7 4.9 12 6.8 14 14.5 24 10.6 14 12.6 14 14 20.5 7 7.1 19 12.9 10 6.1 16.2 8.4 12.8 5.6 8 2.3 9 1.5 18 1.7 11.7-0.1zM489.0 290.0l-0.2-1 -2.8-1.8 -1 0 -1 0.8 -0.2 1 1.2 1.3 4-0.3z"/>
<path fill="#007cff" d="M463.0 775.1l-35-0.1 -1-1 -13 0 -1-1 -8 0 -1-1 -6 0 -1-1 -6 0 -1-1 -4 0 -1-1 -4 0 -1-1 -4 0 -1-1 -4 0 -1-1 -3 0 -1-1 -3 0 -1-1 -3 0 -1-1 -2 0 -1-1 -3 0 -1-1 -2 0 -1-1 -2 0 -1-1 -2 0 -1-1 -2 0 -1-1 -2 0 -1-1 -2 0 -1-1 -2 0 -3-2 -2 0 -1-1 -2 0 -1-1 -1 0 -1-1 -1 0 -1-1 -2 0 -1-1 -1 0 -3-2 -2 0 -1-1 -1 0 -1-1 -1 0 -1-1 -1 0 -1-1 -1 0 -1-1 -1 0 -3-2 -1 0 -1-1 -1 0 -1-1 -1 0 -1-1 -1 0 -1-1 -1 0 -2-2 -1 0 -1-1 -1 0 -1-1 -1 0 -2-2 -1 0 -1-1 -1 0 -2-2 -1 0 -1-1 -1 0 -2-2 -1 0 -2-2 -1 0 -2-2 -1 0 -2-2 -1 0 -2-2 -1 0 -2-2 -1 0 -3-3 -1 0 -3-3 -1 0 -4-4 -1 0 -4-4 -1 0 -7.8-12 -19.1-23 -17.7-28 -7.7-15 -10.6-24 -3.4-11 -3.3-14 -6.5-42 -1.6-15 -2.4-36 -2-42 0-30 1.9-42 3.2-30 2.4-9 10.8-28 8-17 8.2-16 5.2-12 3-5 3.8-4 9.2-7 4.4-4.1 4-4.9 8-11.3 4.2-4.7 26.8-22.3 7-4.8 17.9-10.9 17.1-11.4 6-3.2 14-6.4 7.2-4 25.1-19 0.7 0 1-1 2 0 1-1 3 0 1-1 3 0 1-1 3 0 1-1 3 0 1-1 3 0 1-1 4 0 1-1 4 0 1-1 4 0 1-1 5 0 1-1 6 0 1-1 7 0 1-1 10 0 1-1 48 0 1 1 10 0 1 1 7 0 1 1 6 0 1 1 5 0 1 1 5 0 1 1 4 0 1 1 4 0 1 1 3 0 1 1 3 0 1 1 3 0 1 1 3 0 1 1 2 0 1 1 3 0 1 1 2 0 1 1 2 0 1 1 2 0 1 1 2 0 1 0.9 2 0 1 1 2 0 3 2 2 0 1 1 2 0 3 2 2 0 1 1 1 0 1 1 1 0 1 1 2 0 1 1 1 0 1 1 1 0 1 1 1 0 1 1 1 0 3 2 2 0 1 1 1 0 1 1 1 0 2 2 1 0 1 1 1 0 3 2 1 0 1 1 1 0 1 1 1 0 2 2 1 0 1 1 1 0 2 2 1 0 1 1 1 0 2 2 1 0 1 1 1 0 2 2 1 0 2 2 1 0 2 2 1 0 3 3 1 0 2 2 1 0 3 3 1 0 3 3 1 0 3 3 1 0 5 5 1 0 6 6 1 0 29.1 29.1 0 1 6 6 0 1 4 4 0 1 4 4 0 1 3 3 0 1 3 3 0 1 2 2 0 1 2 2 0 1 2 2 0 1 2 2 0 1 2 2 0 1 2 2 0 1 1 1 0 1 2 2 0 1 1 1 0 1 2 2 0 1 2 3 0 1 2 2 0 1 1 1 0 1 2 3 0 1 1 1 0 1 1 1 0 1 1 1 0 1 1 1 0 1 1 1 0 1 1 1 0 1 1 1 0 1 1 1 0 2 1 1 0 1 1 1 0 1 1 1 0 2 2 3 0 1 1 1 0 2 1 1 0 2 2 3 0 2 1 1 0 2 1 1 0 2 1 1 0 2 1 1 0 2 1 1 0 2 1 1 0 2 1 1 0 3 1 1 0 2 1 1 0 3 1 1 0 3 1 1 0 3 1 1 0 4 1 1 0 4 1 1 0 4 1 1 0 4 1 1 0 6 1 1 0 6 1 1 0 8 0.9 1 0 13 1 1 0 35 -1 1 0 12 -1 1 0 8 -1 1 0 7 -1 1 0 5 -1 1 0 5 -1 1 0 4 -1 1 0 4 -1 1 0 3 -1 1 0 3 -1 1 0 3 -1 1 0 3 -1 1 0 3 -1 1 0 2 -1 1 0 3 -1 1 0 2 -1 1 0 2 -1 1 0 2 -1 1 0 2 -1 1 0 2 -2 3 0 2 -1 1 0 2 -2 3 0 2 -1 1 0 1 -1 1 0 1 -1 1 0 2 -1 1 0 1 -1 1 0 1 -2 3 0 2 -1 1 0 1 -1 1 0 1 -1 1 0 1 -2 3 0 1 -1 1 0 1 -1 1 0 1 -2 2 0 1 -2 3 0 1 -1 1 0 1 -2 2 0 1 -1 1 0 1 -2 2 0 1 -1 1 0 1 -2 2 0 1 -2 2 0 1 -1 1 0 1 -2 2 0 1 -3 3 0 1 -2 2 0 1 -2.9 3 0 1 -2 2 0 1 -4 4 0 1 -4.1 4 0 1 -4 4 0 1 -7 7 0 1 -23 23 -1 0 -7 7 -1 0 -4 4 -1 0.1 -4 4 -1 0 -4 4 -1 0 -2 2 -1 0 -3 3 -1 0 -2 2 -1 0 -3 3 -1 0 -2 2 -1 0 -1 1 -1 0 -2 2 -1 0 -2 2 -1 0 -1 1 -1 0 -2 2 -1 0 -1 1 -1 0 -2 2 -1 0 -3 2 -1 0 -1 1 -1 0 -2 2 -1 0 -3 2 -1 0 -1 1 -1 0 -3 2 -1 0 -1 1 -1 0 -1 1 -2 0 -1 1 -1 0 -1 1 -1 0 -3 2 -2 0 -1 1 -1 0 -3 2 -2 0 -3 2 -2 0 -1 1 -2 0 -3 2 -2 0 -1 1 -2 0 -1 1 -2 0 -1 1 -2 0 -1 1 -2 0 -1 1 -3 0 -1 1 -2 0 -1 1 -3 0 -1 1 -3 0 -1 1 -3 0 -1 1 -3 0 -1 1 -3 0 -1 1 -4 0 -1 1 -4 0 -1 1 -5 0 -1 1 -5 0 -1 1 -7 0 -1 1 -8 0 -1 1 -12 0 -1 1zM442.0 621.0l13-2 15-4.7 14-5.8 15-8.4 19-14.7 16.2-16.4 8.8-8.2 4-4.6 2.9-4.2 9.1-17.9 6.1-16.1 5.3-20 2.2-11 2.7-21 1.1-30 -0.7-12 -3.5-16 -4.8-12 -5.6-9 -7-9 -10.6-10 -9.2-6.2 -14-4.4 -9-5.8 -10-4.7 -13-3.3 -2-1.6 -4-5.3 -5.2-4.7 -9.3-16 -5.8-8 -1.7-4 0.2-3 2-4 1.8-2.2 5.6-4.8 1.3-2 0.9-4 -0.6-3 -1.8-3 -1.9-2 -8.5-5.8 -11-8.6 -9-3.6 -5-1.3 -5-0.5 -10 0.2 -18 2.6 -18-1.8 -7 1.1 -20 5 -18 2.5 -14 3.3 -13.5 4.9 -7.4 4 -9.1 6.9 -7.6 8.1 -6.8 10 -6.2 12 -6.8 19 -3.4 11 -4.7 21 -2.7 15 -1.5 26 1.5 21 1.4 6 4.3 14 2.9 19 1.6 6 4.3 11 7.1 15 13.6 22.9 10 14.1 14 16.5 9 14.5 6.6 13 2.4 3.2 3 3 11 7.6 10 8.1 5 3.4 8 3.7 14.4 5 12.6 3.8 10 1.8 21 1.5 13-0.1zM490.6 291.0l0.6-1 -0.6-1 -3.6-2.5 -1-0.4 -2 0.2 -1.6 1.7 0.3 2 1.3 1 4 0.5 2.6-0.5z"/>
<path fill="#0095ff" d="M463.0 775.0l-35 0 -1-1 -13 0 -1-1 -8 0 -1-1 -6 0 -1-1 -6 0 -1-1 -4 0 -1-1 -4 0 -1-1 -4 0 -1-1 -4 0 -1-1 -3 0 -1-1 -3 0 -1-1 -3 0 -1-1 -2 0 -1-1 -3 0 -1-1 -2 0 -1-1 -2 0 -1-1 -2 0 -1-1 -2 0 -1-1 -2 0 -1-1 -2 0 -1-1 -2 0 -3-2 -2 0 -1-1 -2 0 -1-1 -1 0 -1-1 -1 0 -1-1 -2 0 -1-1 -1 0 -3-2 -2 0 -1-1 -1 0 -1-1 -1 0 -1-1 -1 0 -1-1 -1 0 -1-1 -1 0 -3-2 -1 0 -1-1 -1 0 -1-1 -1 0 -1-1 -1 0 -1-1 -1 0 -2-2 -1 0 -1-1 -1 0 -1-1 -1 0 -2-2 -0.7 0 -5.3-6.8 -6-6.2 -5-4 -11-7.1 -6-5.8 -10-13.1 -20.9-25 -20.9-34 -12.2-27 -5-16 -2.8-14 -2.4-21 -3.6-20 -1.3-12 -1-25 -3.7-62 -0.3-14 1.3-35 4.2-38 2.7-12 6.1-16 9.3-27 3.8-8 7.2-12 6.5-12.3 3.7-4.7 12.3-11.3 11.9-14.7 5.1-5.4 20-17 11-8 37-22.1 8-3.6 15-5.3 5.5-2.6 19.5-14 24.1-12 23.9-16 3 0 1-1 7 0 1-1 10 0 1-1 48 0 1 1 10 0 1 1 7 0 1 1 6 0 1 1 5 0 1 1 5 0 1 1 4 0 1 1 4 0 1 1 3 0 1 1 3 0 1 1 3 0 1 1 3 0 1 1 2 0 1 1 3 0 1 1 2 0 1 1 2 0 1 1 2 0 1 1 2 0 1 1 2 0 1 1 2 0 3 2 2 0 1 1 2 0 3 2 2 0 1 1 1 0 1 1 1 0 1 1 2 0 1 1 1 0 1 1 1 0 1 1 1 0 1 1 1 0 3 1.9 2 0 1 1 1 0 1 1 1 0 2 2 1 0 1 1 1 0 3 2 1 0 1 1 1 0 1 1 1 0 2 2 1 0 1 1 1 0 2 2 1 0 1 1 1 0 2 2 1 0 1 1 1 0 2 2 1 0 2 2 1 0 2 2 1 0 3 3 1 0 2 2 1 0 3 3 1 0 3 3 1 0 3 3 1 0 5 5 1 0 6 6 1 0 29.1 29.1 0 1 6 6 0 1 4 4 0 1 4 4 0 1 3 3 0 1 3 3 0 1 2 2 0 1 2 2 0 1 2 2 0 1 2 2 0 1 2 2 0 1 2 2 0 1 1 1 0 1 2 2 0 1 1 1 0 1 2 2 0 1 2 3 0 1 2 2 0 1 1 1 0 1 2 3 0 1 1 1 0 1 1 1 0 1 1 1 0 1 1 1 0 1 1 1 0 1 1 1 0 1 1 1 0 1 1 1 0 2 1 1 0 1 1 1 0 1 1 1 0 2 2 3 0 1 1 1 0 2 1 1 0 2 2 3 0 2 1 1 0 2 1 1 0 2 1 1 0 2 1 1 0 2 1 1 0 2 1 1 0 2 1 1 0 3 1 1 0 2 1 1 0 3 1 1 0 3 0.9 1 0 3 1 1 0 4 1 1 0 4 1 1 0 4 1 1 0 4 1 1 0 6 1 1 0 6 1 1 0 8 1 1 0 13 1 1 0 35 -1 1 0 12 -1 1 0 8 -1 1 0 7 -1 1 0 5 -1 1 0 5 -1 1 0 4 -1 1 0 4 -1 1 0 3 -1 1 0 3 -1 1 0 3 -1 1 0 3 -1 1 0 3 -1 1 0 2 -1 1 0 3 -1 1 0 2 -1 1 0 2 -1 1 0 2 -1 1 0 2 -1 1 0 2 -2 3 0 2 -1 1 0 2 -2 3 0 2 -1 1 0 1 -1 1 0 1 -1 1 0 2 -1 1 0 1 -1 1 0 1 -2 3 0 2 -1 1 0 1 -1 1 0 1 -1 1 0 1 -2 3 0 1 -1 1 0 1 -1 1 0 1 -2 2 0 1 -2 3 0 1 -1 1 0 1 -2 2 0 1 -1 1 0 1 -2 2 0 1 -1 1 0 1 -2 2 0 1 -2 2 0 1 -1 1 0 1 -2 2 0 1 -3 3 0 1 -2 2 0 1 -3 3 0 1 -2 2 0 1 -4 4 0 1 -4 4 0 1 -4 4 0 1 -7 7 0 1 -23 23 -1 0 -7 7 -1 0 -4 4 -1 0 -4 4 -1 0 -4 4 -1 0 -2 2 -1 0 -3 3 -1 0 -2 2 -1 0 -3 3 -1 0 -2 2 -1 0 -1 1 -1 0 -2 2 -1 0 -2 2 -1 0 -1 1 -1 0 -2 2 -1 0 -1 1 -1 0 -2 2 -1 0 -3 2 -1 0 -1 1 -1 0 -2 2 -1 0 -3 2 -1 0 -1 1 -1 0 -3 2 -1 0 -1 1 -1 0 -1 1 -2 0 -1 1 -1 0 -1 1 -1 0 -3 2 -2 0 -1 1 -1 0 -3 2 -2 0 -3 2 -2 0 -1 1 -2 0 -3 2 -2 0 -1 1 -2 0 -1 1 -2 0 -1 1 -2 0 -1 1 -2 0 -1 1 -3 0 -1 1 -2 0 -1 1 -3 0 -1 1 -3 0 -1 1 -3 0 -1 1 -3 0 -1 1 -3 0 -1 1 -4 0 -1 1 -4 0 -1 1 -5 0 -1 1 -5 0 -1 1 -7 0 -1 1 -8 0 -1 1 -12 0 -1 1zM436.9 625.0l15.1-1.8 13-3.8 19-7.8 16-9.3 20-16 23-23.1 5-5.9 3.6-5.3 8.7-17 6.5-17 5.7-22 1.9-11 2.1-16 1.6-19 0.4-18 -0.5-8 -2-12 -3-10.6 -4.5-10.4 -6.4-10 -7-8 -8.2-7 -5.7-4 -4.2-2.3 -15-3.7 -10.4-6 -9.2-4 -11.7-4 -1.7-1.2 -3.8-4.8 -5.1-5 -12.7-23 -0.9-4 0.5-4 1-2 1.7-2 9.3-7.4 2.9 2.4 3.1 1.1 6.1-0.1 1.7-1 -0.1-1 -2.7-2.8 -4-2.1 -3 0.1 -3 1.7 -1-0.2 -2-4.7 -5.1-6 -11.3-8 -8.2-7 -3.4-2 -9-3.5 -5-1.2 -5-0.6 -10 0.3 -18 2.9 -5-0.3 -9-1.6 -4 0 -15 3.2 -15 4.3 -15 1.7 -7 1.3 -20 5.8 -9 4.3 -9 6.4 -8 8.2 -6.6 9.8 -5.4 10.3 -3.5 8.7 -5.7 18 -3.9 17 -3.9 12 -2.3 13 -0.8 8 -0.8 19 1.1 18 1.4 8 5.8 17 2.4 18 2.1 8 5.4 13 8.4 17 15.9 26 6.4 8.7 9.3 11.3 4.7 7 5.4 10 4.6 13.4 2.4 5.6 3.6 5.3 5 5.1 20 15.6 5.3 3 5.7 2.1 10 2.1 25 3.9 18 1 15.9-0.1z"/>
<path fill="#00adff" d="M463.0 775.0l-35 0 -1-1 -13 0 -1-1 -8 0 -1-1 -6 0 -1-1 -6 0 -1-1 -4 0 -1-1 -4 0 -1-1 -4 0 -1-1 -4 0 -1-1 -3 0 -1-1 -3 0 -1-1 -3 0 -1-1 -2 0 -1-1 -3 0 -1-1 -2 0 -1-1 -2 0 -1-1 -2 0 -1-1 -2 0 -1-1 -2 0 -1-1 -2 0 -1-1 -2 0 -3-2 -2 0 -1-1 -2 0 -1-1 -1 0 -3-2 -1 0 -7-4.3 -12-5.1 -4-2.4 -4-3.5 -10.1-11.7 -10.9-11 -5-3.9 -11-7.1 -7.1-7 -24-29 -8.3-12 -16.7-30 -7.9-19 -4.2-12 -3.6-17 -2.9-26 -3.9-17 -1-7 -1.4-35 -4.8-68 0-17 0.9-20 1.4-12 3.4-20 3.7-15 9.7-25 5.2-22 2.5-5.8 3.3-5.2 7.9-10 9.2-13 15.6-18.3 18.1-17.7 12.9-11 9-6.2 32-19.2 10-4.8 16-4.5 5-2.2 5-3.6 10.9-10.5 6.1-4.6 6-3.2 16-6.6 19-10.9 12-5.2 31.5-11.5 29.5 0 1 1 10 0 1 1 7 0 1 1 6 0 1 1 5 0 1 1 5 0 1 1 4 0 1 1 4 0 1 1 3 0 1 1 3 0 1 1 3 0 1 1 3 0 1 1 2 0 1 1 3 0 1 1 2 0 1 1 2 0 1 1 2 0 1 1 2 0 1 1 2 0 1 1 2 0 3 2 2 0 1 1 2 0 3 2 2 0 1 1 1 0 1 1 1 0 1 1 2 0 1 1 1 0 1 1 1 0 1 1 1 0 1 1 1 0 3 2 2 0 1 1 1 0 1 1 1 0 2 2 1 0 1 1 1 0 3 2 1 0 1 1 1 0 1 1 1 0 2 2 1 0 1 1 1 0 2 2 1 0 1 1 1 0 2 2 1 0 1 1 1 0 2 2 1 0 2 2 1 0 2 2 1 0 3 3 1 0 2 1.9 1 0 3 3 1 0 3 3 1 0.1 3 3 1 0 5 4.9 1 0 6 6 1 0 29.1 29.1 0 1 6 6 0 1 4 4 0 1 4 4 0 1 2.9 3 0.1 1 3 3 0 1 2 2 0 1 2 2 0 1 2 2 0 1 2 2 0 1 2 2 0 1 2 2 0 1 1 1 0 1 2 2 0 1 1 1 0 1 2 2 0 1 2 3 0 1 2 2 0 1 1 1 0 1 2 3 0 1 1 1 0 1 1 1 0 1 1 1 0 1 1 1 0 1 1 1 0 1 0.9 1 0.1 1 0.9 1 0.1 1 0.9 1 0.1 2 0.9 1 0 1 1 1 0 1 1 1 0 2 2 3 0 1 1 1 0 2 1 1 0 2 2 3 0 2 1 1 0 2 1 1 0 2 1 1 0 2 1 1 0 2 1 1 0 2 1 1 0 2 1 1 0 3 1 1 0 2 1 1 0 3 1 1 0 3 1 1 0 3 1 1 0 4 1 1 0 4 1 1 0 4 1 1 0 4 1 1 0 6 1 1 0 6 1 1 0 8 1 1 0 13 1 1 0 35 -1 1 0 12 -1 1 0 8 -1 1 0 7 -1 1 0 5 -1 1 0 5 -1 1 0 4 -1 1 0 4 -1 1 0 3 -1 1 0 3 -1 1 0 3 -1 1 0 3 -1 1 0 3 -1 1 0 2 -1 1 0 3 -1 1 0 2 -1 1 0 2 -1 1 0 2 -1 1 0 2 -1 1 0 2 -2 3 0 2 -1 1 0 2 -2 3 0 2 -1 1 0 1 -1 1 0 1 -1 1 0 2 -1 1 0 1 -1 1 0 1 -2 3 0 2 -1 1 0 1 -1 1 0 1 -1 1 0 1 -2 3 0 1 -1 1 0 1 -1 1 0 1 -2 2 0 1 -2 3 0 1 -1 1 0 1 -2 2 0 1 -1 1 0 1 -2 2 0 1 -1 1 0 1 -2 2 0 1 -2 2 0 1 -1 1 0 1 -2 2 0 1 -3 3 0 1 -2 2 0 1 -3 3 0 1 -2 2 0 1 -4 4 0 1 -4 4 0 1 -4 4 0 1 -7 7 0 1 -23 23 -1 0 -7 7 -1 0 -4 4 -1 0 -4 4 -1 0 -4 4 -1 0 -2 2 -1 0 -3 3 -1 0 -2 2 -1 0 -3 3 -1 0 -2 2 -1 0 -1 1 -1 0 -2 2 -1 0 -2 2 -1 0 -1 1 -1 0 -2 2 -1 0 -1 1 -1 0 -2 2 -1 0 -3 2 -1 0 -1 1 -1 0 -2 2 -1 0 -3 2 -1 0 -1 1 -1 0 -3 2 -1 0 -1 1 -1 0 -1 1 -2 0 -1 1 -1 0 -1 1 -1 0 -3 2 -2 0 -1 1 -1 0 -3 2 -2 0 -3 2 -2 0 -1 1 -2 0 -3 2 -2 0 -1 1 -2 0 -1 1 -2 0 -1 1 -2 0 -1 1 -2 0 -1 1 -3 0 -1 1 -2 0 -1 1 -3 0 -1 1 -3 0 -1 1 -3 0 -1 1 -3 0 -1 1 -3 0 -1 1 -4 0 -1 1 -4 0 -1 1 -5 0 -1 1 -5 0 -1 1 -7 0 -1 1 -8 0 -1 1 -12 0 -1 1zM430.3 629.0l16.7-1.7 11-2.3 20-7.9 12-6.1 13-8.3 17-14 11.2-10.7 5.8-6.6 6.5-6.4 8.5-11 9.4-18 6.3-16 5.8-22 2-10 2.4-18 2-20 0.8-18 -0.5-9 -1.4-11 -1.2-6 -2.1-7 -4.5-10.7 -5.6-9.3 -6-7 -8.3-7 -7.1-4.9 -3.9-2.1 -3.4-1 -9.7-1.4 -4-1.1 -11-5.5 -9-3.9 -3.9-1.1 -9.1-6.8 -7-7.2 -2.1-3 -3.7-7 -5.2-11 -1.1-4 0.2-4 1.2-3 1.4-2 2-2 2.3-1.6 2-0.4 5 0.7 7-0.1 2-0.6 0.4-1 -0.4-1 -2-2.3 -3-2.3 -2-1.1 -4.4-1.3 -1.5-1 -9.1-8.4 -8.2-5.6 -9-8 -4.8-2.9 -10-4 -10-1.7 -10 0.3 -18 3.1 -4-0.2 -9-1.7 -4-0.1 -21 4.6 -11 3.9 -18 1.8 -25 6.3 -9.7 4.6 -8.6 6 -7.7 7.9 -6.1 9.1 -5.2 10 -3.6 9 -6.3 21 -3 15 -4.5 10 -1.5 5 -1.7 10 -1 12 -0.6 17 0.5 12 0.9 8 1.3 6 6.8 17.5 2.3 18.5 1.4 6 5.7 14 8.7 18 14.9 25.1 15.4 21.9 6.5 11 3.1 8 3.6 16 3.4 11.8 1.8 4.2 2.2 2.8 3.5 2.2 12.5 4.7 15 9.3 8.7 3 10.3 1.4 21 1.5 17 0.5 13.3-0.4z"/>
<path fill="#00c6ff" d="M463.0 775.0l-35 0 -1-1 -13 0 -1-1 -8 0 -1-1 -6 0 -1-1 -6 0 -1-1 -4 0 -1-1 -4 0 -1-1 -4 0 -1-1 -4 0 -1-1 -3 0 -1-1 -1.3 0 -14.7-6.2 -24-12.4 -13-7.3 -13-5.7 -5-3.1 -24.2-23.3 -3.8-3 -10-6.5 -5-4.2 -25.2-30.3 -9.1-14 -14.3-28 -7.9-21 -4.3-16 -1.7-12 -1.8-25 -4.1-17 -1-6 -1.4-27 -4.5-38 -3.1-40 0.5-29 2.1-18 5.2-23 3.4-10 7.8-17 3.2-8 2.3-8 2.3-13 2.4-6 3.5-5 8.7-10 14-17.5 5-4.9 13-10.9 15.1-15.7 6.5-6 12.9-9 16.5-10.2 9-5 8-3.2 14-2.9 5-2.2 6-5.4 12-14.6 6-5.3 6-3.4 15-5.9 14-8.7 9-4.4 25-8.5 16-3.7 19-2.3 24-1.9 15-0.4 1 1 5 0 1 1 4 0 1 1 4 0 1 1 3 0 1 1 3 0 1 1 3 0 1 1 3 0 1 1 2 0 1 1 3 0 1 1 2 0 1 1 2 0 1 1 2 0 1 1 2 0 1 1 2 0 1 1 2 0 3 2 2 0 1 1 2 0 3 2 2 0 1 1 1 0 1 1 1 0 1 1 2 0 1 1 1 0 1 1 1 0 1 1 1 0 1 1 1 0 3 2 2 0 1 1 1 0 1 1 1 0 2 2 1 0 1 1 1 0 3 2 1 0 1 1 1 0 1 1 1 0 2 2 1 0 1 1 1 0 2 2 1 0 1 1 1 0 2 2 1 0 1 1 1 0 2 2 1 0 2 2 1 0 2 2 1 0 3 3 1 0 2 2 1 0 3 3 1 0 3 3 1 0 3 3 1 0 5 5 1 0 6 5.9 1 0 29 29.1 0 1 6 6 0 1 4 4 0 1 4 4 0 1 3 3 0 1 3 3 0 1 2 2 0 1 2 2 0 1 2.1 2 0 1 2 2 0 1 2 2 0 1 2 2 0 1 1 1 0 1 2 2 0 1 1 1 0 1 1.9 2 0 1 2 3 0 1 2 2 0 1 1 1 0 1 2 3 0 1 1 1 0 1 1 1 0 1 1 1 0 1 1 1 0 1 1 1 0 1 1 1 0 1 1 1 0 1 1 1 0 2 1 1 0 1 1 1 0 1 1 1 0 2 2 3 0 1 1 1 0 2 1 1 0 2 2 3 0 2 1 1 0 2 1 1 0 2 1 1 0 2 1 1 0 2 1 1 0 2 1 1 0 2 1 1 0 3 1 1 0 2 1 1 0 3 1 1 0 3 1 1 0 3 1 1 0 4 1 1 0 4 1 1 0 4 1 1 0 4 1 1 0 6 1 1 0 6 1 1 0 8 1 1 0 13 1 1 0 35 -1 1 0 12 -1 1 0 8 -1 1 0 7 -1 1 0 5 -1 1 0 5 -1 1 0 4 -1 1 0 4 -1 1 0 3 -1 1 0 3 -1 1 0 3 -1 1 0 3 -1 1 0 3 -1 1 0 2 -1 1 0 2.3 -1 1.7 -0.1 2 -0.9 1 0 2 -1 1 0 2 -1 1 0 2 -1 1 0 2 -2 3 0 2 -1 1 0 2 -2 3 0 2 -1 1 0 1 -1 1 0 1 -1 1 0 2 -1 1 0 1 -1 1 0 1 -2 3 0 2 -1 1 0 1 -1 1 0 1 -1 1 0 1 -2 3 0 1 -1 1 0 1 -1 1 0 1 -2 2 0 1 -2 3 0 1 -1 1 0 1 -2 2 0 1 -1 1 0 1 -6.8 8 -1.5 3 -0.7 3 -1 1 0 1 -3 3 0 1 -2 2 0 1 -3 3 0 1 -2 2 0 1 -4 4 0 1 -4 4 0 1 -4 4 0 1 -7 7 0 1 -23 23 -1 0 -7 7 -1 0 -4 4 -1 0 -4 4 -1 0 -4 4 -1 0 -2 2 -1 0 -3 3 -1 0 -2 2 -1 0 -3 3 -1 0 -2 2 -1 0 -1 1 -1 0 -2 2 -1 0 -2 2 -1 0 -1 1 -1 0 -2 2 -1 0 -1 1 -1 0 -2 2 -1 0 -3 2 -1 0 -1 1 -1 0 -2 2 -1 0 -3 2 -1 0 -1 1 -1 0 -3 2 -1 0 -1 1 -1 0 -1 1 -2 0 -1 1 -1 0 -1 1 -1 0 -3 2 -2 0 -1 1 -1 0 -3 2 -2 0 -3 2 -2 0 -1 1 -2 0 -3 2 -2 0 -1 1 -2 0 -1 1 -2 0 -1 1 -2 0 -1 1 -2 0 -1 1 -3 0 -1 1 -2 0 -1 1 -3 0 -1 1 -3 0 -1 1 -3 0 -1 1 -3 0 -1 1 -3 0 -1 1 -4 0 -1 1 -4 0 -1 1 -5 0 -1 1 -5 0 -1 1 -7 0 -1 1 -8 0 -1 1 -12 0 -1 1zM425.5 633.0l23.5-3 8-1.6 14-5.4 17-8.2 16-10.7 16.9-14.1 12.9-12 3.9-5 7.3-7.4 5-6.4 5.3-8.2 6.7-13 3.9-9 4.6-13 5.2-21 3.8-25 2.9-32 0.3-7 -0.5-14 -2.3-14 -4.9-14.4 -6-10.9 -3.6-4.7 -4.4-4.6 -7-5.7 -11-6.6 -19-2.9 -23.5-10.2 -0.9-1 -0.2-3 -0.4-0.7 -5-2.3 -2.9-2 -4.2-4 -3.9-4.8 -3.3-6.2 -4.6-12 -0.8-5 0.3-4 1.8-3 2.6-1.7 12 0.1 4-0.6 0.9-0.8 -0.1-1 -3.8-4.6 -11-7.3 -8-7.1 -7.1-5 -9.9-9.1 -3.4-1.9 -10.6-4.6 -6-1.4 -10-0.8 -8 0.5 -13 2.7 -4 0.4 -4-0.3 -8-1.6 -4-0.1 -24 5.1 -10 4.4 -14 0.4 -29 6.6 -8 3.4 -7 4.1 -6 4.9 -5 5.3 -6.6 10 -6.1 13 -3.1 9 -5.6 20 -2.3 14 -1.3 2.6 -4 5.3 -2 5.5 -1.6 9.6 -1.5 19 0.2 26 1.3 9 1.9 7 2 5 3.7 6.4 1.4 3.6 2.2 20 2 7 5.1 12 8.1 17 15.9 28 11.8 19 5.7 11 2 5 1.4 6 1.8 17 1.1 7 1.8 5 3.4 5 3.3 3.4 3 1.9 15 4.8 15.6 8.9 8.4 3 9 1.4 15 0.9 24 0.2 11.5-0.5z"/>
<path fill="#00dfff" d="M463.0 775.0l-32.8 0 -30.2-7.2 -20-5.3 -24-8.1 -27-12.1 -15-8.2 -13-5.8 -7-4.8 -21-19.5 -13-9 -5-4.2 -4.3-4.8 -19.2-24 -4.7-7 -5.1-9 -11.2-24 -6-17 -4.7-19 -1.2-8 -0.5-9 0.6-31 -2.6-25 -2.1-11 -5.9-19 -2.3-9 -1.8-10 -1.4-12 -3-34 0-14 0.6-16 2.4-17 5.4-21 3.5-9 8.5-16.9 5-11.1 3-8 3.5-12 2.9-6 6.7-9 8.9-9.1 7-5.4 12.3-7.5 5.7-4.8 11-12.1 10.2-13.1 6.4-6 12.4-8.4 10-5.5 9-3.6 15-4.5 6-3 5.5-5 11.8-17 3.7-4.3 4-3.7 6-3.8 14-5.7 15-9.8 9-4.4 25-8.1 9-2.1 9-1.4 13-1.2 25-1.5 26 0.8 34 3.8 4 0.5 1 0.9 2 0 1 1 2 0 1 1 2 0 3 2 2 0 1 1 2 0 3 2 2 0 1 1 1 0 1 1 1 0 1 1 2 0 1 1 1 0 1 1 1 0 1 1 1 0 1 1 1 0 3 2 2 0 1 1 1 0 1 1 1 0 2 2 1 0 1 1 1 0 3 2 1 0 1 1 1 0 1 1 1 0 2 2 1 0 1 1 1 0 2 2 1 0 1 1 1 0 2 2 1 0 1 1 1 0 2 2 1 0 2 2 1 0 2 2 1 0 3 3 1 0 2 2 1 0 3 3 1 0 3 3 1 0 3 3 1 0 5 5 1 0 6 6 1 0 29 29 0 1 6 6 0 1 4 4 0 1 4 4 0 1 3 3 0 1 3 3 0 1 2 2 0 1 2 2 0 1 2 2 0 1 2 2 0 1 2 2 0 1 2 2 0 1 1 1 0 1 2 2 0 1 1 1 0 1 2 2 0 1 2 3 0 1 2 2 0 1 1 1 0 1 2 3 0 1 1 1 0 1 1 1 0 1 1 1 0 1 1 1 0 1 1 1 0 1 1 1 0 1 1 1 0 1 1 1 0 2 1 1 0 1 1 1 0 1 1 1 0 2 2 3 0 1 1 1 0 2 1 1 0 2 2 3 0 2 1 1 0 2 1 1 0 2 1 1 0 2 1 1 0 2 1 1 0 2 1 1 0 2 1 1 0 3 1 1 0 2 1 1 0 3 1 1 0 3 1 1 0 3 1 1 0 4 1 1 0 4 1 1 0 4 1 1 0 4 1 1 0 6 1 1 0 6 1 1 0 8 1 1 0 4 -5.6 20 -4.1 22 -6.6 30 -1.1 8 0 13 -0.6 5 -1.4 5 -5.1 13 -2.4 14 -1.7 7 -6.1 17 -10.6 24 -5.1 9 -8.7 12 -2.9 5 -1 3 -0.5 4 0.5 4 1.3 5 -0.3 1 -1 1 0 1 -2 2 0 1 -4 4 0 1 -3 2.5 -4-0.1 -3 0.8 -2 1 -3 2.6 -16 20.6 -14.8 15.6 -2.2 3.3 -2 4.7 -1 1 -1 0 -4 4 -1 0 -4 4 -1 0 -2 2 -1 0 -3 3 -1 0 -2 2 -1 0 -3 3 -1 0 -2 2 -1 0 -1 1 -1 0 -2 2 -1 0 -2 2 -1 0 -1 1 -1 0 -2 2 -1 0 -1 1 -1 0 -2 2 -1 0 -3 2 -1 0 -1 1 -1 0 -2 2 -1 0 -3 2 -1 0 -1 1 -1 0 -3 2 -1 0 -1 1 -1 0 -1 1 -2 0 -1 1 -1 0 -1 1 -1 0 -3 2 -2 0 -1 1 -1 0 -3 2 -2 0 -3 2 -2 0 -1 1 -2 0 -3 2 -2 0 -1 1 -2 0 -1 1 -2 0 -1 1 -2 0 -1 1 -2 0 -1 1 -3 0 -1 1 -2 0 -1 1 -3 0 -1 1 -3 0 -1 1 -3 0 -1 1 -3 0 -1 1 -3 0 -1 1 -4 0 -1 1 -4 0 -1 1 -5 0 -1 1 -5 0 -1 1 -7 0 -1 1 -8 0 -1 1 -12 0 -1 1zM421.6 637.0l31.4-4.8 5-1.2 14-5.9 16-8 17-11.6 17-14.5 13.4-12 3.6-5 6-6.2 4-4.9 6.7-9.9 7.8-15 5.9-14 3.6-12 4.8-20 3-21 3.7-36 0.3-16 -2-18 -4.8-14.3 -2.7-5.7 -3.6-6 -3.7-4.8 -5-5.2 -4.9-4 -13.4-7 -2.7-0.6 -10-0.5 -6-0.9 -4-1.2 -14-5.8 -4.3-3 -2.1-5 -5.6-2.9 -2.9-2.1 -4.9-5 -4.1-5 -1.5-3 -2.1-7 -4.2-11 -0.4-2 0.3-2 1.5-2 2.3-1 13-0.1 4.3-0.9 0.3-1 -0.4-1 -3.2-4 -3-2.9 -7.1-5.1 -15.6-13 -7-7 -4.3-3.2 -16-7 -5-0.9 -10-0.8 -9 0.5 -16 3.2 -4-0.2 -8-1.6 -4 0 -12 2.8 -15 2.1 -4 1.2 -4 3 -7-0.4 -5 0.5 -15 3.7 -10 1.2 -6 1.3 -12 4.9 -8.8 5.7 -6.1 6 -5.1 7 -4.8 9 -4 10 -8.8 31 -1.6 10 -0.8 1.9 -2.8 2.1 -1.2 1.7 -3.1 8.3 -1.8 12 -1.2 21 0 21 1.2 11 1.6 7 2.3 6.9 2 3.9 3 3.9 1 2.3 2.7 23 6.8 16 8 17 20.4 38 4.6 10 2.5 9 1.3 16 2.3 14 1.7 6 2.9 5 7.1 7 7.7 5.7 4 1.9 12 4.2 15.5 8.2 7.5 2.9 8 1.4 17 1.2 33.6-0.5z"/>
<path fill="#00f7ff" d="M485.0 769.1l-17 0.7 -8-0.2 -18-2.8 -29-3.5 -26-4.8 -30-8.9 -26-11.3 -14-7.7 -12.1-5.6 -5.4-3 -7.5-5.8 -15.7-14.2 -15.3-11 -6.8-7 -17.9-23 -6.8-11 -5.5-11 -5.2-12 -4-11 -3.1-11 -2.6-12 -1.6-11 -0.4-9 0.6-8 1.6-8 2.7-9 3-7 6.1-11 1-3 0.1-3 -0.7-3 -2-4 -10.5-15.3 -10-16.6 -3.5-7.1 -2.7-7 -2.6-11 -2.3-17 -2.1-20 -0.5-16 0.5-16 1-11 2.4-13 3.3-12 5.4-13 19.3-36 7.2-17 4.5-6 5.7-5 6.4-3.9 16-8 7-5.3 7-8.5 5-7.5 6.2-10.8 5.1-6 4.7-3.7 6-3.6 32-15.4 7-4 3.9-3.3 2.7-3 10.3-16 3.1-4 4-4 6-4.1 15-6.9 12-8.8 7-4 7-2.9 12-3.9 11-3.1 9-2 16-1.9 33-1.8 21 1.1 32 4.1 28 5.5 14 3.9 1 0.8 1 0 1 1 1 0 1 1 2 0 1 1 1 0 1 1 1 0 2 2 1 0 1 1 1 0 3 2 1 0 1 1 1 0 1 1 1 0 2 2 1 0 1 1 1 0 2 2 1 0 1 1 1 0 2 2 1 0 1 1 1 0 2 2 1 0 2 2 1 0 2 2 1 0 3 3 1 0 2 2 1 0 3 3 1 0 3 3 1 0 3 3 1 0 5 5 1 0 6 6 1 0 29 29 0 1 6 6 0 1 4 4 0 1 4 4 0 1 3 3 0 1 3 3 0 1 2 2 0 1 2 2 0 1 2 2 0 1 2 2 0 1 2 2 0 1 2 2 0 1 1 1 0 1 2 2 0 1 1 1 0 1 2 2 0 1 2 3 0 1 2 2 0 1 1 1 0 1 2 3 0 1 1 1 0 1 1 1 0 1 1 1 0 1 1 1 0 1 1 1 0 1 1 1 0 1 1 1 0 1 1 1 0 2 1 1 0 1 1 1 0 1 1 1 0 2 2 3 0 1 1 1 0 2 1 1 0 2 2 3 0 2 1 1 0 2 1 1 0 2 1 1 0 2 1 1 0 2 1 1 0 2 1 1 0 2 1 1 0 3 1 1 0 2 1 1 0 3 1 1 0 3 1 1 0.1 4 -0.7 7 1.3 13 -0.6 6 -4 17 -2.3 22 -2.2 15 -8.5 42 -1.9 21 -1.2 5 -4.8 14 -2 15 -1.5 7 -5.3 15 -10.8 25 -5 9 -11.2 16 -2.3 5 -2.9 9 -1.2 2.2 -9 8.6 -10.7 15.2 -8.3 9.8 -6 6 -10.9 9.2 -4 4 -9.1 13.4 -4 3 -12 5.7 -4 3.1 -8 7.4 -5 3.6 -5 2.6 -14.9 6.2 -20.1 11.6 -28 12.1 -9 2.7 -13 3.1 -23 4.4 -10 1.2zM399.0 641.0l22-0.5 24-4.8 11-1.5 6-2 21-10.2 8-4.5 16-11.6 23-20.4 7.1-5.5 3.2-5 8.7-9.8 7.6-11.2 7.9-15 7.1-17 2.6-9 5.3-22 2.9-21 3.9-35 0.7-18 -1.5-17 -5.4-17 -4.1-7.7 -3.6-5.3 -5.8-6 -5.6-4.8 -15-6.9 -3-0.7 -10-0.1 -7-1.1 -15-5.2 -3.3-2.2 -1.7-2 -2.8-5 -6.1-4 -10.4-11 -1.1-2 -1.8-7 -2.8-7 -3.2-4 -0.9-2 0.3-2 0.6-1 2.2-1.2 15-0.4 3.2-0.4 0.8-0.5 0.4-0.5 -0.3-1 -5.1-6.7 -3-3.1 -10.2-8.2 -15.8-15.2 -5-4 -17.8-7.8 -4.2-0.9 -8-0.8 -6-0.2 -7 0.4 -16 3.3 -15-1.5 -15 3.1 -19 0.6 -8 2.7 -20 5.1 -13 0.9 -7 1.3 -11 3.8 -9 4.7 -5 4 -4.7 5.5 -4.7 8 -4 9 -3.4 10 -6.2 23 -10.8 27 -1.5 7 -1.1 10 -0.8 17 -0.2 26 1 10 1.9 10 2.2 7 5.7 14 1.2 6 0.8 9 1.3 5 14 30 12.3 24.1 5.4 12.9 1.7 7 -0.3 3 -1 2 -2.8 1.9 -3 0.5 -7-0.8 -17-4.4 -3-0.2 -2 0.4 -1.9 1.6 -0.5 3 0.6 3 1.8 4 3.2 4 5.3 4 18.5 8.5 7 4.3 5 5.3 6.8 11.9 4.2 5 5.3 4 18.7 11 13 5.7 14.7 7.3 8.3 3 7 0.9 17 1.3 12-0.2z"/>
<path fill="#00ffee" d="M482.0 762.0l-13 0.8 -10-0.4 -18-2.5 -30-2.7 -15-2.1 -11-2.3 -21-5.8 -11.1-4 -19.9-8.9 -14-7.9 -13.2-6.2 -5.8-3.4 -6-4.6 -13.7-12 -13.3-9.5 -5.3-4.5 -5.7-6.7 -17.7-24.3 -4.4-8 -4.9-11 -4-10 -3-9 -2-8 -1.7-9 -1-9 -0.2-8 0.9-9 1.2-4 1.8-3.3 2-2.3 3-1.8 2-0.4 3 0.3 3 1.2 3 1.9 10.2 8.4 4.8 3.2 5.6 2.8 14.4 5.9 8 4.7 6 5.5 9 11.9 6 5.2 16 7.3 14 8.6 19.7 8.9 10.3 3.7 11 1.5 18 1.3 17-0.9 13-0.1 26-5.9 10-1 3-0.7 15-7.1 16-8.5 18-13.3 23-20.5 8-5.8 2.8-4.7 7.6-9 7.6-11 7.1-13 5.1-11 3.2-8 2.5-8 6-25 5.8-43 2.2-31 -1.3-17 -5.1-18 -4.5-8.7 -3.6-5.3 -4.1-4 -7.3-6 -15.8-7 -3.2-0.8 -9-0.1 -7-0.9 -16-5.2 -2-1.3 -5-7.7 -4.2-3 -2.8-3.4 -5-4.3 -2.9-3.3 -1.8-3 -1.3-6.8 -2.6-5.2 -1.3-2 -4.1-3.4 -1.1-1.6 0.2-2 1.9-1.4 19-0.9 1.7-0.7 0.3-1 -0.4-1 -6.6-9.1 -6.1-4.9 -7.5-7 -14.4-15 -5.9-4 -9.1-3.1 -6-3 -7-1.7 -15-1 -8 0.6 -14 3 -15-0.9 -10 2.3 -6 0.7 -7-0.2 -12-1.6 -3 0.8 -3.7 2.1 -3.3 1.2 -13 3 -6 0.6 -16 0 -12 1.3 -3-0.1 -2-0.6 -1.5-1.4 -0.6-2 0.3-4 1.9-6 2.8-5 3.1-3.3 6.5-4.7 15.5-9.3 23-14.7 4-3.5 3-3.4 8-13.7 6-7.1 6-4.3 10-4.6 5-2.9 11.5-9.5 5.5-3.6 6-2.9 9-3.1 16-4.8 10-2.3 14-1.7 26-2 11-0.3 16 1 34 4.1 14.2 3.6 13.8 2.8 13 4.5 11 2.9 15 7.4 11 3.5 1 0.9 1 0 1 1 1 0 2 2 1 0 2 2 1 0 2 2 1 0 3 3 1 0 2 2 1 0 3 3 1 0 3 3 1 0 4 4 3 2 2 2 1 0 6 6 1 0 29 29 0 1 6 6 0 1 4 4 0 1 4 4 0 1 3 3 0 1 3 3 0 1 2 2 0 1 2 2 0 1 2 2 0 1 2 2 0 1 2 2 0 1 2 2 0 1 1 1 0 1 2 2 0 1 1 1 0 1 2 2 0 1 2 3 0 1 2 2 0 1 1 1 0 1 2 3 0 1 1 1 0 1 1 1 0 1 1 1 0 1 1 1 0 1 1 1 0 1 1 1 0 1 1 1 0 1 1 1 0 2 1 1 0 1 1 1 0 1 1 1 0 2 1 1 0 1 0.9 1 3.1 10 3 6.9 0 1.1 1 1 0 2 1 1 0 2 1 1 0 2 1 1 0.4 6 -1.9 23 0.8 10 -0.2 5 -4.4 21 -3.2 29 -9.6 49 -2.9 20 -5.9 20 -2.2 17 -1.6 7 -4.9 14 -8.5 21 -3.2 7 -4.4 7 -11.8 16 -18.5 31.5 -5.7 7.5 -6.3 7 -7 6.4 -13.3 10.6 -11.7 13 -13 8.6 -12 11 -6 4.1 -19 7.4 -23 11.2 -26 10.4 -12 3.7 -17 4.2 -14 2.9 -11 1.5zM275.0 543.2l-2 0.6 -2-0.1 -5-1.4 -6-3.1 -5-3.8 -3-3.4 -2.5-4 -5.5-16 -3-4.9 -4-3.4 -12-5.9 -5-3.3 -6-5.6 -6.3-7.9 -6-10 -4.1-11 -3.1-15 -2.5-21 -0.7-21 1.1-21 3-17 2.3-8 2.3-5.7 14-25.6 4-5.7 9.7-12 9.3-14.8 4-4 4-2.7 5-2.2 4-0.8 3 0.6 1.4 1.9 0.4 3 -0.8 6.1 -5.9 26.9 -2.1 6 -7.5 17 -1.5 5 -1 6 -1.8 27 -0.2 37 1.3 10 1.8 9 6.7 21 1.6 13 1.1 5 7.8 19 12.7 23.6 4 9.1 1.6 5.3 0.5 4 -0.8 3 -1.3 1.2z"/>
<path fill="#00ffd6" d="M480.0 756.1l-11 0.6 -9-0.4 -19-2.5 -21-1.4 -18-1.9 -10-1.5 -9-2 -18.8-5 -11.2-4.2 -16-7.4 -16-9.2 -18-9 -6-4.2 -13-10.8 -13-9.2 -5-4.3 -5.7-6.7 -13.3-19.2 -3.6-5.8 -3.4-6.8 -8.4-21.2 -3.4-13 -0.8-6 -0.2-6 0.5-5 0.9-4 1.4-3.4 2-2.6 2-1.2 2-0.6 3-0.1 4 0.7 19 5.5 9 3.9 4 2.5 4 3.2 10.9 12.1 7.2 6 3.9 1.9 9 2.5 5 2 6 3.4 10 7.1 11.2 5.1 9.8 3.8 12.1 3.2 21.9 2 6 0.1 29-1.5 25-6.1 11-0.9 4-1 30-15.9 18.1-13.7 23.5-21 8.4-6 3.2-5 8.5-11 6.6-10 5.8-11 6.1-13 5.2-15 5.8-24 6-42 1.2-24 1-9 -1.2-17 -4.9-19 -3.3-6.8 -4-6.4 -4.7-4.8 -8-6 -14.3-6.7 -5-1.4 -9-0.1 -6-0.9 -14.8-4.9 -3.2-1.9 -4.1-6.1 -7.1-8 -5.8-4 -2-2 -1.7-3 -1.3-7 -2-4 -2.3-3 -6.6-5 -0.3-1 1.2-1.4 3.2-0.6 16.8-0.6 1.1-0.4 0.7-1 -0.1-2 -6.7-10.4 -13.7-12.6 -12.1-14 -3.8-3 -3.4-1.8 -10-3.2 -9-3.7 -7-1.1 -13-0.8 -8 0.4 -14 2.9 -15-0.1 -9 2 -5 0.6 -6.1-0.2 -11.9-1.8 -4 0 -14 3.9 -7 0.8 -6 0 -6.2-0.9 -4.8-1.9 -2.7-2.1 -1.6-3 0.1-3 1.2-3 5-6 13.3-11 14.1-10 4.6-4.1 5-7.2 5.6-9.7 4.4-5.2 6-4.3 10-4.2 4-2.3 4-3.2 8.9-8.8 6.1-4.3 6-2.8 7-2.4 17-5.1 10-2.4 9-1.3 30-2.7 13-0.4 10 0.6 37 3.9 15 4 14 3 22 7 5 2.3 11.2 6.6 14.8 4.6 4 2.5 6 5.2 9 3.3 4 3.4 4.9 8 2.1 1.9 3 0.5 4-1.7 1 0.3 4 4 1 0 13.9 14 -0.3 3 0.5 2 1.9 2 7 5 2.9 3 5.1 8.1 5.9 6.9 8.1 11.6 3.9 3.4 4.1 1.8 2 2.2 0 1 2 2 0 1 2 2 0 1 2 2 0 1 1 1 0 1 2 2 0 1 1 1 0 1 2 2 0.3 2 -1.2 3 0.3 2 6.1 10 1.8 4 5.3 16 4.4 15.2 5.7 13.8 1.5 5 0.9 8 0.2 27 -1 8 -4.8 20 -3.3 27 -6.5 34 -7.3 36 -5.8 20 -2.9 19 -2.5 10 -10.6 29 -3.6 8 -4 6.3 -10 12.4 -4.4 6.3 -3.6 6.8 -6.2 14.2 -6.4 10 -6.4 7.9 -6.1 6.1 -17.9 13.7 -12 11.8 -13 10.2 -10 10 -6 4.1 -5 2.2 -14.8 5 -24.2 10.5 -26 9.9 -13 3.8 -17 4.3 -11 2.1 -11 1.5zM236.0 484.2l-3 0.6 -4-0.3 -4-1.4 -3-1.7 -3-2.5 -3.7-3.9 -6.3-9.4 -4-8.8 -3.1-10.8 -2.4-14 -1.5-16 -0.3-16 0.6-14 1.7-13.9 2.4-10.1 4.6-10.3 10-15.7 5-5.6 2-1.4 3-1 2 0 2 1.2 1.1 1.8 0.9 4 1.2 28 -0.7 21 -0.1 36 2.8 20 4.7 19 0.8 6 -0.3 8 -1 6 -1.4 3.1 -3 2.1z"/>
<path fill="#00ffbe" d="M479.0 750.1l-8 0.5 -7-0.2 -24-2.9 -36-2.8 -13-1.8 -17-3.9 -13-3.9 -12-5.1 -9.7-5 -14.3-8.6 -19-9.5 -6-3.9 -25.8-19 -5.2-4.8 -4-5.2 -12.3-20 -5-10 -8.7-24 -1.5-7 -0.4-6 0.5-4 1-3 1.9-3 2.5-2 3-1.2 3-0.5 4 0 5 0.7 7 2.1 6 3.3 5 4 9.9 9.6 7.1 5 5 2.2 10.7 2.8 5.5 2 5.3 3 11.5 8.3 9 4.3 8 3 7 2 9 1.9 16 1.7 17 0 27-2.1 9-2 14-4 11-0.5 4-0.9 30-16.6 19-14.7 23.7-21.4 7.3-5 11.1-15 7.9-12 11.7-24 5.1-15 5.9-24 5.9-42 1.1-24 1-9 -1.3-18 -4.7-19 -3.7-7.8 -3.3-5.2 -3.7-4 -8-6 -15-8.3 -4-1 -9-0.2 -6-0.7 -6.1-1.8 -9-4 -3.9-2.8 -11.9-13.2 -7.1-5 -1.1-2 -1.3-7 -1.8-4 -2.7-3 -7-5 -0.4-1 1.7-1 4.6-0.7 13.3-0.3 1.7-0.9 0.7-1.1 -0.4-3 -3.5-7 -2.1-3 -8.5-9 -6-5 -10.2-13.4 -3-2.6 -3-1.8 -4-1.6 -9-2.5 -9-3.3 -17-2 -11 0 -15 3 -14 0.5 -10 2.1 -5 0.3 -18-2.2 -6 0.3 -11 1.5 -8-0.3 -4-0.9 -2.4-1.1 -2.1-2 -0.9-2 -0.1-2 0.9-3 3.4-5 8.9-9 14.3-11.3 10-16 4.6-5.7 5.4-3.9 10-3.3 5-2.6 3-2.6 8-9.7 4-3.4 4-2.6 6-2.8 7-2.4 16-4.7 10-2.4 40-4.6 11-0.5 9 0.6 17 2 20 1.3 15 4.3 16 3.4 19 6 6 2.6 11 7.3 4 1.5 12 2.9 4 2.3 6 4.8 9 3.6 4 3.5 4.5 7.4 2.5 2.3 2 0.7 2 0.1 5-1.2 2-0.1 1 0.2 1 1 1 0 9 9 0.9 3 0.1 6 1 2.3 2 2.1 6.7 4.6 3.3 3.3 5.6 8.7 6.2 8 7.6 12 4.6 4.1 11 4.9 1 1 0 1 2 2 0 1 1 1 0 1 2 2 0.2 3 -2.5 5 -0.1 3 1.3 3 5.5 7 2.5 5 9.1 32.5 6.8 17.5 1.5 8 1.4 21 -1.2 9 -6.6 24 -3.8 26 -4 19 -3.9 22 -6.8 29 -6.2 22 -4 21 -2.6 10 -8.6 25 -3 7.1 -4 6.5 -10 12 -4 5.7 -3.3 6.7 -6.1 16 -2.7 5 -4.1 6 -5.7 7 -5.1 5.1 -20 14.9 -10.6 10 -10.4 9 -10.4 11 -6.6 4.7 -6 2.5 -17 5.1 -35 13.7 -15 5.1 -26 6.6 -22 3.4zM227.0 464.4l-3-0.2 -4-3.2 -4-5.3 -4-7.9 -2.2-6.8 -1.6-8 -2.2-22.2 -0.4-10.8 0.4-10 1-11 1.6-9 1.7-5 2.7-5 4-4.2 3-1.1 2 0.5 2.4 2.8 1.6 4.1 0.9 5.9 0.4 30 -0.6 20 2.6 22 0.7 15 -0.6 6 -0.8 2 -1.6 1.4z"/>
<path fill="#00ffa6" d="M473.0 744.0l-10-0.2 -24-3.2 -39-3.2 -14-2.4 -15-3.5 -10-3.3 -9.3-4.2 -20.7-11.9 -28-14.8 -8-5.2 -15-11.2 -5.2-4.9 -4.5-6 -9.5-18 -4-9 -6.8-23 -1-8 1-4 1.3-2 1.7-1.4 2-0.8 3-0.5 5 0.8 6 3 11.8 8.9 6.2 3.8 7 2.9 11 2.6 7.6 2.7 5.3 3 10.1 7.1 11 5.6 6 2.3 6 1.7 19 3.4 12 0.8 24-0.8 22-2.8 20-5.5 13-0.4 5-1.8 7-5 14-7.4 7-4.3 18.7-14.9 22.8-21 7.4-5 2.7-3 9.4-13 5.5-8 2.8-5 11-23 5-15 5.8-24 5.8-42 0.9-14 0.2-9 1.1-10 -1.5-18 -4.2-19 -3-7 -3.6-6 -3.4-4 -3.4-2.9 -7-4.8 -8-4.3 -5-4.5 -2-1.2 -3-0.3 -6 1.2 -7-0.6 -5.4-1.6 -8-4 -6.6-4.4 -12-11.6 -6-4.1 -1.8-2.9 -1.4-7 -1.9-4 -9.5-7 0.2-1 2.9-1 13.5-0.4 2-0.7 1.5-1.9 0.1-2 -2.4-7 -2.4-4 -4.6-5 -3.9-5 -4.3-3 -1.9-2 -10.1-14.6 -4.1-3.4 -4.8-2 -11.1-2.6 -10-3.3 -14-1.8 -8-0.5 -6 0.1 -16 3 -12 1 -10 2.1 -5 0.3 -15-2.4 -13 0.2 -7-0.7 -4-1.1 -2.4-1.3 -1.9-2 -0.6-2 0.7-4 2.9-5 4.6-5 8.7-7.3 3-3 5-9.5 8-10.1 3-2.5 3-1.7 3-1.1 8-1.7 5-2.6 3-3.1 4.7-7.4 2.3-2.9 4-3.5 4-2.5 6-2.8 7-2.4 15-4.4 10-2.4 24-2.7 18-2.7 10-0.4 25 3 19 0.7 15 4.5 17 3.3 19 5.9 5 2.3 7 5.8 3 1.8 4 1.5 10 1.7 4 1.2 3 1.7 6 4.4 9 4 4 3.4 4 6.8 3 2.9 3 1.2 8.3 0.6 2.7 1.2 3 2.1 3.3 4.7 1.9 7 1.4 3 2.4 2.5 6.5 4.5 3.7 4 9.9 14 8.9 15 5 4.5 10.2 5.5 2 2 1.9 3 0.9 3 -1 7 0.4 3 1.4 3 5.5 7 2.4 5 8.1 33 7.1 19 1.1 6 2.1 19 -0.9 5 -5.7 17 -2.6 9 -4.8 28 -5.3 21 -3.5 22 -14.5 54 -4.7 21 -2.3 8 -9.9 27 -3.6 6 -9.7 12 -4 6 -3.3 7 -6.2 18 -3.2 6 -4.9 7.1 -4 4.9 -4 4 -20 14.5 -19 17.7 -10.7 11.8 -3.7 3 -3.6 2.1 -5 1.9 -19 4.9 -37 13.6 -15 4.6 -23 5 -14 2 -11 0.9z"/>
<path fill="#00ff8d" d="M473.0 737.0l-11-0.3 -21-3.2 -32-3.2 -15.7-2.3 -14.3-2.9 -9-2.4 -8-2.8 -9-4.1 -24-12.9 -13-7.7 -15.6-7.2 -5.8-4 -8-7 -7-8 -4.9-9 -7.1-17 -1.5-6 -0.5-6 0.5-4 1.9-3.4 3-1.4 5 0.5 14 4.4 12 2.8 7 2.3 6 2.8 19 10.6 9 3.7 8 1.9 24 3.5 24-0.4 7-0.5 25-3.9 18-5.2 10 0.4 5-0.6 4-1.8 7-5.7 14-7.7 7-4.5 9-7.8 9.1-7 22.9-21.5 8-5.5 3.4-4 14-20 12.2-25 5.6-16 6.4-26 4.4-30 2-23 0.2-12 1.2-10 -1.7-19 -3.4-17 -3.3-8.4 -4.7-7.6 -3.3-3.6 -3-2.4 -7-4.7 -7.5-4.3 -4.2-6 -2.3-2 -3-1.2 -2 0 -5 3.2 -2 0.3 -3.5-0.3 -4.5-1.4 -16-9.3 -12.1-10.3 -5.5-4 -1.3-2 -1.5-7 -1.9-4 -2.6-2 -5.6-3 -1.9-2 0.8-1 1.6-0.4 12-0.5 3-1.1 1.4-2 0.3-2 -1.4-7 -2.3-4 -9-10.8 -5.1-4.2 -5.1-7 -5.8-9.5 -2-2.2 -2-1.4 -5-1.8 -12-2.5 -11-3.1 -23-2.5 -8 0.4 -13.3 2.6 -11.7 1.6 -9 2 -6 0.2 -14-2.9 -9 0.5 -4-0.6 -2.6-0.8 -3.4-2 -2-2 -1-2 0.2-4 2-4 2.5-3 8.3-8.1 2-2.9 3-7.1 6-7.1 4-3.5 4-2.3 4-1.3 8-1.5 4.3-2.2 3.7-4 6-10.3 3.9-3.7 4.1-2.7 5-2.4 7-2.4 24-6.6 8-1.3 17-1.8 19-3.5 9-0.4 7 0.7 17 2.7 19 1.3 15 3.9 17 2.8 19 5.5 5 2.4 7 6.6 3 1.7 5 1.4 11 1.6 4 1.4 7 4.9 11 5.6 2.5 2.6 3.5 6.1 3 3 3 1.5 7 1.9 5 3.3 3 3.6 4.5 8.6 2.5 2.5 6.6 4.5 4.4 5.1 8.5 11.9 6.3 12 3.4 5 4.8 4.4 9 5.7 2 2.1 1.8 2.8 0.9 3 0.2 6 0.6 3 1.6 3 5.2 7 2.5 6 3.3 17 3.9 15.9 6.6 19.1 1.3 8 0.9 14 -1 5 -8.1 26 -5.7 29 -7 21 -1.9 17 -1.9 9 -9.3 35 -7 22 -5.4 20 -9.5 24.3 -3.8 6.7 -9.3 13 -4.9 8 -3.1 7 -6.4 19 -4 8 -4 6 -3.5 4 -3.4 3 -12.6 8.9 -6.2 5.1 -16.8 16 -11.3 12 -3.7 2.9 -3.9 2.1 -4.1 1.4 -18 4 -38 13.3 -15 4.3 -19 3.6 -26 2.4z"/>
<path fill="#00ff75" d="M482.0 729.0l-11 0.6 -8-0.4 -21-3.5 -28-3.9 -12-2.1 -19-4.3 -16-4.5 -11.7-4.9 -16.2-8 -4.9-3 -8.2-6.5 -4-2.5 -4-1.7 -11-3 -4.4-2.3 -4.4-4 -4.3-6 -2.4-5 -1-5 0.7-4 2.8-3.7 9.7-7.3 2.3-1.1 3-0.7 4 0.2 5 1.4 17 7.8 8 2.7 26 3.8 7 0.6 29-1.7 15-3.1 12-1.7 17-5 12 0.6 4-0.5 3-1 3-2 5.9-5.3 16.1-9.5 5-3.6 8.7-7.9 9.3-7.3 22.7-21.7 6.2-4 2.3-2 3.3-4 13.5-19.3 13.4-28.7 4.6-14 3-14 2.7-9 1.7-13 2.7-14 2.4-28 -0.1-12 1.3-10 -1.8-20 -3.1-16 -3.3-9 -5-8 -5.5-5.4 -14.6-9.6 -4.4-8.6 -3-2.8 -3-1.1 -2-0.2 -3 1 -5 3 -2 0.4 -3-0.7 -9-4.3 -9-5.3 -6-4.3 -9.7-8.1 -1.3-2.1 -2.2-7.9 -1.3-2 -2.8-2 -6.1-3 -1.3-1 -0.3-1 2.5-1 10.5-0.5 3.1-1.5 1.5-2 0.5-2 0.2-4 -0.8-3 -3.1-5 -9.4-11.3 -3.8-3.7 -5.5-7 -6.7-10.9 -3.5-3.1 -5.5-1.9 -11-1.9 -13-3.1 -16-2.3 -9-0.7 -9 0.8 -20 3.9 -9 2.3 -6 0.4 -4-0.7 -12-3.5 -9.8-0.3 -2.7-2 -2.1-4 0-3 1.2-3 7.4-9.3 4-8.9 2.9-3.8 5.1-4.4 4-2.4 4-1.5 9-2.2 5-2.6 4-4.4 4.7-8.5 2.2-3 3.1-3 4.6-3 11.4-4.5 21-5.8 8-1.4 18-2.1 19-4.3 8-0.6 7 0.7 17 3.4 17 1.8 18 3.7 15 2 21 5.6 4.7 2.5 5.3 5.8 3 1.9 5 1.5 15 2.5 9 5.5 8 4.1 3.4 2.7 3.7 6 2.9 3.3 3 2.1 7.5 3.6 3.5 2.6 3 3.2 6 8.2 8 5.6 4.1 4.4 8.8 12 6.4 13 3.7 5.5 4 3.9 9.1 6.6 3.9 5 1 2.7 1.6 8.3 1.6 3 4.8 6.9 2.6 7.1 3.7 21 3.9 16 4.7 15 0.9 6 0.3 7 -1.2 11 -7.4 26 -5.6 27 -2.5 7 -6.8 14 -1.7 5 -0.6 4 -0.2 11 -1 7 -7.7 31 -3 10 -6.4 17 -6.2 19 -7.2 18 -5.1 10 -13.1 21 -5.6 10 -6.4 14 -4.9 15 -3.4 6 -4.8 5 -14.3 11.3 -28 25.5 -5 3.9 -4 2.3 -5 1.7 -16 4.2 -34.5 12.1 -13.5 4 -18 3.4 -21 1.6z"/>
<path fill="#00ff5d" d="M491.0 721.0l-21 0.5 -14-1.5 -28-5.1 -13.3-2.9 -12.7-3.6 -22.5-7.4 -15.1-6 -13.2-7 -6.2-4.8 -12-12 -4-2.4 -9.4-3.8 -2.1-2 -0.4-2 1.4-2 3.5-0.7 3.3 0.7 7.7 2.7 5 0.9 18 0.2 17 1.2 8-0.2 18-1.8 8-1.3 14-3.5 13-2.4 14-3.9 4-0.4 11 0.3 4-0.7 3-1.2 3-2 8-6.9 14-9 5-3.7 7.8-7.3 9.2-7.4 23-22.4 6-4 3.5-3.2 16.4-23 13.8-31 3.7-12 3.1-14 2.6-9 1.9-13 3-13 0.5-5 0.1-13 1.4-11 -0.3-12 1.5-10 -0.2-4 -1.3-7 -0.7-10 -2.6-15 -3.4-9.8 -4.4-7.2 -4.7-5 -14.9-11 -1.8-3 -3.2-8.3 -3-3.9 -3-1.3 -3-0.2 -2 0.5 -6 3.2 -4 0.5 -5-1.1 -6-2.5 -11-6.1 -7.6-5.8 -3.7-4 -2.8-8 -1.5-2 -10.5-6 0.6-1 9.5-0.9 4.7-2.1 1.8-2 0.9-2 0.5-3 -0.4-3 -3.7-6 -7.8-8.8 -7-10.3 -5-4.6 -5.7-9.3 -4.3-4.3 -6-2.3 -12-1.9 -12-2.7 -18-2.8 -9-0.8 -11 1 -15 3.4 -11 3.2 -5 0.2 -6.7-2 -12.5-6 -2.5-2 -1-2 0.1-3 1.2-3 5.6-11 3.6-5 3.2-2.8 3-1.8 13-4.5 5.2-2.9 4.8-5 7.7-12 3.3-3.2 4-2.7 9.9-4.1 17.1-4.9 10-1.9 18-2.3 19-5.2 8-1 8 0.8 18 4.2 15 2.2 18 3.3 17 2.2 16 3.9 6.7 2.7 6 6 3.3 2 5 1.5 11 2 5 1.5 17 10 9 10.7 12 8.2 10 10.7 7.5 5.4 2.5 2.3 10 13.1 6.6 13.6 3.2 5 4.2 4.4 9 7.2 3.5 4.4 1.5 3.1 2.8 8.9 5.1 9 2.2 6 3.5 20 4 18 4.2 15 0.9 9 -0.4 7 -1.7 9 -6.4 24 -5.4 25 -3.1 8 -8.2 14 -2.5 6 -0.7 5 -0.4 12 -0.9 7 -5.6 25 -3.4 11.6 -7.5 18.4 -8 22 -6.2 15 -9.2 17 -21.6 34 -2.9 7 -3.1 13 -2.5 5 -4.3 5 -11.9 10 -11.8 10.8 -7 5.2 -6 3.3 -38.6 16.7 -28.4 10.3 -10 2.8 -10 2.1 -9 1.2 -10 0.6z"/>
<path fill="#00ff44" d="M492.0 713.0l-19 0.2 -12-0.9 -22-4.4 -17-4.7 -13.1-5.2 -12.2-7 -5.4-4 -4.4-4 -2.2-3 -0.4-3 2.4-3 5.8-3 28.8-9 24.7-6.6 6-0.9 14-0.7 4-1.2 3-1.5 12.3-10.1 15.7-11.1 17-15 23.5-22.9 7.5-5.8 3.7-4.2 11.7-16 4.2-7 4.6-12 5.8-12 2.3-6 3.6-12 3.1-14 2.7-9 1.8-12 4-14 0.3-6 -0.7-11 1.8-13 -0.9-10 1.6-9 0.3-4 -1.9-9 -0.7-11 -2.8-16 -3.1-9 -4.5-7 -3.9-4.4 -8.8-6.6 -6.1-6 -2.1-4 -4-11 -3-4 -3-1.4 -4 0 -2 0.7 -6 3.6 -4 0.7 -4-0.3 -5-1.6 -10-4.7 -6.1-4 -4.8-5 -3.4-8 -2.8-2 -7.7-4 -0.7-1 1.5-0.6 6-0.9 7.2-2.5 1.5-2 1-3 0.1-3 -0.4-2 -3-5 -10.7-12 -5.7-9.9 -5-3.6 -5.7-8.5 -5.3-5.5 -4-2 -5-1.3 -13-1.9 -27-5 -10-1.1 -6 0.1 -7 1.1 -11 2.8 -11.2 3.8 -4.8 0.2 -5.4-2.2 -6.6-5 -3-3.5 -1-3.5 0.4-3 1.4-4 2.2-4 2.5-3 4.5-3.4 12-5.1 6-3.9 5-5.2 9-12.7 3-2.8 4.4-2.9 8.6-3.7 12-3.5 11-2.4 20-2.9 7-1.9 12-4.4 8-1.2 7 0.8 13 3.8 8 1.8 26 4.7 23 2.9 14 3.2 6 2.4 7 5.5 4 2.3 16 4.4 5.5 2.2 8.8 5 5.7 4.2 9 9.3 12 9.4 9.2 9.1 7.8 6.1 4 3.9 7.6 10 7.2 14 3.2 5.1 4 4.5 8.6 7.4 3.7 5 4.9 12 4.2 9 2 6 3.6 19 7.3 32 0.9 9 -0.5 7 -1.5 9 -5.7 22 -5.7 26 -4.4 10 -9.3 14 -1.9 4 -1.2 15 -1.7 12 -4.4 21 -3.5 12 -7.4 18.2 -8.5 22.8 -6.4 15 -4.5 9 -5.9 10 -16.7 24.2 -3.6 5.8 -2.9 7 -3.4 14 -3.1 6 -4 4.3 -10.8 8.7 -10.2 9.2 -4 2.9 -5 2.7 -24.2 8.2 -26.8 11.8 -20 7.3 -17 4.2 -17 1.7z"/>
<path fill="#00ff2c" d="M494.0 704.1l-15 0.5 -13-0.8 -13-2.3 -14-3.9 -11-4.6 -7.8-5 -3.2-3 -2.1-3 -0.9-3 0.2-2 1.5-3 3.3-3 5.1-3 4.8-2 18.3-6 16.8-2.1 5-1 4-1.5 4-2.5 10.5-8.9 16.5-12.6 15-13.5 31-29.5 3.8-4.4 14.6-20 2.9-6 3.6-11 5.5-11 2.3-6 4.1-14 3.5-15 2.3-7 1.6-11 4.2-10 0.9-4 0.3-6 -1.6-12 2.1-11 -0.1-4 -1.3-8 1.9-9 0.4-4 -0.5-3 -2.1-7 -0.7-11 -2.6-15 -2.5-9 -2.1-4 -6.4-8 -8-6 -6.2-7 -2.8-5 -5.1-13.3 -2-3.2 -2-2 -3-1.4 -3 0 -3.2 0.9 -5.8 3.2 -5 1.1 -4-0.2 -4-1.2 -9-3.9 -5.6-4 -3-4 -1.6-6 -0.8-1.6 -3 0.4 -2-0.2 -6.7-3.6 0.7-1 7-1.9 2 0.3 3 1.9 1-0.7 1.8-3.6 1.2-4 0-4 -0.8-3 -1.7-3 -6.5-7.8 -7-7 -5-9.6 -2-1.9 -3-1.7 -8.3-10 -4.7-4.3 -4-1.9 -4-1.1 -16-2.3 -29-5.7 -8-0.9 -6 0.1 -7 1 -9 2.5 -10 3.6 -4 0.5 -3.2-1.5 -5.2-5 -1.9-3 -0.7-3 0.1-2 1.1-3 2.9-4 3.9-3 11-6.4 6-4.5 4.9-5.1 9.2-12 3.9-3.5 4-2.5 8-3.4 11-3.2 31-5.7 6-2 11-4.9 4-1.1 4-0.4 7 0.8 15 5.1 17 3.8 14 2.5 26 3.2 8 1.7 7 2.2 4 1.9 9 5.8 17 6.1 10.7 5.6 7.3 5.3 10 9.4 12 9.9 15 13.4 5.7 6 5.8 8 7.7 14 3.3 5 3.5 4.1 8.4 7.9 4 6 8.1 20 2.2 7 10 48 1 10 -0.3 7 -0.8 6 -5.8 23 -4.8 23 -2 6 -2.2 5 -9.8 15.4 -2 4.6 -8.7 44 -2.3 9 -2.7 8 -14.4 38 -7.7 18 -4.6 9 -6.1 10 -19.1 27 -3 7 -3.4 13.5 -2.8 5.5 -5 5 -11.2 7.3 -10.6 10.7 -3.4 2.5 -4 2 -8 2.8 -23 5.7 -27 10.5 -15 5.1 -12 2.8 -13 1.7z"/>
<path fill="#00ff14" d="M493.0 694.0l-11 0.6 -10-0.4 -9-1.3 -8-2.3 -8.3-3.6 -5.6-4 -2.8-4 -0.4-2 0.5-2 1.2-2 2-2 5.4-3.3 6-2.2 18-4.2 5-2.2 5-3.5 9.6-8.6 12.4-10.1 17.8-15.9 26.2-25.3 7.8-8.7 6.1-9 7.3-9 3.1-5 2.1-5 3.1-11 5.4-11 2.4-6 8.5-30 2.3-6 1.4-11 1.3-3 3.4-5 1.8-7 0-7 -1.9-11 1.9-8 0.4-5 -2.2-10 2.2-10 0.2-4 -0.5-3 -2.9-7 -0.7-9 -1.4-10 -3.3-15 -1.8-4.2 -7-9.1 -2-2 -6-4.3 -6-7.4 -3-5 -6-14.2 -2-3.2 -3-3 -2-1.1 -3-0.5 -15 2.5 -5-0.2 -8-2.6 -3-1.7 -2.3-2 -1.9-3 -0.8-3 0.2-3 1.7-7 0.4-4 -0.8-5 -1.6-4 -9-11 -6.9-6.7 -4.5-8.3 -2.1-3 -7.4-5.6 -10-9.7 -4-2.2 -5-1.6 -23-3.1 -22-5.3 -8-1.4 -6-0.4 -5 0.3 -16 3.4 -5 0.2 -3-0.9 -2.2-1.7 -1.3-2 -0.2-2 1-3 2.5-3 16.2-13 4.8-5 9.2-11.3 4-3.5 4-2.6 7-3.2 8-2.4 25-4.8 7-1.7 7-2.6 11.1-5.9 3.9-1.1 4-0.4 6 1 14 5.6 16 4 13 2.4 30 3.7 9 2.1 8 2.7 10 5.7 18 8 10 6.1 7 5.4 32.2 27.8 4.8 5 4.8 6 14.4 23 3.8 4.8 8 8.4 2.6 3.8 2.1 4 6.3 17 2.4 8 9.4 44 1.1 7 0.4 7 -0.2 6 -0.9 6 -4.8 20 -5.5 26 -3.5 9 -8.6 15 -2.8 8.5 -4.1 8.5 -2.5 9 -4 21 -2.5 10 -14.3 40 -8.6 21 -7.1 14 -8.4 13 -13.8 18 -3.9 6 -2.1 5 -2.9 11 -1.9 4 -1.9 2.3 -3 2.1 -9 2.8 -3.4 1.8 -2.6 2.9 -4.2 8.1 -2.8 4 -4 3.5 -5 2.6 -8 2.3 -20.8 3.6 -44.2 12.8 -10 2 -10 1.2zM507.0 303.0l-2 0.3 -2.5-1.3 -0.9-1 1.2-1 2.2-0.7 2 0.2 1 1.5 -0.1 1 -0.9 1z"/>
<path fill="#04ff00" d="M507.0 681.1l-16 0.7 -12.5-0.8 -4.5-1 -3-1.2 -2.3-1.8 -0.7-2 0.3-1 1.6-2 8.1-5.3 5-3.9 12-12.8 18-17 15-12.9 20-20.1 7.9-9 7.1-10.5 7.6-9.5 2.5-4 2.5-6 2.8-12 7-15 6.6-21 6.6-14 0.9-4 1-9 4.2-7 2.4-7 0.5-6 -1.3-14 0.8-13 -1.4-12 1-13 -0.9-5 -3.2-7 -5.8-34 -1.4-3 -8.4-11.3 -7-6 -6.1-6.7 -2.9-4.6 -7-14.6 -2-3.1 -3-3.4 -2-1.5 -3-1.3 -8-1 -9-2.8 -5-2.3 -2.9-2.4 -1.6-3 -3.1-10 -4.6-10 -8.8-10.2 -6.1-5.8 -9.6-13 -8.3-5.4 -10-9.7 -6-3 -5-1.1 -22-2.7 -30-8.6 -7-1.2 -11-0.7 -2.5-0.6 -1.1-1 0.1-2 1.1-2 9.4-10.9 8-10.2 4.8-4.9 5.2-3.7 5-2.4 6-2 23-4.8 10-2.8 8-3.3 11-6.7 6-1.5 6 0.9 15 6.5 17 4.4 10 1.9 32 4 18 4.8 23.6 12.7 11.4 7.1 8 6.1 29 24.2 3.6 3.6 4 5 20.4 30.4 9 10.6 3.3 6 7.3 21 6.2 25 4.7 23 1.5 13 -0.2 6 -1 7 -4.2 19 -3.8 20 -2.4 9 -3 7 -6.5 12 -2.9 6.9 -4 5.2 -3.4 6.9 -2.6 8.5 -3.6 19.5 -2.2 9 -12.9 38 -7.2 18 -4.9 11 -5.2 9.7 -6.6 10.3 -6.4 8.7 -13.4 16.3 -2.9 5 -3.7 8.2 -2 2.8 -3 2.2 -10.6 4.8 -3.4 2.8 -6.7 15.2 -2.3 3.2 -3.2 2.8 -3.9 2 -5.9 1.7 -16 2 -20 4.2 -33 5.2z"/>
<path fill="#1cff00" d="M533.0 670.0l-18 0.3 -5-0.4 -5-1.2 -3.6-1.7 -1.9-2 -0.8-3 0.5-3 3.6-7 8.9-11 6.3-6 10.8-8 4.7-4 21.4-24 17.8-24 4.1-7 2.1-6 2.5-12 6.9-16 4.7-15.2 2-4.3 7.5-12.5 4.3-14 4.9-10 1.7-5 0.3-6 -2.4-16 -0.2-12 -1.1-13 0-12 -1.1-6 -3.7-8 -1.5-5 -3.9-19 -0.5-8 -0.9-3 -10.4-14.6 -4-4 -6-4.9 -3.2-3.5 -2.8-4.4 -7.1-13.6 -4.9-6.3 -4-3.4 -4-2.5 -8-3.3 -8-6.7 -4-4.8 -9-14 -9.2-10 -5.8-5.2 -4-4.8 -7.9-8 -9.1-6 -8-8.4 -3-2.3 -4-2 -4-1.1 -20-2.1 -8.7-2.1 -11.4-4 -9.1-4 -7.3-4 -2.8-3 -0.5-2 0.5-3 3.5-7 5.6-7 6.2-4.8 8-3.3 19-4.1 13-4.2 10-4.6 10.1-7 2.9-1.2 3-0.5 5.3 0.7 13.7 6.5 13 3.8 14 2.9 34 4.3 17 4.5 10.4 5 24.6 16.3 34.5 26.7 5.4 6 9.2 14 12.9 18 4 6.7 5 5.5 3.2 5.8 7 21 6.4 24 3.6 17 2.2 15 0.3 8 -0.8 8 -7.3 39 -2.3 9 -3.3 8 -5 9.4 -3 4.9 -7.2 9.7 -3.7 7 -2.4 8 -2.9 17 -1.8 8 -11.7 36 -11.1 28 -7.9 15 -11.3 16.8 -15.6 17.2 -9.1 12 -4.2 4 -10.1 7.7 -2 3.3 -5.3 12 -1.9 3 -2.8 3 -4 2.4 -6 1.8 -29 4 -11 0.8z"/>
<path fill="#33ff00" d="M549.0 663.1l-7 0.3 -7.2-0.4 -8.8-1.2 -6-1.6 -3-1.6 -2.1-2.6 -0.5-3 0.6-3 3-5.4 4.9-4.6 5.1-2.7 11-3.7 2.7-1.6 2.1-2 1.7-3 2.7-8 2.6-5 12.1-16 15.6-22 2-4 1.7-5 4-18 5.7-14 4.1-12.1 3-5.9 8.7-11 2.9-5 4.2-11 6.1-13 1.1-5 -0.1-4 -0.9-4 -3.1-9 -1.1-5 -2.3-22 -0.6-12 -0.9-6 -1.8-5 -4.3-9 -1.9-5.7 -3.3-14.3 -0.4-8 -0.6-3 -8.2-14 -5.5-6.1 -7.9-5.9 -3.1-3.3 -3-4.3 -7.6-13.4 -4.4-5.6 -7-6.3 -7.5-5.1 -4.5-5.8 -5-4.2 -5-6 -17.1-18 -17.1-16 -10.4-7 -9.4-10.6 -4-2.6 -5-1.7 -21-1.9 -10.4-3.2 -7.2-3 -6.9-4 -4.6-4 -1.8-3 -0.4-4 1.8-5 3.5-4.7 4-3.3 7-3.1 14-2.6 9-3 15-7 5-2.9 9-6.6 5-1.7 5 0.8 13 6.4 10 3.2 17 3.5 35 4.4 14 3.3 7 2.6 4.9 2.7 9.1 7.1 21 14.5 13.6 10.4 14.4 10 4.4 5 4.1 8 4.6 7 15.1 19 3.8 7.1 4.3 5.9 2.1 4 6.1 18 6.1 22 3.5 15 2.6 16 0.7 10 -0.5 10 -6.1 37 -2.6 11 -3.1 8 -4.1 7.7 -3 4.3 -9.4 11 -2.6 4 -2.4 5 -2.3 8 -2.4 15 -1.8 8 -10.6 34 -9.6 25 -5.6 12 -8.3 13.9 -7 10 -5.3 6.1 -10.5 10 -4.5 5 -14.7 17.9 -11 16.5 -3.9 4.6 -4.1 2.7 -4 1.3 -23 3.1z"/>
<path fill="#4bff00" d="M555.0 655.1l-6 0.3 -5-0.9 -3-2 -0.6-1.5 0.3-1 1.9-2 2.4-1.3 11-3.2 3-1.3 2.8-2.2 1.5-2 0.8-2 0.4-3 -2.7-11 0-3 0.7-3 2.5-4.6 9.6-12.4 8.8-13 2.8-5 1.6-4 0.8-4 1.7-18 2.7-8.7 7-17.6 2.3-4.7 3.7-4.6 8-7 4-6.2 5-13.2 6.5-15 1.1-5 -0.1-4 -1.4-5 -5.1-10 -2-6.1 -2.3-15.9 -1.4-16 -1.2-6 -2.4-6 -5.7-10.8 -2.2-5.2 -3-11 -1.3-12 -4.9-12 -1.6-2.6 -6.6-6.4 -8.4-6.4 -3.8-3.6 -3.6-5 -7.6-12.7 -5-6 -5.6-5.3 -7.4-5.5 -4.2-5.5 -5.8-5.2 -23.9-24.8 -14.8-13 -8.3-5.4 -3.1-2.6 -7.9-10.5 -2-1.9 -4-2.5 -5-1.6 -16-1.1 -9.6-2.4 -7.3-3 -5.4-3 -3.6-3 -2.7-4 -0.7-3 0.8-4 2-3 3.5-2.8 5-1.9 11-1.4 6-1.9 22-12.3 11-7.5 5-2 5 0.7 13 6 9 2.7 18 3.4 34 4.1 13 2.9 7 2.1 4 2.1 13 10.9 20 13.7 12 9 12 6.9 3 2.3 2 2.2 1.7 2.8 1.9 8 1.1 2 13.6 16 7.7 8.2 8.2 15.8 4.1 12 6.9 24 3.5 15 2.2 13 1.3 14 -0.3 11 -4.9 33.9 -3.1 14.1 -2.9 8 -3.2 6 -3.8 5 -11.2 12 -3.4 5 -2.6 5 -2.4 8 -3.5 21 -5.5 18 -4.4 16.1 -3.8 10.9 -9.3 22 -6.9 11.7 -11 15.8 -6 6.3 -11.9 10.2 -5.4 6 -8.3 12 -5 10 -4.4 3.4 -7 8 -4 2.8 -5 1.6 -13 1.3z"/>
<path fill="#63ff00" d="M605.0 599.0l-3 0.6 -2.9-0.6 -1.1-1.3 -0.6-2.7 0.2-4 2.2-13 0.7-13 0.8-5 5.4-12 2.4-11 1.5-4 2.5-4 6.9-8.5 2.7-4.5 8.3-20.4 6.9-14.6 1.7-6 0.1-3 -0.5-3 -2.2-5 -7-10.7 -2.5-5.3 -1.9-8 -2.2-22 -1.4-7 -3.2-8 -8.8-14.5 -2-4.1 -2.2-7.4 -1.8-12.2 -4.4-12.8 -1.6-2.7 -7-6.3 -11.2-9 -4.8-5.9 -7-11.3 -4.5-5.8 -6.5-6.5 -7.2-5.5 -4.7-6 -6.1-5.4 -23-23.7 -15.1-12.9 -8.9-5.7 -2.8-2.3 -3.2-4 -4.3-8 -2.7-3.3 -4-2.6 -4-1.5 -5-0.9 -11-0.7 -6-1.8 -11.5-5.2 -2.6-2 -2.3-3 -0.5-2 0.2-2 1.4-2 1.3-0.9 3.2-1.1 9.8-1.2 4-1.5 4-2.4 14-9.9 14-8.7 4-1.8 3-0.5 4 0.3 14 5.2 10 2.3 15 2.4 36 3.9 13 3.2 7 2.9 7.8 6.8 10.2 7.7 16 10.6 12 9.1 4.4 2.6 8.6 3.5 4 3.2 1.5 2.3 0.9 3 0 3 -0.6 3 0.4 2 6.3 6 11.5 13.1 6 5.3 2 2.6 6.6 16 5.9 20 4.3 16 2.7 13 1.8 13 0.7 13 -0.5 12 -3.2 25 -2.2 13 -2.3 9 -2.8 7 -3 5.1 -3.3 3.9 -9.3 9 -4.6 5 -5.2 7 -3.2 6 -1.7 6 -2 18 -8.7 35 -4 11.4 -9 20.5 -7 10.8 -12 15.2 -7 5.9 -7 3.2z"/>
<path fill="#7aff00" d="M656.0 465.2l-3 0.5 -2-0.3 -5-2.8 -8-7.8 -4.7-6.8 -1.6-4 -0.9-4 -1.8-20 -2.2-10 -2.5-6 -2.6-5 -4-6 -5.7-7.4 -2.6-4.6 -1.7-5 -2.7-13 -4-11.8 -2-3.2 -18-15.1 -5-6.1 -7-10.9 -4.7-5.9 -6.3-6.3 -7.1-5.7 -3.8-5 -8.1-7.2 -23-23.6 -14.9-12.2 -7.1-4.3 -3.5-2.7 -4.1-6 -3.4-9.8 -3-3.5 -3-2.2 -4-1.7 -14.3-3.8 -2.7-1.4 -1.9-1.6 -0.6-1 0-2 2.1-3 10-10 7.6-6 12.8-7.1 4-1.1 3-0.2 4 0.7 10 3.1 7 1.5 18 2 35 2.9 9 2 7 2.4 6 3.3 5.5 4.5 14.1 10 14.4 9.2 12.9 9.8 3.1 1.5 8 2.2 3.9 2.3 1.6 2 1.2 3 0 3 -1 4 0.7 2 7 7 6.7 8 4.9 6.7 6.6 5.3 5.4 13 2.6 8 6.9 26 3.2 15 1.5 12 0.6 14 -0.4 11 -1.3 13 -2.1 16 -2.2 12 -2.5 9 -3.1 7 -3.2 4.6 -5 5 -16 14.3 -4 2.8 -3 1.5zM620.0 571.3l-2 0 -1.5-1.3 -0.8-2 -0.1-3 4.6-24 1.4-5 2.4-5.3 13-23.2 5-6.3 2-1.4 1-0.1 1.3 1.3 0.6 3 0.1 12 -1.3 11 -2.7 10.1 -6 14.2 -5 9.4 -3 4 -3 3.1 -3 2.2 -3 1.3z"/>
<path fill="#92ff00" d="M657.0 455.2l-5 0.3 -5-1.9 -5-3.9 -3.3-4.7 -1.5-4 -0.7-4 -1.2-18 -2.7-9 -4.1-9 -4.5-7.7 -4.1-5.3 -6.9-7.2 -2-3.2 -8-24.6 -2-4.5 -3.2-3.5 -15.5-13 -5.3-6.4 -7.1-10.6 -3.9-5 -6-6.1 -8-6.8 -3.1-4.1 -8.9-7.8 -13-12.8 -10-10.8 -14.4-11.6 -8.4-5 -3.3-3 -2-3 -1.2-3 -0.6-3 -0.1-7 -2-5.2 -4-4.3 -9.1-5.5 -1.9-2.8 0-2.2 1.4-3 2.4-3 3.2-2.6 7-3.4 7-1 16 2.6 20-1 15 0.1 20 1.1 10 1.7 11 3.9 4 2.5 3.1 3.1 7.9 3.5 9.9 7.5 13.1 8.1 14 10.5 3.4 1.4 8.6 1.7 2 1 2 1.9 1.4 3.4 -1 6 0.6 2.5 6.1 6.5 8 10 4.3 8 4.6 3.2 1.7 1.8 4.9 11 3.6 12 6.3 26 2 12 0.9 12 -0.2 17 -1.4 16 -3.8 23.9 -2 9.1 -2 6.5 -3.3 6.5 -5.7 6.4 -12 9.5 -4 2.3 -3 1z"/>
<path fill="#aaff00" d="M658.0 445.0l-3 0.4 -3-0.5 -3-1.8 -2-2.5 -1.1-2.6 -0.5-3 0.1-14 -1.6-5 -16.9-28 -3.5-4 -8.5-7.5 -3-4 -3-6.5 -5.9-16 -2.1-3.4 -3-3 -14-12 -6-7.2 -7.2-10.4 -4.1-5 -5.9-6 -6.8-6 -4-4.7 -13-11.5 -10-9.9 -9-9.9 -15.2-12 -8.6-5 -2.7-3 -1.7-4 -0.1-3 3.3-9 2-3.6 4-3.7 19-13 4-2.1 5-1.7 5-1.1 7-0.6 21 0.2 7 0.9 7 1.7 7 2.6 7.3 4.4 7.7 3 9 7.2 14 8.7 14 10.3 4 1.7 9 1.4 2 0.9 2.1 1.8 1.1 3 -0.9 6 0.5 2 5.4 6 8.8 11.4 4 8.5 6 6.1 4 8.3 3.3 10.7 4.8 21 2.3 13 1 10 -0.5 18 -2.3 21 -2.6 12.4 -7 23.8 -3 6.5 -4 4.9 -7 5.7 -6 2.7z"/>
<path fill="#c1ff00" d="M665.0 407.1l-6 0.6 -6-0.5 -5-1.7 -5-3.6 -4-4.7 -6.6-11.2 -3.4-4.4 -2.7-2.6 -10.3-7.6 -4-4.1 -3-5.7 -5-12.1 -2.1-3.5 -2.9-3.1 -9.5-7.9 -5.1-5 -16.4-21.4 -16.7-16.6 -14.3-12.5 -9.5-9.5 -10.1-11 -14.4-11 -8.6-5 -1.5-2 -0.8-2 0.1-3 5.8-7.9 2-2 18-13.9 6-3.9 5-2.3 6-1.6 7-0.8 12-0.4 9 0.5 10 2.1 12 4.3 7 2 3 1.9 9 7.6 13 7.9 14 10.2 5 2.1 10 1.6 2.6 1.6 1.4 3 -0.9 5 0.8 3 4.5 5 4.9 7 5 6 3.7 8.3 5.1 6.7 3.4 7 2.4 7 2.1 9 3.4 17 1.9 13 0.4 10 -0.7 10 -3 18.3 -2.6 10.7 -2.4 6 -3.5 5 -4.5 3.4 -5 1.7z"/>
<path fill="#d9ff00" d="M661.0 398.1l-4 0.6 -4-0.1 -3-0.9 -3-1.6 -4-3.9 -6.7-10.2 -4.8-5 -3.5-2.8 -15-9.8 -3-4.5 -5.6-11.9 -1.9-3 -2.5-2.7 -8.7-7.3 -5-5 -17.3-22 -16.1-16 -15.9-13.7 -4.6-5.3 -8.4-8.1 -5-5.9 -16-12.3 -7.1-3.7 -0.9-1 -0.9-2 0.9-2.7 21-18.7 13-7.8 5-1.7 6-1.1 11-0.8 8 0.1 9 1.3 14 3.8 8.2 1.6 11 9 14.8 8.8 14 9.9 5 2.2 10 2.1 2.2 1 0.9 2 -0.7 4 0.7 3 1.3 2 4 4 4.4 7 6.1 7 3.1 7.5 4.5 7.5 2.7 6 2.3 7 1.9 8 4.5 29 0.3 9 -1.2 10 -2.2 9 -4.8 14.6 -2.5 5.4 -2.9 4 -3.8 3 -4.8 2.1z"/>
<path fill="#f0ff00" d="M658.0 389.0l-4 0.3 -3-1.1 -3-2.5 -5-5.7 -4.6-4 -9.4-6.4 -9.5-5.6 -4.5-2.1 -2-1.5 -3-3.7 -4.9-9.7 -2.1-3.1 -14.8-13.9 -18.5-23 -16.2-16 -16.5-14 -4-5 -8-7.5 -5.5-6.5 -10.5-7.7 -5-4.5 -6.7-3.8 -0.6-1 0.3-1.1 3-2.2 6.1-6.7 10.9-9.7 12-6.6 5-1.8 6-1.2 10-0.7 8 0.1 11 1.8 19 5.2 12.4 7.9 14.6 8.1 15 10.3 8 3.6 4.2 3 1.8 2.2 2.5 4.8 4.5 4.1 5 7.9 6 5.9 1.9 3.1 2.5 7 5.2 11 2.6 8 2.5 13 2.5 19 0.6 8 -0.2 6 -1.3 7 -2 6 -3.3 6.7 -8 12.6 -3.4 3.7 -3.6 2z"/>
<path fill="#fff500" d="M658.0 373.2l-3 0.5 -4-0.1 -9-2.3 -6-2.7 -16-9 -6-2 -2-1.3 -2.6-3.3 -3.7-7 -2.7-3.9 -13-12.1 -18.8-23 -16.2-16.2 -17.8-14.8 -4.2-5.6 -7.1-6.4 -4.9-6.1 -11.6-8.9 -4.6-5 -1.3-2 0.1-2 1.9-4 2.2-3 11.3-10.1 8-4.1 5-2 6-1.5 7-0.7 9 0 8 0.8 16 3.7 10 3.6 27 14.3 23.2 16 7.8 9.9 5 4.5 4.9 6.6 4.7 3 1.7 2 2.6 8 5.5 14 2.7 11 3.3 29 0 7 -1 6 -2.4 6.6 -4 5.6 -5 4.3 -6 2.7z"/>
<path fill="#ffdb00" d="M654.0 366.0l-7 0.3 -6-1 -4-1.6 -15-7.8 -2-0.6 -5-0.1 -3-1.3 -2-2.3 -3.5-6.6 -2.5-3.5 -11.2-10.5 -20-24 -17.8-17.8 -4.7-4.2 -5.3-3.7 -7-5.7 -2-2.3 -2-3.5 -8-7.2 -4.4-5.6 -11.8-10 -1.6-3 -0.3-3 1.4-5 2.2-3 5.5-5.1 4-3 7-3.4 6-2 6-1.1 7-0.4 8 0.3 8 1.1 11 2.5 9 2.8 28 13.1 11 6.7 14 11.3 8 9.9 7 6.3 4 6.4 4 0.5 1.4 1.1 6.6 19 3.1 12 3 29 -0.1 7 -1 5.4 -2 4.7 -4 4.4 -5 2.9 -7 1.6z"/>
<path fill="#ffc100" d="M655.0 360.2l-7 0.7 -5-0.4 -4-1.2 -13-6.1 -4-0.6 -7 0.6 -3-1.5 -7-11 -10.3-9.7 -9.6-12 -8.8-10 -20.3-20.6 -5-4.4 -4.7-3 -8.3-6.6 -4-6.1 -7-6.4 -4.7-5.9 -8.4-8 -1.6-3 0-3 1.1-5 2.6-3.8 4-3.5 4.2-2.7 5.8-2.6 6-1.7 6-0.8 7-0.2 8 0.6 7 1 10 2.4 8 2.5 30 13.2 9.2 5.6 9.3 8 3.9 4 7.4 9 8.2 6.7 3 6 1 1.1 4 2.9 5 11.2 2.8 10.1 1.3 7 2.4 22 0.2 7 -0.5 5 -1.7 5 -3.1 4 -4.4 2.8 -5 1.4z"/>
<path fill="#ffa600" d="M654.0 355.1l-5 0.6 -5-0.3 -4-1.3 -8-3.6 -4-1.2 -4 0.1 -8 1.8 -3-1.1 -6.6-10.1 -10.5-10 -9.5-12 -5.4-6 -24-24.5 -4-3.5 -5-3.1 -10-7.7 -4-6.7 -7-6.7 -3.7-4.8 -4-4 -1.6-3 -0.2-4 0.8-5 2.3-4 3.4-2.9 4-2.3 5-2 5-1.2 6-0.7 8-0.1 7 0.5 7 1.1 9 2.2 8 2.7 28 11.8 6.6 3.9 10.4 8.5 3 3.1 5 7.1 3 3.3 10 7 3 5.8 3.4 4.2 1.8 3 3.6 10 1.8 9 3 24 0.1 9 -1.3 5 -2.4 3.8 -3 2.4 -5 1.9z"/>
<path fill="#ff8c00" d="M651.0 350.0l-6-0.2 -10-4.1 -4-0.9 -6 0.4 -8.2 2.8 -1.8-0.1 -1-0.7 -6.1-8.2 -9.6-9 -11.2-14 -13.1-12.7 -13-13.9 -6-5.5 -6.2-3.9 -4.8-4 -6-4.1 -4-7.9 -2-2.6 -4-3.5 -4.2-6.9 -0.1-9 0.6-2 1.3-2 2.4-2.1 4-2.1 5-1.7 5.6-1.1 13.4-1 12 1.3 9 2.3 9 3.1 16 7.4 8 2.9 4.8 3 11.2 9.2 2.6 2.8 4.6 7 3.8 4 3 2.2 6 2.6 2 1.5 6.2 11.7 2.4 7 1.6 9 1 15 2 11 0.1 6 -1 4 -2.3 3.6 -3 2.2 -4 1.2z"/>
<path fill="#ff7200" d="M650.0 342.3l-4-0.2 -7-2.6 -4-0.7 -4 0.3 -9 1.9 -5 0 -3-0.7 -3-2 -10-8.7 -11.9-14.6 -14.1-12.6 -16-17.1 -4-3.3 -4.9-3 -5.1-4.6 -6.2-3.4 -1.2-2 -1.6-8.2 -3.6-11.8 -0.1-3 1.5-3 2.7-2 4-2 10.5-4 8-1.1 9 0.8 8 1.9 7 2.4 18 8.2 6 2.1 4.5 2.7 7.2 6 5.4 5 6.9 9.2 3.7 3.8 3.3 2.3 8.1 3.7 5.1 10 1.5 5 1 6 0.1 6 -0.8 13 2 13 -0.5 3 -1 2 -1.5 1.4 -2 0.9z"/>
<path fill="#ff5800" d="M625.0 335.0l-5 0.9 -4-0.5 -4-1.6 -5-3.3 -4-3.6 -11.2-12.9 -15.8-12.8 -16-17.5 -8.2-6.7 -4.8-6.1 -3-1.9 -3-0.3 -0.2-0.7 1.2-1.4 0.5-1.6 -0.9-8 0.4-4 1-2.1 4.8-6.9 2.8-3 3.4-1.9 4-1.1 4-0.3 5 0.4 11 2.5 16 6.5 11.8 5.9 5.2 3.6 9 8.1 11 13.3 4 3 8 4 2 1.9 1.9 3.1 1.4 4 1.1 9 -1.1 9 -3.7 12 -1.7 3 -2.9 2.4 -15 5.6z"/>
<path fill="#ff3d00" d="M622.0 330.0l-4 0.2 -3-0.7 -3.2-1.5 -3.8-2.6 -14-14.1 -14-9.5 -3.5-2.8 -18.8-22 -7.6-11 -1.5-3 -0.7-3 0.4-4 2.9-8 1.1-2 1.7-1.7 3-1.5 3-0.8 4-0.2 5 0.5 8 1.8 16 6.3 11 6.6 6 4.4 7 6.6 11 13.1 4 3 7 3.9 3 2.8 2 4.2 0.7 7 -1.1 7 -3 8 -2.6 4.2 -4 3.7 -6 3.2 -6 1.9z"/>
<path fill="#ff2300" d="M622.0 323.1l-5 0 -4.9-2.1 -15.1-13.4 -5-3.2 -12-6.3 -5-4.4 -8.5-10.7 -10.3-18 -1.3-4 -0.4-4 0.2-5 1.1-2 2.2-1.2 4-1.3 4-0.3 4 0.3 8 2 13 5.3 9.9 6.2 7.1 5.4 6 5.9 11 13.4 10.9 8.3 1.8 3 0.8 4 -0.5 5 -2 6 -2.4 4 -2.8 3 -3.8 2.4 -5 1.7z"/>
<path fill="#ff0900" d="M617.0 303.1l-2 0.5 -3-0.3 -20-5.7 -9-3.6 -5-3.4 -3.5-3.6 -3-4 -4.6-10 -1.2-5 -0.3-4 0.5-4 1.1-1.9 2-1.3 4-0.7 5 0.6 4.5 1.3 4.7 2 5.3 3 10.5 8 7 7.9 4.5 8.1 3.6 11 0.1 3 -1.2 2.1z"/>
<path fill="#ff0000" d="M589.0 287.1l-3-0.1 -3-1.2 -3-2.3 -2.1-2.5 -1.9-3.9 -0.4-3.1 0.8-3 1.6-1.7 3-0.8 4 0.9 4.1 2.6 3.5 4 1.5 4 -0.3 3 -1.8 2.6 -3 1.5z"/>
</g>
<path fill="#fff" fill-rule="evenodd" d="M0 0H900V900H0ZM117.6 445.3a327.7 327.7 0 1 0 655.4 0a327.7 327.7 0 1 0 -655.4 0Z"/>
<text x="44.3" y="45" font-size="47.9">Equatorial Pitch Angle Averaged Ions</text>
<text x="340.7" y="90" font-size="47.7">CIMI results</text>
<g stroke="#fff" stroke-width="0.8" stroke-opacity="0.75">
<line x1="445.5" y1="117.6" x2="445.5" y2="131"/>
<line x1="445.5" y1="760" x2="445.5" y2="773"/>
<line x1="117.6" y1="445.5" x2="131" y2="445.5"/>
<line x1="760" y1="445.5" x2="773" y2="445.5"/>
</g>
<circle cx="445.8" cy="445.3" r="41.7" fill="#000"/>
<path d="M446.3 403.6A41.7 41.7 0 0 0 446.3 487Z" fill="#fff"/>
<g stroke="#000" stroke-width="2" fill="none">
<line x1="582" y1="291.3" x2="615" y2="291.3"/>
<line x1="598.3" y1="275" x2="598.3" y2="307.5"/>
<line x1="582" y1="275" x2="615" y2="307.5"/>
<line x1="582" y1="307.5" x2="615" y2="275"/>
</g>
<text x="301" y="810" font-size="42.5">flux (/s/cm<tspan x="494.6" y="791" font-size="26">2</tspan><tspan x="509.3" y="810" font-size="42.3">/eV/sr)</tspan></text>
<rect x="175.80" y="819.2" width="584.20" height="35.5" fill="#0a0009"/>
<rect x="185.54" y="819.2" width="574.46" height="35.5" fill="#1e001c"/>
<rect x="195.27" y="819.2" width="564.73" height="35.5" fill="#30002f"/>
<rect x="205.01" y="819.2" width="554.99" height="35.5" fill="#3f0042"/>
<rect x="214.75" y="819.2" width="545.25" height="35.5" fill="#4c0055"/>
<rect x="224.48" y="819.2" width="535.52" height="35.5" fill="#530068"/>
<rect x="234.22" y="819.2" width="525.78" height="35.5" fill="#57007b"/>
<rect x="243.96" y="819.2" width="516.04" height="35.5" fill="#56008e"/>
<rect x="253.69" y="819.2" width="506.31" height="35.5" fill="#5000a1"/>
<rect x="263.43" y="819.2" width="496.57" height="35.5" fill="#4500b4"/>
<rect x="273.17" y="819.2" width="486.83" height="35.5" fill="#3700c7"/>
<rect x="282.90" y="819.2" width="477.10" height="35.5" fill="#2600da"/>
<rect x="292.64" y="819.2" width="467.36" height="35.5" fill="#1300ed"/>
<rect x="302.38" y="819.2" width="457.62" height="35.5" fill="#0001ff"/>
<rect x="312.11" y="819.2" width="447.89" height="35.5" fill="#001aff"/>
<rect x="321.85" y="819.2" width="438.15" height="35.5" fill="#0033ff"/>
<rect x="331.59" y="819.2" width="428.41" height="35.5" fill="#004bff"/>
<rect x="341.32" y="819.2" width="418.68" height="35.5" fill="#0064ff"/>
<rect x="351.06" y="819.2" width="408.94" height="35.5" fill="#007cff"/>
<rect x="360.80" y="819.2" width="399.20" height="35.5" fill="#0095ff"/>
<rect x="370.53" y="819.2" width="389.47" height="35.5" fill="#00adff"/>
<rect x="380.27" y="819.2" width="379.73" height="35.5" fill="#00c6ff"/>
<rect x="390.01" y="819.2" width="369.99" height="35.5" fill="#00dfff"/>
<rect x="399.74" y="819.2" width="360.26" height="35.5" fill="#00f7ff"/>
<rect x="409.48" y="819.2" width="350.52" height="35.5" fill="#00ffee"/>
<rect x="419.22" y="819.2" width="340.78" height="35.5" fill="#00ffd6"/>
<rect x="428.95" y="819.2" width="331.05" height="35.5" fill="#00ffbe"/>
<rect x="438.69" y="819.2" width="321.31" height="35.5" fill="#00ffa6"/>
<rect x="448.43" y="819.2" width="311.57" height="35.5" fill="#00ff8d"/>
<rect x="458.16" y="819.2" width="301.84" height="35.5" fill="#00ff75"/>
<rect x="467.90" y="819.2" width="292.10" height="35.5" fill="#00ff5d"/>
<rect x="477.64" y="819.2" width="282.36" height="35.5" fill="#00ff44"/>
<rect x="487.37" y="819.2" width="272.63" height="35.5" fill="#00ff2c"/>
<rect x="497.11" y="819.2" width="262.89" height="35.5" fill="#00ff14"/>
<rect x="506.85" y="819.2" width="253.15" height="35.5" fill="#04ff00"/>
<rect x="516.58" y="819.2" width="243.42" height="35.5" fill="#1cff00"/>
<rect x="526.32" y="819.2" width="233.68" height="35.5" fill="#33ff00"/>
<rect x="536.06" y="819.2" width="223.94" height="35.5" fill="#4bff00"/>
<rect x="545.79" y="819.2" width="214.21" height="35.5" fill="#63ff00"/>
<rect x="555.53" y="819.2" width="204.47" height="35.5" fill="#7aff00"/>
<rect x="565.27" y="819.2" width="194.73" height="35.5" fill="#92ff00"/>
<rect x="575.00" y="819.2" width="185.00" height="35.5" fill="#aaff00"/>
<rect x="584.74" y="819.2" width="175.26" height="35.5" fill="#c1ff00"/>
<rect x="594.48" y="819.2" width="165.52" height="35.5" fill="#d9ff00"/>
<rect x="604.21" y="819.2" width="155.79" height="35.5" fill="#f0ff00"/>
<rect x="613.95" y="819.2" width="146.05" height="35.5" fill="#fff500"/>
<rect x="623.69" y="819.2" width="136.31" height="35.5" fill="#ffdb00"/>
<rect x="633.42" y="819.2" width="126.58" height="35.5" fill="#ffc100"/>
<rect x="643.16" y="819.2" width="116.84" height="35.5" fill="#ffa600"/>
<rect x="652.90" y="819.2" width="107.10" height="35.5" fill="#ff8c00"/>
<rect x="662.63" y="819.2" width="97.37" height="35.5" fill="#ff7200"/>
<rect x="672.37" y="819.2" width="87.63" height="35.5" fill="#ff5800"/>
<rect x="682.11" y="819.2" width="77.89" height="35.5" fill="#ff3d00"/>
<rect x="691.84" y="819.2" width="68.16" height="35.5" fill="#ff2300"/>
<rect x="701.58" y="819.2" width="58.42" height="35.5" fill="#ff0900"/>
<rect x="711.32" y="819.2" width="48.68" height="35.5" fill="#ff0000"/>
<rect x="721.05" y="819.2" width="38.95" height="35.5" fill="#ff0000"/>
<rect x="730.79" y="819.2" width="29.21" height="35.5" fill="#ff0000"/>
<rect x="740.53" y="819.2" width="19.47" height="35.5" fill="#ff0000"/>
<rect x="750.26" y="819.2" width="9.74" height="35.5" fill="#ff0000"/>
<text x="155.7" y="881.8" font-size="36.5">0.0</text>
<text x="692.2" y="881.8" font-size="36.5" textLength="136.1" lengthAdjust="spacing">1.2e+03</text>
</svg>
</body>
</html>
